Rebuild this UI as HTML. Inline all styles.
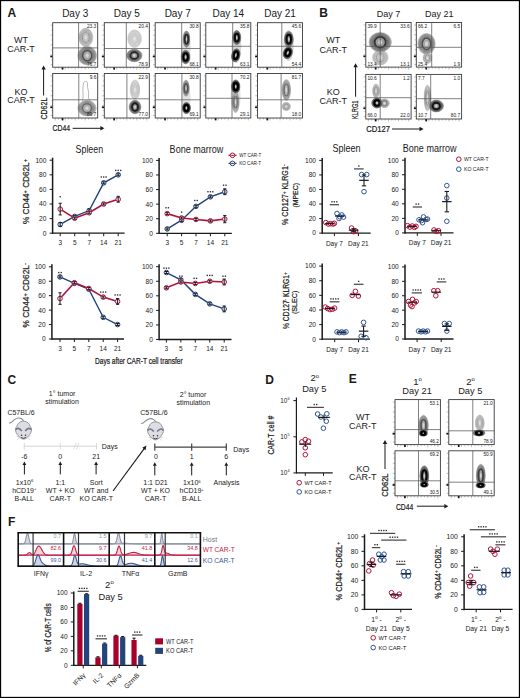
<!DOCTYPE html>
<html><head><meta charset="utf-8"><style>
html,body{margin:0;padding:0;background:#fff;}
svg{display:block;}
text{font-family:"Liberation Sans", sans-serif;}
</style></head><body>
<svg width="520" height="698" viewBox="0 0 520 698" font-family="Liberation Sans, sans-serif" fill="#1a1a1a">
<rect x="0" y="0" width="520" height="698" fill="#fff"/>
<text x="7.4" y="17" font-size="12" font-weight="bold">A</text>
<text x="75.2" y="17" font-size="10" text-anchor="middle">Day 3</text>
<text x="126.8" y="17" font-size="10" text-anchor="middle">Day 5</text>
<text x="177.7" y="17" font-size="10" text-anchor="middle">Day 7</text>
<text x="228.3" y="17" font-size="10" text-anchor="middle">Day 14</text>
<text x="280" y="17" font-size="10" text-anchor="middle">Day 21</text>
<text x="21" y="43" font-size="9" text-anchor="middle">WT</text>
<text x="21" y="52" font-size="9" text-anchor="middle">CAR-T</text>
<text x="21" y="94.6" font-size="9" text-anchor="middle">KO</text>
<text x="21" y="103.4" font-size="9" text-anchor="middle">CAR-T</text>
<line x1="43.6" y1="95.5" x2="43.6" y2="69.1" stroke="#1a1a1a" stroke-width="1"/>
<path d="M41.4 69.6 L43.6 65.6 L45.8 69.6 Z" stroke="none" stroke-width="1" fill="#1a1a1a"/>
<text x="47" y="119.6" font-size="9" textLength="22" lengthAdjust="spacingAndGlyphs" transform="rotate(-90 47 119.6)" stroke="#1a1a1a" stroke-width="0.22">CD62L</text>
<text x="52.5" y="131.2" font-size="9" textLength="17.5" lengthAdjust="spacingAndGlyphs" stroke="#1a1a1a" stroke-width="0.22">CD44</text>
<line x1="72.7" y1="128.3" x2="100.9" y2="128.3" stroke="#1a1a1a" stroke-width="1"/>
<path d="M100.4 126.1 L104.4 128.3 L100.4 130.5 Z" stroke="none" stroke-width="1" fill="#1a1a1a"/>
<line x1="50.5" y1="25.2" x2="52.7" y2="25.2" stroke="#888" stroke-width="0.55"/>
<line x1="51.3" y1="30.14" x2="52.7" y2="30.14" stroke="#888" stroke-width="0.55"/>
<line x1="50.5" y1="35.08" x2="52.7" y2="35.08" stroke="#888" stroke-width="0.55"/>
<line x1="51.3" y1="40.01" x2="52.7" y2="40.01" stroke="#888" stroke-width="0.55"/>
<line x1="50.5" y1="44.95" x2="52.7" y2="44.95" stroke="#888" stroke-width="0.55"/>
<line x1="51.3" y1="49.89" x2="52.7" y2="49.89" stroke="#888" stroke-width="0.55"/>
<line x1="50.5" y1="54.83" x2="52.7" y2="54.83" stroke="#888" stroke-width="0.55"/>
<line x1="51.3" y1="59.76" x2="52.7" y2="59.76" stroke="#888" stroke-width="0.55"/>
<line x1="50.5" y1="64.7" x2="52.7" y2="64.7" stroke="#888" stroke-width="0.55"/>
<line x1="55.2" y1="67.2" x2="55.2" y2="69.6" stroke="#888" stroke-width="0.55"/>
<line x1="58.53" y1="67.2" x2="58.53" y2="68.8" stroke="#888" stroke-width="0.55"/>
<line x1="61.87" y1="67.2" x2="61.87" y2="68.8" stroke="#888" stroke-width="0.55"/>
<line x1="65.2" y1="67.2" x2="65.2" y2="69.6" stroke="#888" stroke-width="0.55"/>
<line x1="68.53" y1="67.2" x2="68.53" y2="68.8" stroke="#888" stroke-width="0.55"/>
<line x1="71.87" y1="67.2" x2="71.87" y2="68.8" stroke="#888" stroke-width="0.55"/>
<line x1="75.2" y1="67.2" x2="75.2" y2="69.6" stroke="#888" stroke-width="0.55"/>
<line x1="78.53" y1="67.2" x2="78.53" y2="68.8" stroke="#888" stroke-width="0.55"/>
<line x1="81.87" y1="67.2" x2="81.87" y2="68.8" stroke="#888" stroke-width="0.55"/>
<line x1="85.2" y1="67.2" x2="85.2" y2="69.6" stroke="#888" stroke-width="0.55"/>
<line x1="88.53" y1="67.2" x2="88.53" y2="68.8" stroke="#888" stroke-width="0.55"/>
<line x1="91.87" y1="67.2" x2="91.87" y2="68.8" stroke="#888" stroke-width="0.55"/>
<line x1="95.2" y1="67.2" x2="95.2" y2="69.6" stroke="#888" stroke-width="0.55"/>
<rect x="50.3" y="55.63" width="2.4" height="1.7" fill="#111"/>
<rect x="61.7" y="67.2" width="1.7" height="2.4" fill="#111"/>
<rect x="52.7" y="22.7" width="45" height="44.5" fill="#fff" stroke="#3a3a3a" stroke-width="0.9"/>
<ellipse cx="85.8" cy="37.4" rx="7.06" ry="9.4" stroke="#b4b4b4" stroke-width="0.5" fill="#d8d8d8"/>
<ellipse cx="85.8" cy="37.4" rx="6.3" ry="8.7" stroke="#a4a4a4" stroke-width="0.62" fill="none"/>
<ellipse cx="85.8" cy="37.4" rx="5.67" ry="7.83" stroke="#9f9f9f" stroke-width="0.62" fill="none"/>
<ellipse cx="85.8" cy="37.4" rx="5.04" ry="6.96" stroke="#9b9b9b" stroke-width="0.62" fill="none"/>
<ellipse cx="85.8" cy="37.4" rx="4.41" ry="6.09" stroke="#979797" stroke-width="0.62" fill="none"/>
<ellipse cx="85.8" cy="37.4" rx="3.47" ry="5.22" stroke="#909090" stroke-width="0.95" fill="#c0c0c0"/>
<ellipse cx="85.8" cy="37.4" rx="1.26" ry="2.17" stroke="none" stroke-width="1" fill="#dfdfdf"/>
<ellipse cx="87.2" cy="55.6" rx="9.41" ry="9.29" stroke="#9e9e9e" stroke-width="0.5" fill="#c7c7c7"/>
<ellipse cx="87.2" cy="55.6" rx="8.4" ry="8.6" stroke="#8c8c8c" stroke-width="0.81" fill="none"/>
<ellipse cx="87.2" cy="55.6" rx="7.73" ry="7.91" stroke="#848484" stroke-width="0.81" fill="none"/>
<ellipse cx="87.2" cy="55.6" rx="7.06" ry="7.22" stroke="#7d7d7d" stroke-width="0.81" fill="none"/>
<ellipse cx="87.2" cy="55.6" rx="6.38" ry="6.54" stroke="#757575" stroke-width="0.81" fill="none"/>
<ellipse cx="87.2" cy="55.6" rx="5.71" ry="5.85" stroke="#6e6e6e" stroke-width="0.81" fill="none"/>
<ellipse cx="87.2" cy="55.6" rx="4.62" ry="5.16" stroke="#505050" stroke-width="1.46" fill="#a7a7a7"/>
<ellipse cx="87.2" cy="55.6" rx="1.68" ry="2.15" stroke="none" stroke-width="1" fill="#d6d6d6"/>
<line x1="78.6" y1="22.7" x2="78.6" y2="67.2" stroke="#555" stroke-width="0.75"/>
<line x1="52.7" y1="47.9" x2="97.7" y2="47.9" stroke="#555" stroke-width="0.75"/>
<text x="96.3" y="28.3" font-size="4.8" text-anchor="end">23.3</text>
<text x="96.3" y="65.6" font-size="4.8" text-anchor="end">76.7</text>
<line x1="102.1" y1="25.2" x2="104.3" y2="25.2" stroke="#888" stroke-width="0.55"/>
<line x1="102.9" y1="30.14" x2="104.3" y2="30.14" stroke="#888" stroke-width="0.55"/>
<line x1="102.1" y1="35.08" x2="104.3" y2="35.08" stroke="#888" stroke-width="0.55"/>
<line x1="102.9" y1="40.01" x2="104.3" y2="40.01" stroke="#888" stroke-width="0.55"/>
<line x1="102.1" y1="44.95" x2="104.3" y2="44.95" stroke="#888" stroke-width="0.55"/>
<line x1="102.9" y1="49.89" x2="104.3" y2="49.89" stroke="#888" stroke-width="0.55"/>
<line x1="102.1" y1="54.83" x2="104.3" y2="54.83" stroke="#888" stroke-width="0.55"/>
<line x1="102.9" y1="59.76" x2="104.3" y2="59.76" stroke="#888" stroke-width="0.55"/>
<line x1="102.1" y1="64.7" x2="104.3" y2="64.7" stroke="#888" stroke-width="0.55"/>
<line x1="106.8" y1="67.2" x2="106.8" y2="69.6" stroke="#888" stroke-width="0.55"/>
<line x1="110.13" y1="67.2" x2="110.13" y2="68.8" stroke="#888" stroke-width="0.55"/>
<line x1="113.47" y1="67.2" x2="113.47" y2="68.8" stroke="#888" stroke-width="0.55"/>
<line x1="116.8" y1="67.2" x2="116.8" y2="69.6" stroke="#888" stroke-width="0.55"/>
<line x1="120.13" y1="67.2" x2="120.13" y2="68.8" stroke="#888" stroke-width="0.55"/>
<line x1="123.47" y1="67.2" x2="123.47" y2="68.8" stroke="#888" stroke-width="0.55"/>
<line x1="126.8" y1="67.2" x2="126.8" y2="69.6" stroke="#888" stroke-width="0.55"/>
<line x1="130.13" y1="67.2" x2="130.13" y2="68.8" stroke="#888" stroke-width="0.55"/>
<line x1="133.47" y1="67.2" x2="133.47" y2="68.8" stroke="#888" stroke-width="0.55"/>
<line x1="136.8" y1="67.2" x2="136.8" y2="69.6" stroke="#888" stroke-width="0.55"/>
<line x1="140.13" y1="67.2" x2="140.13" y2="68.8" stroke="#888" stroke-width="0.55"/>
<line x1="143.47" y1="67.2" x2="143.47" y2="68.8" stroke="#888" stroke-width="0.55"/>
<line x1="146.8" y1="67.2" x2="146.8" y2="69.6" stroke="#888" stroke-width="0.55"/>
<rect x="101.9" y="55.63" width="2.4" height="1.7" fill="#111"/>
<rect x="113.3" y="67.2" width="1.7" height="2.4" fill="#111"/>
<rect x="104.3" y="22.7" width="45" height="44.5" fill="#fff" stroke="#3a3a3a" stroke-width="0.9"/>
<ellipse cx="134.6" cy="38.7" rx="6.94" ry="8.86" stroke="#c2c2c2" stroke-width="0.5" fill="#e3e3e3"/>
<ellipse cx="134.6" cy="38.7" rx="6.2" ry="8.2" stroke="#b3b3b3" stroke-width="0.5" fill="none"/>
<ellipse cx="134.6" cy="38.7" rx="5.37" ry="7.11" stroke="#b1b1b1" stroke-width="0.5" fill="none"/>
<ellipse cx="134.6" cy="38.7" rx="4.55" ry="6.01" stroke="#b0b0b0" stroke-width="0.5" fill="none"/>
<ellipse cx="134.6" cy="38.7" rx="3.41" ry="4.92" stroke="#b8b8b8" stroke-width="0.63" fill="#d0d0d0"/>
<ellipse cx="134.6" cy="38.7" rx="1.24" ry="2.05" stroke="none" stroke-width="1" fill="#e5e5e5"/>
<ellipse cx="134.3" cy="55.5" rx="7.84" ry="6.26" stroke="#909090" stroke-width="0.5" fill="#bcbcbc"/>
<ellipse cx="134.3" cy="55.5" rx="7" ry="5.8" stroke="#7d7d7d" stroke-width="0.93" fill="none"/>
<ellipse cx="134.3" cy="55.5" rx="6.3" ry="5.22" stroke="#717171" stroke-width="0.93" fill="none"/>
<ellipse cx="134.3" cy="55.5" rx="5.6" ry="4.64" stroke="#656565" stroke-width="0.93" fill="none"/>
<ellipse cx="134.3" cy="55.5" rx="4.9" ry="4.06" stroke="#595959" stroke-width="0.93" fill="none"/>
<ellipse cx="134.3" cy="55.5" rx="3.85" ry="3.48" stroke="#282828" stroke-width="1.78" fill="#979797"/>
<ellipse cx="134.3" cy="55.5" rx="1.4" ry="1.45" stroke="none" stroke-width="1" fill="#d0d0d0"/>
<line x1="126.3" y1="22.7" x2="126.3" y2="67.2" stroke="#555" stroke-width="0.75"/>
<line x1="104.3" y1="48.5" x2="149.3" y2="48.5" stroke="#555" stroke-width="0.75"/>
<text x="147.9" y="28.3" font-size="4.8" text-anchor="end">20.4</text>
<text x="147.9" y="65.6" font-size="4.8" text-anchor="end">78.9</text>
<line x1="153" y1="25.2" x2="155.2" y2="25.2" stroke="#888" stroke-width="0.55"/>
<line x1="153.8" y1="30.14" x2="155.2" y2="30.14" stroke="#888" stroke-width="0.55"/>
<line x1="153" y1="35.08" x2="155.2" y2="35.08" stroke="#888" stroke-width="0.55"/>
<line x1="153.8" y1="40.01" x2="155.2" y2="40.01" stroke="#888" stroke-width="0.55"/>
<line x1="153" y1="44.95" x2="155.2" y2="44.95" stroke="#888" stroke-width="0.55"/>
<line x1="153.8" y1="49.89" x2="155.2" y2="49.89" stroke="#888" stroke-width="0.55"/>
<line x1="153" y1="54.83" x2="155.2" y2="54.83" stroke="#888" stroke-width="0.55"/>
<line x1="153.8" y1="59.76" x2="155.2" y2="59.76" stroke="#888" stroke-width="0.55"/>
<line x1="153" y1="64.7" x2="155.2" y2="64.7" stroke="#888" stroke-width="0.55"/>
<line x1="157.7" y1="67.2" x2="157.7" y2="69.6" stroke="#888" stroke-width="0.55"/>
<line x1="161.03" y1="67.2" x2="161.03" y2="68.8" stroke="#888" stroke-width="0.55"/>
<line x1="164.37" y1="67.2" x2="164.37" y2="68.8" stroke="#888" stroke-width="0.55"/>
<line x1="167.7" y1="67.2" x2="167.7" y2="69.6" stroke="#888" stroke-width="0.55"/>
<line x1="171.03" y1="67.2" x2="171.03" y2="68.8" stroke="#888" stroke-width="0.55"/>
<line x1="174.37" y1="67.2" x2="174.37" y2="68.8" stroke="#888" stroke-width="0.55"/>
<line x1="177.7" y1="67.2" x2="177.7" y2="69.6" stroke="#888" stroke-width="0.55"/>
<line x1="181.03" y1="67.2" x2="181.03" y2="68.8" stroke="#888" stroke-width="0.55"/>
<line x1="184.37" y1="67.2" x2="184.37" y2="68.8" stroke="#888" stroke-width="0.55"/>
<line x1="187.7" y1="67.2" x2="187.7" y2="69.6" stroke="#888" stroke-width="0.55"/>
<line x1="191.03" y1="67.2" x2="191.03" y2="68.8" stroke="#888" stroke-width="0.55"/>
<line x1="194.37" y1="67.2" x2="194.37" y2="68.8" stroke="#888" stroke-width="0.55"/>
<line x1="197.7" y1="67.2" x2="197.7" y2="69.6" stroke="#888" stroke-width="0.55"/>
<rect x="152.8" y="55.63" width="2.4" height="1.7" fill="#111"/>
<rect x="164.2" y="67.2" width="1.7" height="2.4" fill="#111"/>
<rect x="155.2" y="22.7" width="45" height="44.5" fill="#fff" stroke="#3a3a3a" stroke-width="0.9"/>
<ellipse cx="186" cy="47.5" rx="4.6" ry="17" stroke="none" stroke-width="1" fill="#dedede"/>
<ellipse cx="186.5" cy="39.2" rx="3.36" ry="8.21" stroke="#909090" stroke-width="0.5" fill="#bcbcbc"/>
<ellipse cx="186.5" cy="39.2" rx="3" ry="7.6" stroke="#7d7d7d" stroke-width="0.93" fill="none"/>
<ellipse cx="186.5" cy="39.2" rx="2.6" ry="6.59" stroke="#6e6e6e" stroke-width="0.93" fill="none"/>
<ellipse cx="186.5" cy="39.2" rx="2.2" ry="5.57" stroke="#5f5f5f" stroke-width="0.93" fill="none"/>
<ellipse cx="186.5" cy="39.2" rx="1.65" ry="4.56" stroke="#282828" stroke-width="1.78" fill="#979797"/>
<ellipse cx="186.5" cy="39.2" rx="0.6" ry="1.9" stroke="none" stroke-width="1" fill="#d0d0d0"/>
<ellipse cx="185.6" cy="57" rx="4.48" ry="6.7" stroke="#828282" stroke-width="0.5" fill="#b1b1b1"/>
<ellipse cx="185.6" cy="57" rx="4" ry="6.2" stroke="#6e6e6e" stroke-width="1.05" fill="none"/>
<ellipse cx="185.6" cy="57" rx="3.6" ry="5.58" stroke="#5f5f5f" stroke-width="1.05" fill="none"/>
<ellipse cx="185.6" cy="57" rx="3.2" ry="4.96" stroke="#505050" stroke-width="1.05" fill="none"/>
<ellipse cx="185.6" cy="57" rx="2.8" ry="4.34" stroke="#414141" stroke-width="1.05" fill="none"/>
<ellipse cx="185.6" cy="57" rx="2.2" ry="3.72" stroke="#000000" stroke-width="2.1" fill="#878787"/>
<ellipse cx="185.6" cy="57" rx="0.8" ry="1.55" stroke="none" stroke-width="1" fill="#cacaca"/>
<line x1="181.7" y1="22.7" x2="181.7" y2="67.2" stroke="#555" stroke-width="0.75"/>
<line x1="155.2" y1="48.5" x2="200.2" y2="48.5" stroke="#555" stroke-width="0.75"/>
<text x="198.8" y="28.3" font-size="4.8" text-anchor="end">30.8</text>
<text x="198.8" y="65.6" font-size="4.8" text-anchor="end">68.1</text>
<line x1="203.6" y1="25.2" x2="205.8" y2="25.2" stroke="#888" stroke-width="0.55"/>
<line x1="204.4" y1="30.14" x2="205.8" y2="30.14" stroke="#888" stroke-width="0.55"/>
<line x1="203.6" y1="35.08" x2="205.8" y2="35.08" stroke="#888" stroke-width="0.55"/>
<line x1="204.4" y1="40.01" x2="205.8" y2="40.01" stroke="#888" stroke-width="0.55"/>
<line x1="203.6" y1="44.95" x2="205.8" y2="44.95" stroke="#888" stroke-width="0.55"/>
<line x1="204.4" y1="49.89" x2="205.8" y2="49.89" stroke="#888" stroke-width="0.55"/>
<line x1="203.6" y1="54.83" x2="205.8" y2="54.83" stroke="#888" stroke-width="0.55"/>
<line x1="204.4" y1="59.76" x2="205.8" y2="59.76" stroke="#888" stroke-width="0.55"/>
<line x1="203.6" y1="64.7" x2="205.8" y2="64.7" stroke="#888" stroke-width="0.55"/>
<line x1="208.3" y1="67.2" x2="208.3" y2="69.6" stroke="#888" stroke-width="0.55"/>
<line x1="211.63" y1="67.2" x2="211.63" y2="68.8" stroke="#888" stroke-width="0.55"/>
<line x1="214.97" y1="67.2" x2="214.97" y2="68.8" stroke="#888" stroke-width="0.55"/>
<line x1="218.3" y1="67.2" x2="218.3" y2="69.6" stroke="#888" stroke-width="0.55"/>
<line x1="221.63" y1="67.2" x2="221.63" y2="68.8" stroke="#888" stroke-width="0.55"/>
<line x1="224.97" y1="67.2" x2="224.97" y2="68.8" stroke="#888" stroke-width="0.55"/>
<line x1="228.3" y1="67.2" x2="228.3" y2="69.6" stroke="#888" stroke-width="0.55"/>
<line x1="231.63" y1="67.2" x2="231.63" y2="68.8" stroke="#888" stroke-width="0.55"/>
<line x1="234.97" y1="67.2" x2="234.97" y2="68.8" stroke="#888" stroke-width="0.55"/>
<line x1="238.3" y1="67.2" x2="238.3" y2="69.6" stroke="#888" stroke-width="0.55"/>
<line x1="241.63" y1="67.2" x2="241.63" y2="68.8" stroke="#888" stroke-width="0.55"/>
<line x1="244.97" y1="67.2" x2="244.97" y2="68.8" stroke="#888" stroke-width="0.55"/>
<line x1="248.3" y1="67.2" x2="248.3" y2="69.6" stroke="#888" stroke-width="0.55"/>
<rect x="203.4" y="55.63" width="2.4" height="1.7" fill="#111"/>
<rect x="214.8" y="67.2" width="1.7" height="2.4" fill="#111"/>
<rect x="205.8" y="22.7" width="45" height="44.5" fill="#fff" stroke="#3a3a3a" stroke-width="0.9"/>
<ellipse cx="236.3" cy="46.5" rx="5" ry="16.5" stroke="none" stroke-width="1" fill="#d8d8d8"/>
<ellipse cx="236.8" cy="37.6" rx="4.03" ry="7.13" stroke="#858585" stroke-width="0.5" fill="#b3b3b3"/>
<ellipse cx="236.8" cy="37.6" rx="3.6" ry="6.6" stroke="#717171" stroke-width="1.02" fill="none"/>
<ellipse cx="236.8" cy="37.6" rx="3.12" ry="5.72" stroke="#5f5f5f" stroke-width="1.02" fill="none"/>
<ellipse cx="236.8" cy="37.6" rx="2.64" ry="4.84" stroke="#4e4e4e" stroke-width="1.02" fill="none"/>
<ellipse cx="236.8" cy="37.6" rx="1.98" ry="3.96" stroke="#0a0a0a" stroke-width="2.02" fill="#8b8b8b"/>
<ellipse cx="236.8" cy="37.6" rx="0.72" ry="1.65" stroke="none" stroke-width="1" fill="#cbcbcb"/>
<ellipse cx="235.8" cy="55.3" rx="4.14" ry="6.59" stroke="#7b7b7b" stroke-width="0.5" fill="#ababab" transform="rotate(12 235.8 55.3)"/>
<ellipse cx="235.8" cy="55.3" rx="3.7" ry="6.1" stroke="#666666" stroke-width="1.11" fill="none" transform="rotate(12 235.8 55.3)"/>
<ellipse cx="235.8" cy="55.3" rx="3.33" ry="5.49" stroke="#565656" stroke-width="1.11" fill="none" transform="rotate(12 235.8 55.3)"/>
<ellipse cx="235.8" cy="55.3" rx="2.96" ry="4.88" stroke="#454545" stroke-width="1.11" fill="none" transform="rotate(12 235.8 55.3)"/>
<ellipse cx="235.8" cy="55.3" rx="2.59" ry="4.27" stroke="#353535" stroke-width="1.11" fill="none" transform="rotate(12 235.8 55.3)"/>
<ellipse cx="235.8" cy="55.3" rx="2.04" ry="3.66" stroke="#000000" stroke-width="2.26" fill="#7f7f7f" transform="rotate(12 235.8 55.3)"/>
<ellipse cx="235.8" cy="55.3" rx="0.74" ry="1.52" stroke="none" stroke-width="1" fill="#c7c7c7" transform="rotate(12 235.8 55.3)"/>
<line x1="232.7" y1="22.7" x2="232.7" y2="67.2" stroke="#555" stroke-width="0.75"/>
<line x1="205.8" y1="46.3" x2="250.8" y2="46.3" stroke="#555" stroke-width="0.75"/>
<text x="249.4" y="28.3" font-size="4.8" text-anchor="end">35.8</text>
<text x="249.4" y="65.6" font-size="4.8" text-anchor="end">63.1</text>
<line x1="255.3" y1="25.2" x2="257.5" y2="25.2" stroke="#888" stroke-width="0.55"/>
<line x1="256.1" y1="30.14" x2="257.5" y2="30.14" stroke="#888" stroke-width="0.55"/>
<line x1="255.3" y1="35.08" x2="257.5" y2="35.08" stroke="#888" stroke-width="0.55"/>
<line x1="256.1" y1="40.01" x2="257.5" y2="40.01" stroke="#888" stroke-width="0.55"/>
<line x1="255.3" y1="44.95" x2="257.5" y2="44.95" stroke="#888" stroke-width="0.55"/>
<line x1="256.1" y1="49.89" x2="257.5" y2="49.89" stroke="#888" stroke-width="0.55"/>
<line x1="255.3" y1="54.83" x2="257.5" y2="54.83" stroke="#888" stroke-width="0.55"/>
<line x1="256.1" y1="59.76" x2="257.5" y2="59.76" stroke="#888" stroke-width="0.55"/>
<line x1="255.3" y1="64.7" x2="257.5" y2="64.7" stroke="#888" stroke-width="0.55"/>
<line x1="260" y1="67.2" x2="260" y2="69.6" stroke="#888" stroke-width="0.55"/>
<line x1="263.33" y1="67.2" x2="263.33" y2="68.8" stroke="#888" stroke-width="0.55"/>
<line x1="266.67" y1="67.2" x2="266.67" y2="68.8" stroke="#888" stroke-width="0.55"/>
<line x1="270" y1="67.2" x2="270" y2="69.6" stroke="#888" stroke-width="0.55"/>
<line x1="273.33" y1="67.2" x2="273.33" y2="68.8" stroke="#888" stroke-width="0.55"/>
<line x1="276.67" y1="67.2" x2="276.67" y2="68.8" stroke="#888" stroke-width="0.55"/>
<line x1="280" y1="67.2" x2="280" y2="69.6" stroke="#888" stroke-width="0.55"/>
<line x1="283.33" y1="67.2" x2="283.33" y2="68.8" stroke="#888" stroke-width="0.55"/>
<line x1="286.67" y1="67.2" x2="286.67" y2="68.8" stroke="#888" stroke-width="0.55"/>
<line x1="290" y1="67.2" x2="290" y2="69.6" stroke="#888" stroke-width="0.55"/>
<line x1="293.33" y1="67.2" x2="293.33" y2="68.8" stroke="#888" stroke-width="0.55"/>
<line x1="296.67" y1="67.2" x2="296.67" y2="68.8" stroke="#888" stroke-width="0.55"/>
<line x1="300" y1="67.2" x2="300" y2="69.6" stroke="#888" stroke-width="0.55"/>
<rect x="255.1" y="55.63" width="2.4" height="1.7" fill="#111"/>
<rect x="266.5" y="67.2" width="1.7" height="2.4" fill="#111"/>
<rect x="257.5" y="22.7" width="45" height="44.5" fill="#fff" stroke="#3a3a3a" stroke-width="0.9"/>
<ellipse cx="288.5" cy="45.5" rx="5.3" ry="15.5" stroke="none" stroke-width="1" fill="#d8d8d8"/>
<ellipse cx="288.8" cy="39.2" rx="4.48" ry="7.78" stroke="#858585" stroke-width="0.5" fill="#b3b3b3"/>
<ellipse cx="288.8" cy="39.2" rx="4" ry="7.2" stroke="#717171" stroke-width="1.02" fill="none"/>
<ellipse cx="288.8" cy="39.2" rx="3.47" ry="6.24" stroke="#5f5f5f" stroke-width="1.02" fill="none"/>
<ellipse cx="288.8" cy="39.2" rx="2.93" ry="5.28" stroke="#4e4e4e" stroke-width="1.02" fill="none"/>
<ellipse cx="288.8" cy="39.2" rx="2.2" ry="4.32" stroke="#0a0a0a" stroke-width="2.02" fill="#8b8b8b"/>
<ellipse cx="288.8" cy="39.2" rx="0.8" ry="1.8" stroke="none" stroke-width="1" fill="#cbcbcb"/>
<ellipse cx="287.8" cy="52.8" rx="4.48" ry="6.05" stroke="#7b7b7b" stroke-width="0.5" fill="#ababab" transform="rotate(20 287.8 52.8)"/>
<ellipse cx="287.8" cy="52.8" rx="4" ry="5.6" stroke="#666666" stroke-width="1.11" fill="none" transform="rotate(20 287.8 52.8)"/>
<ellipse cx="287.8" cy="52.8" rx="3.6" ry="5.04" stroke="#565656" stroke-width="1.11" fill="none" transform="rotate(20 287.8 52.8)"/>
<ellipse cx="287.8" cy="52.8" rx="3.2" ry="4.48" stroke="#454545" stroke-width="1.11" fill="none" transform="rotate(20 287.8 52.8)"/>
<ellipse cx="287.8" cy="52.8" rx="2.8" ry="3.92" stroke="#353535" stroke-width="1.11" fill="none" transform="rotate(20 287.8 52.8)"/>
<ellipse cx="287.8" cy="52.8" rx="2.2" ry="3.36" stroke="#000000" stroke-width="2.26" fill="#7f7f7f" transform="rotate(20 287.8 52.8)"/>
<ellipse cx="287.8" cy="52.8" rx="0.8" ry="1.4" stroke="none" stroke-width="1" fill="#c7c7c7" transform="rotate(20 287.8 52.8)"/>
<line x1="281.8" y1="22.7" x2="281.8" y2="67.2" stroke="#555" stroke-width="0.75"/>
<line x1="257.5" y1="46.3" x2="302.5" y2="46.3" stroke="#555" stroke-width="0.75"/>
<text x="301.1" y="28.3" font-size="4.8" text-anchor="end">45.6</text>
<text x="301.1" y="65.6" font-size="4.8" text-anchor="end">54.4</text>
<line x1="50.5" y1="76" x2="52.7" y2="76" stroke="#888" stroke-width="0.55"/>
<line x1="51.3" y1="80.94" x2="52.7" y2="80.94" stroke="#888" stroke-width="0.55"/>
<line x1="50.5" y1="85.88" x2="52.7" y2="85.88" stroke="#888" stroke-width="0.55"/>
<line x1="51.3" y1="90.81" x2="52.7" y2="90.81" stroke="#888" stroke-width="0.55"/>
<line x1="50.5" y1="95.75" x2="52.7" y2="95.75" stroke="#888" stroke-width="0.55"/>
<line x1="51.3" y1="100.69" x2="52.7" y2="100.69" stroke="#888" stroke-width="0.55"/>
<line x1="50.5" y1="105.62" x2="52.7" y2="105.62" stroke="#888" stroke-width="0.55"/>
<line x1="51.3" y1="110.56" x2="52.7" y2="110.56" stroke="#888" stroke-width="0.55"/>
<line x1="50.5" y1="115.5" x2="52.7" y2="115.5" stroke="#888" stroke-width="0.55"/>
<line x1="55.2" y1="118" x2="55.2" y2="120.4" stroke="#888" stroke-width="0.55"/>
<line x1="58.53" y1="118" x2="58.53" y2="119.6" stroke="#888" stroke-width="0.55"/>
<line x1="61.87" y1="118" x2="61.87" y2="119.6" stroke="#888" stroke-width="0.55"/>
<line x1="65.2" y1="118" x2="65.2" y2="120.4" stroke="#888" stroke-width="0.55"/>
<line x1="68.53" y1="118" x2="68.53" y2="119.6" stroke="#888" stroke-width="0.55"/>
<line x1="71.87" y1="118" x2="71.87" y2="119.6" stroke="#888" stroke-width="0.55"/>
<line x1="75.2" y1="118" x2="75.2" y2="120.4" stroke="#888" stroke-width="0.55"/>
<line x1="78.53" y1="118" x2="78.53" y2="119.6" stroke="#888" stroke-width="0.55"/>
<line x1="81.87" y1="118" x2="81.87" y2="119.6" stroke="#888" stroke-width="0.55"/>
<line x1="85.2" y1="118" x2="85.2" y2="120.4" stroke="#888" stroke-width="0.55"/>
<line x1="88.53" y1="118" x2="88.53" y2="119.6" stroke="#888" stroke-width="0.55"/>
<line x1="91.87" y1="118" x2="91.87" y2="119.6" stroke="#888" stroke-width="0.55"/>
<line x1="95.2" y1="118" x2="95.2" y2="120.4" stroke="#888" stroke-width="0.55"/>
<rect x="50.3" y="106.43" width="2.4" height="1.7" fill="#111"/>
<rect x="61.7" y="118" width="1.7" height="2.4" fill="#111"/>
<rect x="52.7" y="73.5" width="45" height="44.5" fill="#fff" stroke="#3a3a3a" stroke-width="0.9"/>
<path d="M82.5 101 C84 96 82 88 83.5 83 C85 80 88 81 87.5 85 C87 88 89.5 92 88.5 96 C88 99 90 100 91 102" stroke="#888" stroke-width="0.6" fill="none"/>
<ellipse cx="87" cy="108.2" rx="9.18" ry="7.78" stroke="#a5a5a5" stroke-width="0.5" fill="#cccccc"/>
<ellipse cx="87" cy="108.2" rx="8.2" ry="7.2" stroke="#939393" stroke-width="0.75" fill="none"/>
<ellipse cx="87" cy="108.2" rx="7.54" ry="6.62" stroke="#8d8d8d" stroke-width="0.75" fill="none"/>
<ellipse cx="87" cy="108.2" rx="6.89" ry="6.05" stroke="#878787" stroke-width="0.75" fill="none"/>
<ellipse cx="87" cy="108.2" rx="6.23" ry="5.47" stroke="#808080" stroke-width="0.75" fill="none"/>
<ellipse cx="87" cy="108.2" rx="5.58" ry="4.9" stroke="#7a7a7a" stroke-width="0.75" fill="none"/>
<ellipse cx="87" cy="108.2" rx="4.51" ry="4.32" stroke="#646464" stroke-width="1.3" fill="#afafaf"/>
<ellipse cx="87" cy="108.2" rx="1.64" ry="1.8" stroke="none" stroke-width="1" fill="#d9d9d9"/>
<line x1="78.8" y1="73.5" x2="78.8" y2="118" stroke="#555" stroke-width="0.75"/>
<line x1="52.7" y1="99.8" x2="97.7" y2="99.8" stroke="#555" stroke-width="0.75"/>
<text x="96.3" y="79.1" font-size="4.8" text-anchor="end">9.6</text>
<text x="96.3" y="116.4" font-size="4.8" text-anchor="end">89.7</text>
<line x1="102.1" y1="76" x2="104.3" y2="76" stroke="#888" stroke-width="0.55"/>
<line x1="102.9" y1="80.94" x2="104.3" y2="80.94" stroke="#888" stroke-width="0.55"/>
<line x1="102.1" y1="85.88" x2="104.3" y2="85.88" stroke="#888" stroke-width="0.55"/>
<line x1="102.9" y1="90.81" x2="104.3" y2="90.81" stroke="#888" stroke-width="0.55"/>
<line x1="102.1" y1="95.75" x2="104.3" y2="95.75" stroke="#888" stroke-width="0.55"/>
<line x1="102.9" y1="100.69" x2="104.3" y2="100.69" stroke="#888" stroke-width="0.55"/>
<line x1="102.1" y1="105.62" x2="104.3" y2="105.62" stroke="#888" stroke-width="0.55"/>
<line x1="102.9" y1="110.56" x2="104.3" y2="110.56" stroke="#888" stroke-width="0.55"/>
<line x1="102.1" y1="115.5" x2="104.3" y2="115.5" stroke="#888" stroke-width="0.55"/>
<line x1="106.8" y1="118" x2="106.8" y2="120.4" stroke="#888" stroke-width="0.55"/>
<line x1="110.13" y1="118" x2="110.13" y2="119.6" stroke="#888" stroke-width="0.55"/>
<line x1="113.47" y1="118" x2="113.47" y2="119.6" stroke="#888" stroke-width="0.55"/>
<line x1="116.8" y1="118" x2="116.8" y2="120.4" stroke="#888" stroke-width="0.55"/>
<line x1="120.13" y1="118" x2="120.13" y2="119.6" stroke="#888" stroke-width="0.55"/>
<line x1="123.47" y1="118" x2="123.47" y2="119.6" stroke="#888" stroke-width="0.55"/>
<line x1="126.8" y1="118" x2="126.8" y2="120.4" stroke="#888" stroke-width="0.55"/>
<line x1="130.13" y1="118" x2="130.13" y2="119.6" stroke="#888" stroke-width="0.55"/>
<line x1="133.47" y1="118" x2="133.47" y2="119.6" stroke="#888" stroke-width="0.55"/>
<line x1="136.8" y1="118" x2="136.8" y2="120.4" stroke="#888" stroke-width="0.55"/>
<line x1="140.13" y1="118" x2="140.13" y2="119.6" stroke="#888" stroke-width="0.55"/>
<line x1="143.47" y1="118" x2="143.47" y2="119.6" stroke="#888" stroke-width="0.55"/>
<line x1="146.8" y1="118" x2="146.8" y2="120.4" stroke="#888" stroke-width="0.55"/>
<rect x="101.9" y="106.43" width="2.4" height="1.7" fill="#111"/>
<rect x="113.3" y="118" width="1.7" height="2.4" fill="#111"/>
<rect x="104.3" y="73.5" width="45" height="44.5" fill="#fff" stroke="#3a3a3a" stroke-width="0.9"/>
<ellipse cx="135" cy="89.7" rx="4.82" ry="9.72" stroke="#c2c2c2" stroke-width="0.5" fill="#e3e3e3"/>
<ellipse cx="135" cy="89.7" rx="4.3" ry="9" stroke="#b3b3b3" stroke-width="0.5" fill="none"/>
<ellipse cx="135" cy="89.7" rx="3.73" ry="7.8" stroke="#b1b1b1" stroke-width="0.5" fill="none"/>
<ellipse cx="135" cy="89.7" rx="3.15" ry="6.6" stroke="#b0b0b0" stroke-width="0.5" fill="none"/>
<ellipse cx="135" cy="89.7" rx="2.37" ry="5.4" stroke="#b8b8b8" stroke-width="0.63" fill="#d0d0d0"/>
<ellipse cx="135" cy="89.7" rx="0.86" ry="2.25" stroke="none" stroke-width="1" fill="#e5e5e5"/>
<ellipse cx="135" cy="107" rx="5.94" ry="6.8" stroke="#8c8c8c" stroke-width="0.5" fill="#b9b9b9"/>
<ellipse cx="135" cy="107" rx="5.3" ry="6.3" stroke="#797979" stroke-width="0.96" fill="none"/>
<ellipse cx="135" cy="107" rx="4.77" ry="5.67" stroke="#6c6c6c" stroke-width="0.96" fill="none"/>
<ellipse cx="135" cy="107" rx="4.24" ry="5.04" stroke="#5f5f5f" stroke-width="0.96" fill="none"/>
<ellipse cx="135" cy="107" rx="3.71" ry="4.41" stroke="#535353" stroke-width="0.96" fill="none"/>
<ellipse cx="135" cy="107" rx="2.92" ry="3.78" stroke="#1e1e1e" stroke-width="1.86" fill="#939393"/>
<ellipse cx="135" cy="107" rx="1.06" ry="1.57" stroke="none" stroke-width="1" fill="#cecece"/>
<line x1="126.9" y1="73.5" x2="126.9" y2="118" stroke="#555" stroke-width="0.75"/>
<line x1="104.3" y1="98.8" x2="149.3" y2="98.8" stroke="#555" stroke-width="0.75"/>
<text x="147.9" y="79.1" font-size="4.8" text-anchor="end">22.9</text>
<text x="147.9" y="116.4" font-size="4.8" text-anchor="end">77.0</text>
<line x1="153" y1="76" x2="155.2" y2="76" stroke="#888" stroke-width="0.55"/>
<line x1="153.8" y1="80.94" x2="155.2" y2="80.94" stroke="#888" stroke-width="0.55"/>
<line x1="153" y1="85.88" x2="155.2" y2="85.88" stroke="#888" stroke-width="0.55"/>
<line x1="153.8" y1="90.81" x2="155.2" y2="90.81" stroke="#888" stroke-width="0.55"/>
<line x1="153" y1="95.75" x2="155.2" y2="95.75" stroke="#888" stroke-width="0.55"/>
<line x1="153.8" y1="100.69" x2="155.2" y2="100.69" stroke="#888" stroke-width="0.55"/>
<line x1="153" y1="105.62" x2="155.2" y2="105.62" stroke="#888" stroke-width="0.55"/>
<line x1="153.8" y1="110.56" x2="155.2" y2="110.56" stroke="#888" stroke-width="0.55"/>
<line x1="153" y1="115.5" x2="155.2" y2="115.5" stroke="#888" stroke-width="0.55"/>
<line x1="157.7" y1="118" x2="157.7" y2="120.4" stroke="#888" stroke-width="0.55"/>
<line x1="161.03" y1="118" x2="161.03" y2="119.6" stroke="#888" stroke-width="0.55"/>
<line x1="164.37" y1="118" x2="164.37" y2="119.6" stroke="#888" stroke-width="0.55"/>
<line x1="167.7" y1="118" x2="167.7" y2="120.4" stroke="#888" stroke-width="0.55"/>
<line x1="171.03" y1="118" x2="171.03" y2="119.6" stroke="#888" stroke-width="0.55"/>
<line x1="174.37" y1="118" x2="174.37" y2="119.6" stroke="#888" stroke-width="0.55"/>
<line x1="177.7" y1="118" x2="177.7" y2="120.4" stroke="#888" stroke-width="0.55"/>
<line x1="181.03" y1="118" x2="181.03" y2="119.6" stroke="#888" stroke-width="0.55"/>
<line x1="184.37" y1="118" x2="184.37" y2="119.6" stroke="#888" stroke-width="0.55"/>
<line x1="187.7" y1="118" x2="187.7" y2="120.4" stroke="#888" stroke-width="0.55"/>
<line x1="191.03" y1="118" x2="191.03" y2="119.6" stroke="#888" stroke-width="0.55"/>
<line x1="194.37" y1="118" x2="194.37" y2="119.6" stroke="#888" stroke-width="0.55"/>
<line x1="197.7" y1="118" x2="197.7" y2="120.4" stroke="#888" stroke-width="0.55"/>
<rect x="152.8" y="106.43" width="2.4" height="1.7" fill="#111"/>
<rect x="164.2" y="118" width="1.7" height="2.4" fill="#111"/>
<rect x="155.2" y="73.5" width="45" height="44.5" fill="#fff" stroke="#3a3a3a" stroke-width="0.9"/>
<ellipse cx="186.2" cy="97.5" rx="4.4" ry="17" stroke="none" stroke-width="1" fill="#e2e2e2"/>
<ellipse cx="186" cy="88.2" rx="3.14" ry="8.1" stroke="#9e9e9e" stroke-width="0.5" fill="#c7c7c7"/>
<ellipse cx="186" cy="88.2" rx="2.8" ry="7.5" stroke="#8c8c8c" stroke-width="0.81" fill="none"/>
<ellipse cx="186" cy="88.2" rx="2.43" ry="6.5" stroke="#808080" stroke-width="0.81" fill="none"/>
<ellipse cx="186" cy="88.2" rx="2.05" ry="5.5" stroke="#757575" stroke-width="0.81" fill="none"/>
<ellipse cx="186" cy="88.2" rx="1.54" ry="4.5" stroke="#505050" stroke-width="1.46" fill="#a7a7a7"/>
<ellipse cx="186" cy="88.2" rx="0.56" ry="1.88" stroke="none" stroke-width="1" fill="#d6d6d6"/>
<ellipse cx="186.4" cy="108" rx="4.14" ry="5.62" stroke="#7e7e7e" stroke-width="0.5" fill="#aeaeae"/>
<ellipse cx="186.4" cy="108" rx="3.7" ry="5.2" stroke="#6a6a6a" stroke-width="1.08" fill="none"/>
<ellipse cx="186.4" cy="108" rx="3.33" ry="4.68" stroke="#5a5a5a" stroke-width="1.08" fill="none"/>
<ellipse cx="186.4" cy="108" rx="2.96" ry="4.16" stroke="#4a4a4a" stroke-width="1.08" fill="none"/>
<ellipse cx="186.4" cy="108" rx="2.59" ry="3.64" stroke="#3b3b3b" stroke-width="1.08" fill="none"/>
<ellipse cx="186.4" cy="108" rx="2.04" ry="3.12" stroke="#000000" stroke-width="2.18" fill="#838383"/>
<ellipse cx="186.4" cy="108" rx="0.74" ry="1.3" stroke="none" stroke-width="1" fill="#c8c8c8"/>
<line x1="181.9" y1="73.5" x2="181.9" y2="118" stroke="#555" stroke-width="0.75"/>
<line x1="155.2" y1="99.8" x2="200.2" y2="99.8" stroke="#555" stroke-width="0.75"/>
<text x="198.8" y="79.1" font-size="4.8" text-anchor="end">30.8</text>
<text x="198.8" y="116.4" font-size="4.8" text-anchor="end">69.1</text>
<line x1="203.6" y1="76" x2="205.8" y2="76" stroke="#888" stroke-width="0.55"/>
<line x1="204.4" y1="80.94" x2="205.8" y2="80.94" stroke="#888" stroke-width="0.55"/>
<line x1="203.6" y1="85.88" x2="205.8" y2="85.88" stroke="#888" stroke-width="0.55"/>
<line x1="204.4" y1="90.81" x2="205.8" y2="90.81" stroke="#888" stroke-width="0.55"/>
<line x1="203.6" y1="95.75" x2="205.8" y2="95.75" stroke="#888" stroke-width="0.55"/>
<line x1="204.4" y1="100.69" x2="205.8" y2="100.69" stroke="#888" stroke-width="0.55"/>
<line x1="203.6" y1="105.62" x2="205.8" y2="105.62" stroke="#888" stroke-width="0.55"/>
<line x1="204.4" y1="110.56" x2="205.8" y2="110.56" stroke="#888" stroke-width="0.55"/>
<line x1="203.6" y1="115.5" x2="205.8" y2="115.5" stroke="#888" stroke-width="0.55"/>
<line x1="208.3" y1="118" x2="208.3" y2="120.4" stroke="#888" stroke-width="0.55"/>
<line x1="211.63" y1="118" x2="211.63" y2="119.6" stroke="#888" stroke-width="0.55"/>
<line x1="214.97" y1="118" x2="214.97" y2="119.6" stroke="#888" stroke-width="0.55"/>
<line x1="218.3" y1="118" x2="218.3" y2="120.4" stroke="#888" stroke-width="0.55"/>
<line x1="221.63" y1="118" x2="221.63" y2="119.6" stroke="#888" stroke-width="0.55"/>
<line x1="224.97" y1="118" x2="224.97" y2="119.6" stroke="#888" stroke-width="0.55"/>
<line x1="228.3" y1="118" x2="228.3" y2="120.4" stroke="#888" stroke-width="0.55"/>
<line x1="231.63" y1="118" x2="231.63" y2="119.6" stroke="#888" stroke-width="0.55"/>
<line x1="234.97" y1="118" x2="234.97" y2="119.6" stroke="#888" stroke-width="0.55"/>
<line x1="238.3" y1="118" x2="238.3" y2="120.4" stroke="#888" stroke-width="0.55"/>
<line x1="241.63" y1="118" x2="241.63" y2="119.6" stroke="#888" stroke-width="0.55"/>
<line x1="244.97" y1="118" x2="244.97" y2="119.6" stroke="#888" stroke-width="0.55"/>
<line x1="248.3" y1="118" x2="248.3" y2="120.4" stroke="#888" stroke-width="0.55"/>
<rect x="203.4" y="106.43" width="2.4" height="1.7" fill="#111"/>
<rect x="214.8" y="118" width="1.7" height="2.4" fill="#111"/>
<rect x="205.8" y="73.5" width="45" height="44.5" fill="#fff" stroke="#3a3a3a" stroke-width="0.9"/>
<ellipse cx="235.6" cy="96" rx="5" ry="17" stroke="none" stroke-width="1" fill="#e0e0e0"/>
<ellipse cx="235.6" cy="102" rx="3.36" ry="10.37" stroke="#a8a8a8" stroke-width="0.5" fill="#cfcfcf"/>
<ellipse cx="235.6" cy="102" rx="3" ry="9.6" stroke="#979797" stroke-width="0.72" fill="none"/>
<ellipse cx="235.6" cy="102" rx="2.6" ry="8.32" stroke="#8e8e8e" stroke-width="0.72" fill="none"/>
<ellipse cx="235.6" cy="102" rx="2.2" ry="7.04" stroke="#868686" stroke-width="0.72" fill="none"/>
<ellipse cx="235.6" cy="102" rx="1.65" ry="5.76" stroke="#6e6e6e" stroke-width="1.22" fill="#b3b3b3"/>
<ellipse cx="235.6" cy="102" rx="0.6" ry="2.4" stroke="none" stroke-width="1" fill="#dadada"/>
<ellipse cx="235.7" cy="86.6" rx="4.26" ry="6.48" stroke="#777777" stroke-width="0.5" fill="#a8a8a8"/>
<ellipse cx="235.7" cy="86.6" rx="3.8" ry="6" stroke="#626262" stroke-width="1.14" fill="none"/>
<ellipse cx="235.7" cy="86.6" rx="3.42" ry="5.4" stroke="#515151" stroke-width="1.14" fill="none"/>
<ellipse cx="235.7" cy="86.6" rx="3.04" ry="4.8" stroke="#404040" stroke-width="1.14" fill="none"/>
<ellipse cx="235.7" cy="86.6" rx="2.66" ry="4.2" stroke="#2f2f2f" stroke-width="1.14" fill="none"/>
<ellipse cx="235.7" cy="86.6" rx="2.09" ry="3.6" stroke="#000000" stroke-width="2.34" fill="#7b7b7b"/>
<ellipse cx="235.7" cy="86.6" rx="0.76" ry="1.5" stroke="none" stroke-width="1" fill="#c5c5c5"/>
<line x1="232" y1="73.5" x2="232" y2="118" stroke="#555" stroke-width="0.75"/>
<line x1="205.8" y1="98.3" x2="250.8" y2="98.3" stroke="#555" stroke-width="0.75"/>
<text x="249.4" y="79.1" font-size="4.8" text-anchor="end">70.2</text>
<text x="249.4" y="116.4" font-size="4.8" text-anchor="end">29.1</text>
<line x1="255.3" y1="76" x2="257.5" y2="76" stroke="#888" stroke-width="0.55"/>
<line x1="256.1" y1="80.94" x2="257.5" y2="80.94" stroke="#888" stroke-width="0.55"/>
<line x1="255.3" y1="85.88" x2="257.5" y2="85.88" stroke="#888" stroke-width="0.55"/>
<line x1="256.1" y1="90.81" x2="257.5" y2="90.81" stroke="#888" stroke-width="0.55"/>
<line x1="255.3" y1="95.75" x2="257.5" y2="95.75" stroke="#888" stroke-width="0.55"/>
<line x1="256.1" y1="100.69" x2="257.5" y2="100.69" stroke="#888" stroke-width="0.55"/>
<line x1="255.3" y1="105.62" x2="257.5" y2="105.62" stroke="#888" stroke-width="0.55"/>
<line x1="256.1" y1="110.56" x2="257.5" y2="110.56" stroke="#888" stroke-width="0.55"/>
<line x1="255.3" y1="115.5" x2="257.5" y2="115.5" stroke="#888" stroke-width="0.55"/>
<line x1="260" y1="118" x2="260" y2="120.4" stroke="#888" stroke-width="0.55"/>
<line x1="263.33" y1="118" x2="263.33" y2="119.6" stroke="#888" stroke-width="0.55"/>
<line x1="266.67" y1="118" x2="266.67" y2="119.6" stroke="#888" stroke-width="0.55"/>
<line x1="270" y1="118" x2="270" y2="120.4" stroke="#888" stroke-width="0.55"/>
<line x1="273.33" y1="118" x2="273.33" y2="119.6" stroke="#888" stroke-width="0.55"/>
<line x1="276.67" y1="118" x2="276.67" y2="119.6" stroke="#888" stroke-width="0.55"/>
<line x1="280" y1="118" x2="280" y2="120.4" stroke="#888" stroke-width="0.55"/>
<line x1="283.33" y1="118" x2="283.33" y2="119.6" stroke="#888" stroke-width="0.55"/>
<line x1="286.67" y1="118" x2="286.67" y2="119.6" stroke="#888" stroke-width="0.55"/>
<line x1="290" y1="118" x2="290" y2="120.4" stroke="#888" stroke-width="0.55"/>
<line x1="293.33" y1="118" x2="293.33" y2="119.6" stroke="#888" stroke-width="0.55"/>
<line x1="296.67" y1="118" x2="296.67" y2="119.6" stroke="#888" stroke-width="0.55"/>
<line x1="300" y1="118" x2="300" y2="120.4" stroke="#888" stroke-width="0.55"/>
<rect x="255.1" y="106.43" width="2.4" height="1.7" fill="#111"/>
<rect x="266.5" y="118" width="1.7" height="2.4" fill="#111"/>
<rect x="257.5" y="73.5" width="45" height="44.5" fill="#fff" stroke="#3a3a3a" stroke-width="0.9"/>
<ellipse cx="286.3" cy="106.5" rx="4.26" ry="4.1" stroke="#b6b6b6" stroke-width="0.5" fill="#dadada"/>
<ellipse cx="286.3" cy="106.5" rx="3.8" ry="3.8" stroke="#a6a6a6" stroke-width="0.6" fill="none"/>
<ellipse cx="286.3" cy="106.5" rx="3.29" ry="3.29" stroke="#a1a1a1" stroke-width="0.6" fill="none"/>
<ellipse cx="286.3" cy="106.5" rx="2.79" ry="2.79" stroke="#9c9c9c" stroke-width="0.6" fill="none"/>
<ellipse cx="286.3" cy="106.5" rx="2.09" ry="2.28" stroke="#969696" stroke-width="0.9" fill="#c3c3c3"/>
<ellipse cx="286.3" cy="106.5" rx="0.76" ry="0.95" stroke="none" stroke-width="1" fill="#e0e0e0"/>
<ellipse cx="286.3" cy="90" rx="4.26" ry="10.48" stroke="#a8a8a8" stroke-width="0.5" fill="#cfcfcf"/>
<ellipse cx="286.3" cy="90" rx="3.8" ry="9.7" stroke="#979797" stroke-width="0.72" fill="none"/>
<ellipse cx="286.3" cy="90" rx="3.42" ry="8.73" stroke="#909090" stroke-width="0.72" fill="none"/>
<ellipse cx="286.3" cy="90" rx="3.04" ry="7.76" stroke="#898989" stroke-width="0.72" fill="none"/>
<ellipse cx="286.3" cy="90" rx="2.66" ry="6.79" stroke="#838383" stroke-width="0.72" fill="none"/>
<ellipse cx="286.3" cy="90" rx="2.09" ry="5.82" stroke="#6e6e6e" stroke-width="1.22" fill="#b3b3b3"/>
<ellipse cx="286.3" cy="90" rx="0.76" ry="2.42" stroke="none" stroke-width="1" fill="#dadada"/>
<line x1="281.1" y1="73.5" x2="281.1" y2="118" stroke="#555" stroke-width="0.75"/>
<line x1="257.5" y1="99.8" x2="302.5" y2="99.8" stroke="#555" stroke-width="0.75"/>
<text x="301.1" y="79.1" font-size="4.8" text-anchor="end">81.7</text>
<text x="301.1" y="116.4" font-size="4.8" text-anchor="end">18.0</text>
<text x="319.3" y="16.7" font-size="12" font-weight="bold">B</text>
<text x="388.5" y="17.2" font-size="9" text-anchor="middle">Day 7</text>
<text x="439.2" y="17.2" font-size="9" text-anchor="middle">Day 21</text>
<text x="333.2" y="43.2" font-size="9" text-anchor="middle">WT</text>
<text x="333.2" y="52.8" font-size="9" text-anchor="middle">CAR-T</text>
<text x="333.2" y="94.9" font-size="9" text-anchor="middle">KO</text>
<text x="333.2" y="104.2" font-size="9" text-anchor="middle">CAR-T</text>
<line x1="355.6" y1="96.7" x2="355.6" y2="66.8" stroke="#1a1a1a" stroke-width="1"/>
<path d="M353.4 67.3 L355.6 63.3 L357.8 67.3 Z" stroke="none" stroke-width="1" fill="#1a1a1a"/>
<text x="358.1" y="119.1" font-size="9" textLength="18.6" lengthAdjust="spacingAndGlyphs" transform="rotate(-90 358.1 119.1)" stroke="#1a1a1a" stroke-width="0.22">KLRG1</text>
<text x="366.2" y="132" font-size="9" textLength="23.7" lengthAdjust="spacingAndGlyphs" stroke="#1a1a1a" stroke-width="0.22">CD127</text>
<line x1="392" y1="129" x2="420" y2="129" stroke="#1a1a1a" stroke-width="1"/>
<path d="M419.5 126.8 L423.5 129 L419.5 131.2 Z" stroke="none" stroke-width="1" fill="#1a1a1a"/>
<line x1="363.6" y1="25" x2="365.8" y2="25" stroke="#888" stroke-width="0.55"/>
<line x1="364.4" y1="29.95" x2="365.8" y2="29.95" stroke="#888" stroke-width="0.55"/>
<line x1="363.6" y1="34.9" x2="365.8" y2="34.9" stroke="#888" stroke-width="0.55"/>
<line x1="364.4" y1="39.85" x2="365.8" y2="39.85" stroke="#888" stroke-width="0.55"/>
<line x1="363.6" y1="44.8" x2="365.8" y2="44.8" stroke="#888" stroke-width="0.55"/>
<line x1="364.4" y1="49.75" x2="365.8" y2="49.75" stroke="#888" stroke-width="0.55"/>
<line x1="363.6" y1="54.7" x2="365.8" y2="54.7" stroke="#888" stroke-width="0.55"/>
<line x1="364.4" y1="59.65" x2="365.8" y2="59.65" stroke="#888" stroke-width="0.55"/>
<line x1="363.6" y1="64.6" x2="365.8" y2="64.6" stroke="#888" stroke-width="0.55"/>
<line x1="368.3" y1="67.1" x2="368.3" y2="69.5" stroke="#888" stroke-width="0.55"/>
<line x1="371.66" y1="67.1" x2="371.66" y2="68.7" stroke="#888" stroke-width="0.55"/>
<line x1="375.02" y1="67.1" x2="375.02" y2="68.7" stroke="#888" stroke-width="0.55"/>
<line x1="378.38" y1="67.1" x2="378.38" y2="69.5" stroke="#888" stroke-width="0.55"/>
<line x1="381.73" y1="67.1" x2="381.73" y2="68.7" stroke="#888" stroke-width="0.55"/>
<line x1="385.09" y1="67.1" x2="385.09" y2="68.7" stroke="#888" stroke-width="0.55"/>
<line x1="388.45" y1="67.1" x2="388.45" y2="69.5" stroke="#888" stroke-width="0.55"/>
<line x1="391.81" y1="67.1" x2="391.81" y2="68.7" stroke="#888" stroke-width="0.55"/>
<line x1="395.17" y1="67.1" x2="395.17" y2="68.7" stroke="#888" stroke-width="0.55"/>
<line x1="398.53" y1="67.1" x2="398.53" y2="69.5" stroke="#888" stroke-width="0.55"/>
<line x1="401.88" y1="67.1" x2="401.88" y2="68.7" stroke="#888" stroke-width="0.55"/>
<line x1="405.24" y1="67.1" x2="405.24" y2="68.7" stroke="#888" stroke-width="0.55"/>
<line x1="408.6" y1="67.1" x2="408.6" y2="69.5" stroke="#888" stroke-width="0.55"/>
<rect x="363.4" y="55.5" width="2.4" height="1.7" fill="#111"/>
<rect x="374.86" y="67.1" width="1.7" height="2.4" fill="#111"/>
<rect x="365.8" y="22.5" width="45.3" height="44.6" fill="#fff" stroke="#3a3a3a" stroke-width="0.9"/>
<ellipse cx="380.3" cy="57.5" rx="7.84" ry="7.56" stroke="#b6b6b6" stroke-width="0.5" fill="#dadada"/>
<ellipse cx="380.3" cy="57.5" rx="7" ry="7" stroke="#a6a6a6" stroke-width="0.6" fill="none"/>
<ellipse cx="380.3" cy="57.5" rx="6.07" ry="6.07" stroke="#a1a1a1" stroke-width="0.6" fill="none"/>
<ellipse cx="380.3" cy="57.5" rx="5.13" ry="5.13" stroke="#9c9c9c" stroke-width="0.6" fill="none"/>
<ellipse cx="380.3" cy="57.5" rx="3.85" ry="4.2" stroke="#969696" stroke-width="0.9" fill="#c3c3c3"/>
<ellipse cx="380.3" cy="57.5" rx="1.4" ry="1.75" stroke="none" stroke-width="1" fill="#e0e0e0"/>
<ellipse cx="380.2" cy="42.2" rx="11.2" ry="9.72" stroke="#939393" stroke-width="0.5" fill="#bebebe"/>
<ellipse cx="380.2" cy="42.2" rx="10" ry="9" stroke="#808080" stroke-width="0.9" fill="none"/>
<ellipse cx="380.2" cy="42.2" rx="9.2" ry="8.28" stroke="#777777" stroke-width="0.9" fill="none"/>
<ellipse cx="380.2" cy="42.2" rx="8.4" ry="7.56" stroke="#6e6e6e" stroke-width="0.9" fill="none"/>
<ellipse cx="380.2" cy="42.2" rx="7.6" ry="6.84" stroke="#646464" stroke-width="0.9" fill="none"/>
<ellipse cx="380.2" cy="42.2" rx="6.8" ry="6.12" stroke="#5b5b5b" stroke-width="0.9" fill="none"/>
<ellipse cx="380.2" cy="42.2" rx="5.5" ry="5.4" stroke="#323232" stroke-width="1.7" fill="#9b9b9b"/>
<ellipse cx="380.2" cy="42.2" rx="2" ry="2.25" stroke="none" stroke-width="1" fill="#d1d1d1"/>
<line x1="380.2" y1="22.5" x2="380.2" y2="67.1" stroke="#555" stroke-width="0.75"/>
<line x1="365.8" y1="46.3" x2="411.1" y2="46.3" stroke="#555" stroke-width="0.75"/>
<text x="367.4" y="28.1" font-size="4.8">39.9</text>
<text x="409.7" y="28.1" font-size="4.8" text-anchor="end">33.6</text>
<text x="367.4" y="65.5" font-size="4.8">13.4</text>
<text x="409.7" y="65.5" font-size="4.8" text-anchor="end">13.1</text>
<line x1="414.1" y1="25" x2="416.3" y2="25" stroke="#888" stroke-width="0.55"/>
<line x1="414.9" y1="29.95" x2="416.3" y2="29.95" stroke="#888" stroke-width="0.55"/>
<line x1="414.1" y1="34.9" x2="416.3" y2="34.9" stroke="#888" stroke-width="0.55"/>
<line x1="414.9" y1="39.85" x2="416.3" y2="39.85" stroke="#888" stroke-width="0.55"/>
<line x1="414.1" y1="44.8" x2="416.3" y2="44.8" stroke="#888" stroke-width="0.55"/>
<line x1="414.9" y1="49.75" x2="416.3" y2="49.75" stroke="#888" stroke-width="0.55"/>
<line x1="414.1" y1="54.7" x2="416.3" y2="54.7" stroke="#888" stroke-width="0.55"/>
<line x1="414.9" y1="59.65" x2="416.3" y2="59.65" stroke="#888" stroke-width="0.55"/>
<line x1="414.1" y1="64.6" x2="416.3" y2="64.6" stroke="#888" stroke-width="0.55"/>
<line x1="418.8" y1="67.1" x2="418.8" y2="69.5" stroke="#888" stroke-width="0.55"/>
<line x1="422.16" y1="67.1" x2="422.16" y2="68.7" stroke="#888" stroke-width="0.55"/>
<line x1="425.52" y1="67.1" x2="425.52" y2="68.7" stroke="#888" stroke-width="0.55"/>
<line x1="428.88" y1="67.1" x2="428.88" y2="69.5" stroke="#888" stroke-width="0.55"/>
<line x1="432.23" y1="67.1" x2="432.23" y2="68.7" stroke="#888" stroke-width="0.55"/>
<line x1="435.59" y1="67.1" x2="435.59" y2="68.7" stroke="#888" stroke-width="0.55"/>
<line x1="438.95" y1="67.1" x2="438.95" y2="69.5" stroke="#888" stroke-width="0.55"/>
<line x1="442.31" y1="67.1" x2="442.31" y2="68.7" stroke="#888" stroke-width="0.55"/>
<line x1="445.67" y1="67.1" x2="445.67" y2="68.7" stroke="#888" stroke-width="0.55"/>
<line x1="449.03" y1="67.1" x2="449.03" y2="69.5" stroke="#888" stroke-width="0.55"/>
<line x1="452.38" y1="67.1" x2="452.38" y2="68.7" stroke="#888" stroke-width="0.55"/>
<line x1="455.74" y1="67.1" x2="455.74" y2="68.7" stroke="#888" stroke-width="0.55"/>
<line x1="459.1" y1="67.1" x2="459.1" y2="69.5" stroke="#888" stroke-width="0.55"/>
<rect x="413.9" y="55.5" width="2.4" height="1.7" fill="#111"/>
<rect x="425.36" y="67.1" width="1.7" height="2.4" fill="#111"/>
<rect x="416.3" y="22.5" width="45.3" height="44.6" fill="#fff" stroke="#3a3a3a" stroke-width="0.9"/>
<ellipse cx="427.5" cy="58" rx="4.48" ry="5.4" stroke="#b6b6b6" stroke-width="0.5" fill="#dadada"/>
<ellipse cx="427.5" cy="58" rx="4" ry="5" stroke="#a6a6a6" stroke-width="0.6" fill="none"/>
<ellipse cx="427.5" cy="58" rx="3.47" ry="4.33" stroke="#a1a1a1" stroke-width="0.6" fill="none"/>
<ellipse cx="427.5" cy="58" rx="2.93" ry="3.67" stroke="#9c9c9c" stroke-width="0.6" fill="none"/>
<ellipse cx="427.5" cy="58" rx="2.2" ry="3" stroke="#969696" stroke-width="0.9" fill="#c3c3c3"/>
<ellipse cx="427.5" cy="58" rx="0.8" ry="1.25" stroke="none" stroke-width="1" fill="#e0e0e0"/>
<ellipse cx="426.5" cy="43.8" rx="8.74" ry="10.37" stroke="#9e9e9e" stroke-width="0.5" fill="#c7c7c7"/>
<ellipse cx="426.5" cy="43.8" rx="7.8" ry="9.6" stroke="#8c8c8c" stroke-width="0.81" fill="none"/>
<ellipse cx="426.5" cy="43.8" rx="7.18" ry="8.83" stroke="#848484" stroke-width="0.81" fill="none"/>
<ellipse cx="426.5" cy="43.8" rx="6.55" ry="8.06" stroke="#7d7d7d" stroke-width="0.81" fill="none"/>
<ellipse cx="426.5" cy="43.8" rx="5.93" ry="7.3" stroke="#757575" stroke-width="0.81" fill="none"/>
<ellipse cx="426.5" cy="43.8" rx="5.3" ry="6.53" stroke="#6e6e6e" stroke-width="0.81" fill="none"/>
<ellipse cx="426.5" cy="43.8" rx="4.29" ry="5.76" stroke="#505050" stroke-width="1.46" fill="#a7a7a7"/>
<ellipse cx="426.5" cy="43.8" rx="1.56" ry="2.4" stroke="none" stroke-width="1" fill="#d6d6d6"/>
<line x1="431.7" y1="22.5" x2="431.7" y2="67.1" stroke="#555" stroke-width="0.75"/>
<line x1="416.3" y1="47.3" x2="461.6" y2="47.3" stroke="#555" stroke-width="0.75"/>
<text x="417.9" y="28.1" font-size="4.8">66.2</text>
<text x="460.2" y="28.1" font-size="4.8" text-anchor="end">6.5</text>
<text x="417.9" y="65.5" font-size="4.8">25.4</text>
<text x="460.2" y="65.5" font-size="4.8" text-anchor="end">1.9</text>
<line x1="363.6" y1="76.9" x2="365.8" y2="76.9" stroke="#888" stroke-width="0.55"/>
<line x1="364.4" y1="81.85" x2="365.8" y2="81.85" stroke="#888" stroke-width="0.55"/>
<line x1="363.6" y1="86.8" x2="365.8" y2="86.8" stroke="#888" stroke-width="0.55"/>
<line x1="364.4" y1="91.75" x2="365.8" y2="91.75" stroke="#888" stroke-width="0.55"/>
<line x1="363.6" y1="96.7" x2="365.8" y2="96.7" stroke="#888" stroke-width="0.55"/>
<line x1="364.4" y1="101.65" x2="365.8" y2="101.65" stroke="#888" stroke-width="0.55"/>
<line x1="363.6" y1="106.6" x2="365.8" y2="106.6" stroke="#888" stroke-width="0.55"/>
<line x1="364.4" y1="111.55" x2="365.8" y2="111.55" stroke="#888" stroke-width="0.55"/>
<line x1="363.6" y1="116.5" x2="365.8" y2="116.5" stroke="#888" stroke-width="0.55"/>
<line x1="368.3" y1="119" x2="368.3" y2="121.4" stroke="#888" stroke-width="0.55"/>
<line x1="371.66" y1="119" x2="371.66" y2="120.6" stroke="#888" stroke-width="0.55"/>
<line x1="375.02" y1="119" x2="375.02" y2="120.6" stroke="#888" stroke-width="0.55"/>
<line x1="378.38" y1="119" x2="378.38" y2="121.4" stroke="#888" stroke-width="0.55"/>
<line x1="381.73" y1="119" x2="381.73" y2="120.6" stroke="#888" stroke-width="0.55"/>
<line x1="385.09" y1="119" x2="385.09" y2="120.6" stroke="#888" stroke-width="0.55"/>
<line x1="388.45" y1="119" x2="388.45" y2="121.4" stroke="#888" stroke-width="0.55"/>
<line x1="391.81" y1="119" x2="391.81" y2="120.6" stroke="#888" stroke-width="0.55"/>
<line x1="395.17" y1="119" x2="395.17" y2="120.6" stroke="#888" stroke-width="0.55"/>
<line x1="398.53" y1="119" x2="398.53" y2="121.4" stroke="#888" stroke-width="0.55"/>
<line x1="401.88" y1="119" x2="401.88" y2="120.6" stroke="#888" stroke-width="0.55"/>
<line x1="405.24" y1="119" x2="405.24" y2="120.6" stroke="#888" stroke-width="0.55"/>
<line x1="408.6" y1="119" x2="408.6" y2="121.4" stroke="#888" stroke-width="0.55"/>
<rect x="363.4" y="107.4" width="2.4" height="1.7" fill="#111"/>
<rect x="374.86" y="119" width="1.7" height="2.4" fill="#111"/>
<rect x="365.8" y="74.4" width="45.3" height="44.6" fill="#fff" stroke="#3a3a3a" stroke-width="0.9"/>
<ellipse cx="376" cy="91" rx="3.36" ry="7.02" stroke="#b6b6b6" stroke-width="0.5" fill="#dadada"/>
<ellipse cx="376" cy="91" rx="3" ry="6.5" stroke="#a6a6a6" stroke-width="0.6" fill="none"/>
<ellipse cx="376" cy="91" rx="2.6" ry="5.63" stroke="#a1a1a1" stroke-width="0.6" fill="none"/>
<ellipse cx="376" cy="91" rx="2.2" ry="4.77" stroke="#9c9c9c" stroke-width="0.6" fill="none"/>
<ellipse cx="376" cy="91" rx="1.65" ry="3.9" stroke="#969696" stroke-width="0.9" fill="#c3c3c3"/>
<ellipse cx="376" cy="91" rx="0.6" ry="1.62" stroke="none" stroke-width="1" fill="#e0e0e0"/>
<ellipse cx="384.5" cy="103.3" rx="4.82" ry="4.32" stroke="#afafaf" stroke-width="0.5" fill="#d4d4d4"/>
<ellipse cx="384.5" cy="103.3" rx="4.3" ry="4" stroke="#9e9e9e" stroke-width="0.66" fill="none"/>
<ellipse cx="384.5" cy="103.3" rx="3.73" ry="3.47" stroke="#989898" stroke-width="0.66" fill="none"/>
<ellipse cx="384.5" cy="103.3" rx="3.15" ry="2.93" stroke="#919191" stroke-width="0.66" fill="none"/>
<ellipse cx="384.5" cy="103.3" rx="2.37" ry="2.4" stroke="#828282" stroke-width="1.06" fill="#bbbbbb"/>
<ellipse cx="384.5" cy="103.3" rx="0.86" ry="1" stroke="none" stroke-width="1" fill="#dddddd"/>
<ellipse cx="377" cy="103" rx="5.38" ry="4.97" stroke="#828282" stroke-width="0.5" fill="#b1b1b1"/>
<ellipse cx="377" cy="103" rx="4.8" ry="4.6" stroke="#6e6e6e" stroke-width="1.05" fill="none"/>
<ellipse cx="377" cy="103" rx="4.32" ry="4.14" stroke="#5f5f5f" stroke-width="1.05" fill="none"/>
<ellipse cx="377" cy="103" rx="3.84" ry="3.68" stroke="#505050" stroke-width="1.05" fill="none"/>
<ellipse cx="377" cy="103" rx="3.36" ry="3.22" stroke="#414141" stroke-width="1.05" fill="none"/>
<ellipse cx="377" cy="103" rx="2.64" ry="2.76" stroke="#000000" stroke-width="2.1" fill="#878787"/>
<ellipse cx="377" cy="103" rx="0.96" ry="1.15" stroke="none" stroke-width="1" fill="#cacaca"/>
<line x1="380.2" y1="74.4" x2="380.2" y2="119" stroke="#555" stroke-width="0.75"/>
<line x1="365.8" y1="97.7" x2="411.1" y2="97.7" stroke="#555" stroke-width="0.75"/>
<text x="367.4" y="80" font-size="4.8">10.6</text>
<text x="409.7" y="80" font-size="4.8" text-anchor="end">1.2</text>
<text x="367.4" y="117.4" font-size="4.8">66.0</text>
<text x="409.7" y="117.4" font-size="4.8" text-anchor="end">22.0</text>
<line x1="414.1" y1="76.9" x2="416.3" y2="76.9" stroke="#888" stroke-width="0.55"/>
<line x1="414.9" y1="81.85" x2="416.3" y2="81.85" stroke="#888" stroke-width="0.55"/>
<line x1="414.1" y1="86.8" x2="416.3" y2="86.8" stroke="#888" stroke-width="0.55"/>
<line x1="414.9" y1="91.75" x2="416.3" y2="91.75" stroke="#888" stroke-width="0.55"/>
<line x1="414.1" y1="96.7" x2="416.3" y2="96.7" stroke="#888" stroke-width="0.55"/>
<line x1="414.9" y1="101.65" x2="416.3" y2="101.65" stroke="#888" stroke-width="0.55"/>
<line x1="414.1" y1="106.6" x2="416.3" y2="106.6" stroke="#888" stroke-width="0.55"/>
<line x1="414.9" y1="111.55" x2="416.3" y2="111.55" stroke="#888" stroke-width="0.55"/>
<line x1="414.1" y1="116.5" x2="416.3" y2="116.5" stroke="#888" stroke-width="0.55"/>
<line x1="418.8" y1="119" x2="418.8" y2="121.4" stroke="#888" stroke-width="0.55"/>
<line x1="422.16" y1="119" x2="422.16" y2="120.6" stroke="#888" stroke-width="0.55"/>
<line x1="425.52" y1="119" x2="425.52" y2="120.6" stroke="#888" stroke-width="0.55"/>
<line x1="428.88" y1="119" x2="428.88" y2="121.4" stroke="#888" stroke-width="0.55"/>
<line x1="432.23" y1="119" x2="432.23" y2="120.6" stroke="#888" stroke-width="0.55"/>
<line x1="435.59" y1="119" x2="435.59" y2="120.6" stroke="#888" stroke-width="0.55"/>
<line x1="438.95" y1="119" x2="438.95" y2="121.4" stroke="#888" stroke-width="0.55"/>
<line x1="442.31" y1="119" x2="442.31" y2="120.6" stroke="#888" stroke-width="0.55"/>
<line x1="445.67" y1="119" x2="445.67" y2="120.6" stroke="#888" stroke-width="0.55"/>
<line x1="449.03" y1="119" x2="449.03" y2="121.4" stroke="#888" stroke-width="0.55"/>
<line x1="452.38" y1="119" x2="452.38" y2="120.6" stroke="#888" stroke-width="0.55"/>
<line x1="455.74" y1="119" x2="455.74" y2="120.6" stroke="#888" stroke-width="0.55"/>
<line x1="459.1" y1="119" x2="459.1" y2="121.4" stroke="#888" stroke-width="0.55"/>
<rect x="413.9" y="107.4" width="2.4" height="1.7" fill="#111"/>
<rect x="425.36" y="119" width="1.7" height="2.4" fill="#111"/>
<rect x="416.3" y="74.4" width="45.3" height="44.6" fill="#fff" stroke="#3a3a3a" stroke-width="0.9"/>
<ellipse cx="427.5" cy="98" rx="3.36" ry="12.96" stroke="#b3b3b3" stroke-width="0.5" fill="#d7d7d7"/>
<ellipse cx="427.5" cy="98" rx="3" ry="12" stroke="#a2a2a2" stroke-width="0.63" fill="none"/>
<ellipse cx="427.5" cy="98" rx="2.6" ry="10.4" stroke="#9c9c9c" stroke-width="0.63" fill="none"/>
<ellipse cx="427.5" cy="98" rx="2.2" ry="8.8" stroke="#979797" stroke-width="0.63" fill="none"/>
<ellipse cx="427.5" cy="98" rx="1.65" ry="7.2" stroke="#8c8c8c" stroke-width="0.98" fill="#bfbfbf"/>
<ellipse cx="427.5" cy="98" rx="0.6" ry="3" stroke="none" stroke-width="1" fill="#dfdfdf"/>
<ellipse cx="436.3" cy="106" rx="7.28" ry="5.94" stroke="#898989" stroke-width="0.5" fill="#b6b6b6"/>
<ellipse cx="436.3" cy="106" rx="6.5" ry="5.5" stroke="#757575" stroke-width="0.99" fill="none"/>
<ellipse cx="436.3" cy="106" rx="5.98" ry="5.06" stroke="#6a6a6a" stroke-width="0.99" fill="none"/>
<ellipse cx="436.3" cy="106" rx="5.46" ry="4.62" stroke="#5f5f5f" stroke-width="0.99" fill="none"/>
<ellipse cx="436.3" cy="106" rx="4.94" ry="4.18" stroke="#535353" stroke-width="0.99" fill="none"/>
<ellipse cx="436.3" cy="106" rx="4.42" ry="3.74" stroke="#484848" stroke-width="0.99" fill="none"/>
<ellipse cx="436.3" cy="106" rx="3.58" ry="3.3" stroke="#141414" stroke-width="1.94" fill="#8f8f8f"/>
<ellipse cx="436.3" cy="106" rx="1.3" ry="1.38" stroke="none" stroke-width="1" fill="#cdcdcd"/>
<line x1="430.7" y1="74.4" x2="430.7" y2="119" stroke="#555" stroke-width="0.75"/>
<line x1="416.3" y1="98.7" x2="461.6" y2="98.7" stroke="#555" stroke-width="0.75"/>
<text x="417.9" y="80" font-size="4.8">7.7</text>
<text x="460.2" y="80" font-size="4.8" text-anchor="end">1.0</text>
<text x="417.9" y="117.4" font-size="4.8">10.7</text>
<text x="460.2" y="117.4" font-size="4.8" text-anchor="end">80.7</text>
<text x="75.5" y="152.9" font-size="10.2" textLength="27.7" lengthAdjust="spacingAndGlyphs">Spleen</text>
<text x="169.6" y="152.6" font-size="10.2" textLength="53.8" lengthAdjust="spacingAndGlyphs">Bone marrow</text>
<line x1="52.6" y1="157.7" x2="52.6" y2="233.95" stroke="#1a1a1a" stroke-width="1.5"/>
<line x1="49.6" y1="233.2" x2="52.6" y2="233.2" stroke="#1a1a1a" stroke-width="1"/>
<text x="46.4" y="235.58" font-size="6.6" text-anchor="end">0</text>
<line x1="49.6" y1="218.6" x2="52.6" y2="218.6" stroke="#1a1a1a" stroke-width="1"/>
<text x="46.4" y="220.98" font-size="6.6" text-anchor="end">20</text>
<line x1="49.6" y1="204" x2="52.6" y2="204" stroke="#1a1a1a" stroke-width="1"/>
<text x="46.4" y="206.38" font-size="6.6" text-anchor="end">40</text>
<line x1="49.6" y1="189.4" x2="52.6" y2="189.4" stroke="#1a1a1a" stroke-width="1"/>
<text x="46.4" y="191.78" font-size="6.6" text-anchor="end">60</text>
<line x1="49.6" y1="174.8" x2="52.6" y2="174.8" stroke="#1a1a1a" stroke-width="1"/>
<text x="46.4" y="177.18" font-size="6.6" text-anchor="end">80</text>
<line x1="49.6" y1="160.2" x2="52.6" y2="160.2" stroke="#1a1a1a" stroke-width="1"/>
<text x="46.4" y="162.58" font-size="6.6" text-anchor="end">100</text>
<line x1="52.6" y1="233.2" x2="124.6" y2="233.2" stroke="#1a1a1a" stroke-width="1.3"/>
<line x1="60.2" y1="233.2" x2="60.2" y2="236.2" stroke="#1a1a1a" stroke-width="1"/>
<text x="60.2" y="244.7" font-size="6.5" text-anchor="middle">3</text>
<line x1="74.7" y1="233.2" x2="74.7" y2="236.2" stroke="#1a1a1a" stroke-width="1"/>
<text x="74.7" y="244.7" font-size="6.5" text-anchor="middle">5</text>
<line x1="89.2" y1="233.2" x2="89.2" y2="236.2" stroke="#1a1a1a" stroke-width="1"/>
<text x="89.2" y="244.7" font-size="6.5" text-anchor="middle">7</text>
<line x1="103.7" y1="233.2" x2="103.7" y2="236.2" stroke="#1a1a1a" stroke-width="1"/>
<text x="103.7" y="244.7" font-size="6.5" text-anchor="middle">14</text>
<line x1="118.2" y1="233.2" x2="118.2" y2="236.2" stroke="#1a1a1a" stroke-width="1"/>
<text x="118.2" y="244.7" font-size="6.5" text-anchor="middle">21</text>
<polyline points="60.2,224.44 74.7,216.41 89.2,210.57 103.7,182.83 118.2,174.8" fill="none" stroke="#22427f" stroke-width="1.4"/>
<polyline points="60.2,209.11 74.7,218.23 89.2,212.76 103.7,204 118.2,199.25" fill="none" stroke="#b1133b" stroke-width="1.6"/>
<circle cx="60.2" cy="224.44" r="2.3" stroke="#22427f" stroke-width="1" fill="#e8ecef"/>
<line x1="60.2" y1="222.62" x2="60.2" y2="226.26" stroke="#1a1a1a" stroke-width="1"/>
<line x1="58.6" y1="222.62" x2="61.8" y2="222.62" stroke="#1a1a1a" stroke-width="1"/>
<line x1="58.6" y1="226.26" x2="61.8" y2="226.26" stroke="#1a1a1a" stroke-width="1"/>
<circle cx="74.7" cy="216.41" r="2.3" stroke="#22427f" stroke-width="1" fill="#e8ecef"/>
<line x1="74.7" y1="215.41" x2="74.7" y2="217.41" stroke="#1a1a1a" stroke-width="1"/>
<line x1="73.1" y1="215.41" x2="76.3" y2="215.41" stroke="#1a1a1a" stroke-width="1"/>
<line x1="73.1" y1="217.41" x2="76.3" y2="217.41" stroke="#1a1a1a" stroke-width="1"/>
<circle cx="89.2" cy="210.57" r="2.3" stroke="#22427f" stroke-width="1" fill="#e8ecef"/>
<line x1="89.2" y1="209.11" x2="89.2" y2="212.03" stroke="#1a1a1a" stroke-width="1"/>
<line x1="87.6" y1="209.11" x2="90.8" y2="209.11" stroke="#1a1a1a" stroke-width="1"/>
<line x1="87.6" y1="212.03" x2="90.8" y2="212.03" stroke="#1a1a1a" stroke-width="1"/>
<circle cx="103.7" cy="182.83" r="2.3" stroke="#22427f" stroke-width="1" fill="#e8ecef"/>
<line x1="103.7" y1="181.83" x2="103.7" y2="183.83" stroke="#1a1a1a" stroke-width="1"/>
<line x1="102.1" y1="181.83" x2="105.3" y2="181.83" stroke="#1a1a1a" stroke-width="1"/>
<line x1="102.1" y1="183.83" x2="105.3" y2="183.83" stroke="#1a1a1a" stroke-width="1"/>
<circle cx="118.2" cy="174.8" r="2.3" stroke="#22427f" stroke-width="1" fill="#e8ecef"/>
<line x1="118.2" y1="173.8" x2="118.2" y2="175.8" stroke="#1a1a1a" stroke-width="1"/>
<line x1="116.6" y1="173.8" x2="119.8" y2="173.8" stroke="#1a1a1a" stroke-width="1"/>
<line x1="116.6" y1="175.8" x2="119.8" y2="175.8" stroke="#1a1a1a" stroke-width="1"/>
<circle cx="60.2" cy="209.11" r="2.3" stroke="#b1133b" stroke-width="1" fill="#e8ecef"/>
<line x1="60.2" y1="203.27" x2="60.2" y2="214.95" stroke="#1a1a1a" stroke-width="1"/>
<line x1="58.6" y1="203.27" x2="61.8" y2="203.27" stroke="#1a1a1a" stroke-width="1"/>
<line x1="58.6" y1="214.95" x2="61.8" y2="214.95" stroke="#1a1a1a" stroke-width="1"/>
<circle cx="74.7" cy="218.23" r="2.3" stroke="#b1133b" stroke-width="1" fill="#e8ecef"/>
<line x1="74.7" y1="217.23" x2="74.7" y2="219.23" stroke="#1a1a1a" stroke-width="1"/>
<line x1="73.1" y1="217.23" x2="76.3" y2="217.23" stroke="#1a1a1a" stroke-width="1"/>
<line x1="73.1" y1="219.23" x2="76.3" y2="219.23" stroke="#1a1a1a" stroke-width="1"/>
<circle cx="89.2" cy="212.76" r="2.3" stroke="#b1133b" stroke-width="1" fill="#e8ecef"/>
<line x1="89.2" y1="211.76" x2="89.2" y2="213.76" stroke="#1a1a1a" stroke-width="1"/>
<line x1="87.6" y1="211.76" x2="90.8" y2="211.76" stroke="#1a1a1a" stroke-width="1"/>
<line x1="87.6" y1="213.76" x2="90.8" y2="213.76" stroke="#1a1a1a" stroke-width="1"/>
<circle cx="103.7" cy="204" r="2.3" stroke="#b1133b" stroke-width="1" fill="#e8ecef"/>
<line x1="103.7" y1="203" x2="103.7" y2="205" stroke="#1a1a1a" stroke-width="1"/>
<line x1="102.1" y1="203" x2="105.3" y2="203" stroke="#1a1a1a" stroke-width="1"/>
<line x1="102.1" y1="205" x2="105.3" y2="205" stroke="#1a1a1a" stroke-width="1"/>
<circle cx="118.2" cy="199.25" r="2.3" stroke="#b1133b" stroke-width="1" fill="#e8ecef"/>
<line x1="118.2" y1="196.34" x2="118.2" y2="202.17" stroke="#1a1a1a" stroke-width="1"/>
<line x1="116.6" y1="196.34" x2="119.8" y2="196.34" stroke="#1a1a1a" stroke-width="1"/>
<line x1="116.6" y1="202.17" x2="119.8" y2="202.17" stroke="#1a1a1a" stroke-width="1"/>
<rect x="59.53" y="196.02" width="1.35" height="1.35" fill="#2a2a2a"/>
<rect x="100.58" y="176.31" width="1.35" height="1.35" fill="#2a2a2a"/>
<rect x="103.03" y="176.31" width="1.35" height="1.35" fill="#2a2a2a"/>
<rect x="105.48" y="176.31" width="1.35" height="1.35" fill="#2a2a2a"/>
<rect x="115.08" y="169.74" width="1.35" height="1.35" fill="#2a2a2a"/>
<rect x="117.53" y="169.74" width="1.35" height="1.35" fill="#2a2a2a"/>
<rect x="119.98" y="169.74" width="1.35" height="1.35" fill="#2a2a2a"/>
<line x1="159.1" y1="157.9" x2="159.1" y2="234.05" stroke="#1a1a1a" stroke-width="1.5"/>
<line x1="156.1" y1="233.3" x2="159.1" y2="233.3" stroke="#1a1a1a" stroke-width="1"/>
<text x="152.9" y="235.68" font-size="6.6" text-anchor="end">0</text>
<line x1="156.1" y1="218.72" x2="159.1" y2="218.72" stroke="#1a1a1a" stroke-width="1"/>
<text x="152.9" y="221.1" font-size="6.6" text-anchor="end">20</text>
<line x1="156.1" y1="204.14" x2="159.1" y2="204.14" stroke="#1a1a1a" stroke-width="1"/>
<text x="152.9" y="206.52" font-size="6.6" text-anchor="end">40</text>
<line x1="156.1" y1="189.56" x2="159.1" y2="189.56" stroke="#1a1a1a" stroke-width="1"/>
<text x="152.9" y="191.94" font-size="6.6" text-anchor="end">60</text>
<line x1="156.1" y1="174.98" x2="159.1" y2="174.98" stroke="#1a1a1a" stroke-width="1"/>
<text x="152.9" y="177.36" font-size="6.6" text-anchor="end">80</text>
<line x1="156.1" y1="160.4" x2="159.1" y2="160.4" stroke="#1a1a1a" stroke-width="1"/>
<text x="152.9" y="162.78" font-size="6.6" text-anchor="end">100</text>
<line x1="159.1" y1="233.3" x2="231.8" y2="233.3" stroke="#1a1a1a" stroke-width="1.3"/>
<line x1="167.2" y1="233.3" x2="167.2" y2="236.3" stroke="#1a1a1a" stroke-width="1"/>
<text x="167.2" y="244.8" font-size="6.5" text-anchor="middle">3</text>
<line x1="181.6" y1="233.3" x2="181.6" y2="236.3" stroke="#1a1a1a" stroke-width="1"/>
<text x="181.6" y="244.8" font-size="6.5" text-anchor="middle">5</text>
<line x1="196" y1="233.3" x2="196" y2="236.3" stroke="#1a1a1a" stroke-width="1"/>
<text x="196" y="244.8" font-size="6.5" text-anchor="middle">7</text>
<line x1="210.4" y1="233.3" x2="210.4" y2="236.3" stroke="#1a1a1a" stroke-width="1"/>
<text x="210.4" y="244.8" font-size="6.5" text-anchor="middle">14</text>
<line x1="224.8" y1="233.3" x2="224.8" y2="236.3" stroke="#1a1a1a" stroke-width="1"/>
<text x="224.8" y="244.8" font-size="6.5" text-anchor="middle">21</text>
<polyline points="167.2,228.93 181.6,220.18 196,206.33 210.4,196.85 224.8,191.75" fill="none" stroke="#22427f" stroke-width="1.4"/>
<polyline points="167.2,213.62 181.6,217.99 196,219.45 210.4,220.91 224.8,219.08" fill="none" stroke="#b1133b" stroke-width="1.6"/>
<circle cx="167.2" cy="228.93" r="2.3" stroke="#22427f" stroke-width="1" fill="#e8ecef"/>
<line x1="167.2" y1="227.93" x2="167.2" y2="229.93" stroke="#1a1a1a" stroke-width="1"/>
<line x1="165.6" y1="227.93" x2="168.8" y2="227.93" stroke="#1a1a1a" stroke-width="1"/>
<line x1="165.6" y1="229.93" x2="168.8" y2="229.93" stroke="#1a1a1a" stroke-width="1"/>
<circle cx="181.6" cy="220.18" r="2.3" stroke="#22427f" stroke-width="1" fill="#e8ecef"/>
<line x1="181.6" y1="218.72" x2="181.6" y2="221.64" stroke="#1a1a1a" stroke-width="1"/>
<line x1="180" y1="218.72" x2="183.2" y2="218.72" stroke="#1a1a1a" stroke-width="1"/>
<line x1="180" y1="221.64" x2="183.2" y2="221.64" stroke="#1a1a1a" stroke-width="1"/>
<circle cx="196" cy="206.33" r="2.3" stroke="#22427f" stroke-width="1" fill="#e8ecef"/>
<line x1="196" y1="205.33" x2="196" y2="207.33" stroke="#1a1a1a" stroke-width="1"/>
<line x1="194.4" y1="205.33" x2="197.6" y2="205.33" stroke="#1a1a1a" stroke-width="1"/>
<line x1="194.4" y1="207.33" x2="197.6" y2="207.33" stroke="#1a1a1a" stroke-width="1"/>
<circle cx="210.4" cy="196.85" r="2.3" stroke="#22427f" stroke-width="1" fill="#e8ecef"/>
<line x1="210.4" y1="195.85" x2="210.4" y2="197.85" stroke="#1a1a1a" stroke-width="1"/>
<line x1="208.8" y1="195.85" x2="212" y2="195.85" stroke="#1a1a1a" stroke-width="1"/>
<line x1="208.8" y1="197.85" x2="212" y2="197.85" stroke="#1a1a1a" stroke-width="1"/>
<circle cx="224.8" cy="191.75" r="2.3" stroke="#22427f" stroke-width="1" fill="#e8ecef"/>
<line x1="224.8" y1="188.83" x2="224.8" y2="194.66" stroke="#1a1a1a" stroke-width="1"/>
<line x1="223.2" y1="188.83" x2="226.4" y2="188.83" stroke="#1a1a1a" stroke-width="1"/>
<line x1="223.2" y1="194.66" x2="226.4" y2="194.66" stroke="#1a1a1a" stroke-width="1"/>
<circle cx="167.2" cy="213.62" r="2.3" stroke="#b1133b" stroke-width="1" fill="#e8ecef"/>
<line x1="167.2" y1="212.62" x2="167.2" y2="214.62" stroke="#1a1a1a" stroke-width="1"/>
<line x1="165.6" y1="212.62" x2="168.8" y2="212.62" stroke="#1a1a1a" stroke-width="1"/>
<line x1="165.6" y1="214.62" x2="168.8" y2="214.62" stroke="#1a1a1a" stroke-width="1"/>
<circle cx="181.6" cy="217.99" r="2.3" stroke="#b1133b" stroke-width="1" fill="#e8ecef"/>
<line x1="181.6" y1="216.99" x2="181.6" y2="218.99" stroke="#1a1a1a" stroke-width="1"/>
<line x1="180" y1="216.99" x2="183.2" y2="216.99" stroke="#1a1a1a" stroke-width="1"/>
<line x1="180" y1="218.99" x2="183.2" y2="218.99" stroke="#1a1a1a" stroke-width="1"/>
<circle cx="196" cy="219.45" r="2.3" stroke="#b1133b" stroke-width="1" fill="#e8ecef"/>
<line x1="196" y1="218.45" x2="196" y2="220.45" stroke="#1a1a1a" stroke-width="1"/>
<line x1="194.4" y1="218.45" x2="197.6" y2="218.45" stroke="#1a1a1a" stroke-width="1"/>
<line x1="194.4" y1="220.45" x2="197.6" y2="220.45" stroke="#1a1a1a" stroke-width="1"/>
<circle cx="210.4" cy="220.91" r="2.3" stroke="#b1133b" stroke-width="1" fill="#e8ecef"/>
<line x1="210.4" y1="219.91" x2="210.4" y2="221.91" stroke="#1a1a1a" stroke-width="1"/>
<line x1="208.8" y1="219.91" x2="212" y2="219.91" stroke="#1a1a1a" stroke-width="1"/>
<line x1="208.8" y1="221.91" x2="212" y2="221.91" stroke="#1a1a1a" stroke-width="1"/>
<circle cx="224.8" cy="219.08" r="2.3" stroke="#b1133b" stroke-width="1" fill="#e8ecef"/>
<line x1="224.8" y1="215.44" x2="224.8" y2="222.73" stroke="#1a1a1a" stroke-width="1"/>
<line x1="223.2" y1="215.44" x2="226.4" y2="215.44" stroke="#1a1a1a" stroke-width="1"/>
<line x1="223.2" y1="222.73" x2="226.4" y2="222.73" stroke="#1a1a1a" stroke-width="1"/>
<rect x="165.3" y="207.11" width="1.35" height="1.35" fill="#2a2a2a"/>
<rect x="167.75" y="207.11" width="1.35" height="1.35" fill="#2a2a2a"/>
<rect x="180.92" y="211.48" width="1.35" height="1.35" fill="#2a2a2a"/>
<rect x="194.1" y="199.82" width="1.35" height="1.35" fill="#2a2a2a"/>
<rect x="196.55" y="199.82" width="1.35" height="1.35" fill="#2a2a2a"/>
<rect x="207.27" y="191.07" width="1.35" height="1.35" fill="#2a2a2a"/>
<rect x="209.72" y="191.07" width="1.35" height="1.35" fill="#2a2a2a"/>
<rect x="212.17" y="191.07" width="1.35" height="1.35" fill="#2a2a2a"/>
<rect x="222.9" y="184.51" width="1.35" height="1.35" fill="#2a2a2a"/>
<rect x="225.35" y="184.51" width="1.35" height="1.35" fill="#2a2a2a"/>
<line x1="51.9" y1="264.3" x2="51.9" y2="339.75" stroke="#1a1a1a" stroke-width="1.5"/>
<line x1="48.9" y1="339" x2="51.9" y2="339" stroke="#1a1a1a" stroke-width="1"/>
<text x="45.7" y="341.38" font-size="6.6" text-anchor="end">0</text>
<line x1="48.9" y1="324.56" x2="51.9" y2="324.56" stroke="#1a1a1a" stroke-width="1"/>
<text x="45.7" y="326.94" font-size="6.6" text-anchor="end">20</text>
<line x1="48.9" y1="310.12" x2="51.9" y2="310.12" stroke="#1a1a1a" stroke-width="1"/>
<text x="45.7" y="312.5" font-size="6.6" text-anchor="end">40</text>
<line x1="48.9" y1="295.68" x2="51.9" y2="295.68" stroke="#1a1a1a" stroke-width="1"/>
<text x="45.7" y="298.06" font-size="6.6" text-anchor="end">60</text>
<line x1="48.9" y1="281.24" x2="51.9" y2="281.24" stroke="#1a1a1a" stroke-width="1"/>
<text x="45.7" y="283.62" font-size="6.6" text-anchor="end">80</text>
<line x1="48.9" y1="266.8" x2="51.9" y2="266.8" stroke="#1a1a1a" stroke-width="1"/>
<text x="45.7" y="269.18" font-size="6.6" text-anchor="end">100</text>
<line x1="51.9" y1="339" x2="124" y2="339" stroke="#1a1a1a" stroke-width="1.3"/>
<line x1="60" y1="339" x2="60" y2="342" stroke="#1a1a1a" stroke-width="1"/>
<text x="60" y="350.5" font-size="6.5" text-anchor="middle">3</text>
<line x1="74.4" y1="339" x2="74.4" y2="342" stroke="#1a1a1a" stroke-width="1"/>
<text x="74.4" y="350.5" font-size="6.5" text-anchor="middle">5</text>
<line x1="88.8" y1="339" x2="88.8" y2="342" stroke="#1a1a1a" stroke-width="1"/>
<text x="88.8" y="350.5" font-size="6.5" text-anchor="middle">7</text>
<line x1="103.2" y1="339" x2="103.2" y2="342" stroke="#1a1a1a" stroke-width="1"/>
<text x="103.2" y="350.5" font-size="6.5" text-anchor="middle">14</text>
<line x1="117.6" y1="339" x2="117.6" y2="342" stroke="#1a1a1a" stroke-width="1"/>
<text x="117.6" y="350.5" font-size="6.5" text-anchor="middle">21</text>
<polyline points="60,276.91 74.4,283.41 88.8,289.18 103.2,317.34 117.6,324.56" fill="none" stroke="#22427f" stroke-width="1.4"/>
<polyline points="60,298.57 74.4,282.68 88.8,288.46 103.2,297.12 117.6,301.46" fill="none" stroke="#b1133b" stroke-width="1.6"/>
<circle cx="60" cy="276.91" r="2.3" stroke="#22427f" stroke-width="1" fill="#e8ecef"/>
<line x1="60" y1="275.91" x2="60" y2="277.91" stroke="#1a1a1a" stroke-width="1"/>
<line x1="58.4" y1="275.91" x2="61.6" y2="275.91" stroke="#1a1a1a" stroke-width="1"/>
<line x1="58.4" y1="277.91" x2="61.6" y2="277.91" stroke="#1a1a1a" stroke-width="1"/>
<circle cx="74.4" cy="283.41" r="2.3" stroke="#22427f" stroke-width="1" fill="#e8ecef"/>
<line x1="74.4" y1="282.41" x2="74.4" y2="284.41" stroke="#1a1a1a" stroke-width="1"/>
<line x1="72.8" y1="282.41" x2="76" y2="282.41" stroke="#1a1a1a" stroke-width="1"/>
<line x1="72.8" y1="284.41" x2="76" y2="284.41" stroke="#1a1a1a" stroke-width="1"/>
<circle cx="88.8" cy="289.18" r="2.3" stroke="#22427f" stroke-width="1" fill="#e8ecef"/>
<line x1="88.8" y1="288.18" x2="88.8" y2="290.18" stroke="#1a1a1a" stroke-width="1"/>
<line x1="87.2" y1="288.18" x2="90.4" y2="288.18" stroke="#1a1a1a" stroke-width="1"/>
<line x1="87.2" y1="290.18" x2="90.4" y2="290.18" stroke="#1a1a1a" stroke-width="1"/>
<circle cx="103.2" cy="317.34" r="2.3" stroke="#22427f" stroke-width="1" fill="#e8ecef"/>
<line x1="103.2" y1="316.34" x2="103.2" y2="318.34" stroke="#1a1a1a" stroke-width="1"/>
<line x1="101.6" y1="316.34" x2="104.8" y2="316.34" stroke="#1a1a1a" stroke-width="1"/>
<line x1="101.6" y1="318.34" x2="104.8" y2="318.34" stroke="#1a1a1a" stroke-width="1"/>
<circle cx="117.6" cy="324.56" r="2.3" stroke="#22427f" stroke-width="1" fill="#e8ecef"/>
<line x1="117.6" y1="323.56" x2="117.6" y2="325.56" stroke="#1a1a1a" stroke-width="1"/>
<line x1="116" y1="323.56" x2="119.2" y2="323.56" stroke="#1a1a1a" stroke-width="1"/>
<line x1="116" y1="325.56" x2="119.2" y2="325.56" stroke="#1a1a1a" stroke-width="1"/>
<circle cx="60" cy="298.57" r="2.3" stroke="#b1133b" stroke-width="1" fill="#e8ecef"/>
<line x1="60" y1="292.79" x2="60" y2="304.34" stroke="#1a1a1a" stroke-width="1"/>
<line x1="58.4" y1="292.79" x2="61.6" y2="292.79" stroke="#1a1a1a" stroke-width="1"/>
<line x1="58.4" y1="304.34" x2="61.6" y2="304.34" stroke="#1a1a1a" stroke-width="1"/>
<circle cx="74.4" cy="282.68" r="2.3" stroke="#b1133b" stroke-width="1" fill="#e8ecef"/>
<line x1="74.4" y1="281.68" x2="74.4" y2="283.68" stroke="#1a1a1a" stroke-width="1"/>
<line x1="72.8" y1="281.68" x2="76" y2="281.68" stroke="#1a1a1a" stroke-width="1"/>
<line x1="72.8" y1="283.68" x2="76" y2="283.68" stroke="#1a1a1a" stroke-width="1"/>
<circle cx="88.8" cy="288.46" r="2.3" stroke="#b1133b" stroke-width="1" fill="#e8ecef"/>
<line x1="88.8" y1="287.46" x2="88.8" y2="289.46" stroke="#1a1a1a" stroke-width="1"/>
<line x1="87.2" y1="287.46" x2="90.4" y2="287.46" stroke="#1a1a1a" stroke-width="1"/>
<line x1="87.2" y1="289.46" x2="90.4" y2="289.46" stroke="#1a1a1a" stroke-width="1"/>
<circle cx="103.2" cy="297.12" r="2.3" stroke="#b1133b" stroke-width="1" fill="#e8ecef"/>
<line x1="103.2" y1="296.12" x2="103.2" y2="298.12" stroke="#1a1a1a" stroke-width="1"/>
<line x1="101.6" y1="296.12" x2="104.8" y2="296.12" stroke="#1a1a1a" stroke-width="1"/>
<line x1="101.6" y1="298.12" x2="104.8" y2="298.12" stroke="#1a1a1a" stroke-width="1"/>
<circle cx="117.6" cy="301.46" r="2.3" stroke="#b1133b" stroke-width="1" fill="#e8ecef"/>
<line x1="117.6" y1="298.57" x2="117.6" y2="304.34" stroke="#1a1a1a" stroke-width="1"/>
<line x1="116" y1="298.57" x2="119.2" y2="298.57" stroke="#1a1a1a" stroke-width="1"/>
<line x1="116" y1="304.34" x2="119.2" y2="304.34" stroke="#1a1a1a" stroke-width="1"/>
<rect x="58.1" y="271.9" width="1.35" height="1.35" fill="#2a2a2a"/>
<rect x="60.55" y="271.9" width="1.35" height="1.35" fill="#2a2a2a"/>
<rect x="100.08" y="291.39" width="1.35" height="1.35" fill="#2a2a2a"/>
<rect x="102.53" y="291.39" width="1.35" height="1.35" fill="#2a2a2a"/>
<rect x="104.98" y="291.39" width="1.35" height="1.35" fill="#2a2a2a"/>
<rect x="114.47" y="294.28" width="1.35" height="1.35" fill="#2a2a2a"/>
<rect x="116.92" y="294.28" width="1.35" height="1.35" fill="#2a2a2a"/>
<rect x="119.38" y="294.28" width="1.35" height="1.35" fill="#2a2a2a"/>
<line x1="159.1" y1="264.2" x2="159.1" y2="340.25" stroke="#1a1a1a" stroke-width="1.5"/>
<line x1="156.1" y1="339.5" x2="159.1" y2="339.5" stroke="#1a1a1a" stroke-width="1"/>
<text x="152.9" y="341.88" font-size="6.6" text-anchor="end">0</text>
<line x1="156.1" y1="324.94" x2="159.1" y2="324.94" stroke="#1a1a1a" stroke-width="1"/>
<text x="152.9" y="327.32" font-size="6.6" text-anchor="end">20</text>
<line x1="156.1" y1="310.38" x2="159.1" y2="310.38" stroke="#1a1a1a" stroke-width="1"/>
<text x="152.9" y="312.76" font-size="6.6" text-anchor="end">40</text>
<line x1="156.1" y1="295.82" x2="159.1" y2="295.82" stroke="#1a1a1a" stroke-width="1"/>
<text x="152.9" y="298.2" font-size="6.6" text-anchor="end">60</text>
<line x1="156.1" y1="281.26" x2="159.1" y2="281.26" stroke="#1a1a1a" stroke-width="1"/>
<text x="152.9" y="283.64" font-size="6.6" text-anchor="end">80</text>
<line x1="156.1" y1="266.7" x2="159.1" y2="266.7" stroke="#1a1a1a" stroke-width="1"/>
<text x="152.9" y="269.08" font-size="6.6" text-anchor="end">100</text>
<line x1="159.1" y1="339.5" x2="231.5" y2="339.5" stroke="#1a1a1a" stroke-width="1.3"/>
<line x1="166.4" y1="339.5" x2="166.4" y2="342.5" stroke="#1a1a1a" stroke-width="1"/>
<text x="166.4" y="351" font-size="6.5" text-anchor="middle">3</text>
<line x1="180.85" y1="339.5" x2="180.85" y2="342.5" stroke="#1a1a1a" stroke-width="1"/>
<text x="180.85" y="351" font-size="6.5" text-anchor="middle">5</text>
<line x1="195.3" y1="339.5" x2="195.3" y2="342.5" stroke="#1a1a1a" stroke-width="1"/>
<text x="195.3" y="351" font-size="6.5" text-anchor="middle">7</text>
<line x1="209.75" y1="339.5" x2="209.75" y2="342.5" stroke="#1a1a1a" stroke-width="1"/>
<text x="209.75" y="351" font-size="6.5" text-anchor="middle">14</text>
<line x1="224.2" y1="339.5" x2="224.2" y2="342.5" stroke="#1a1a1a" stroke-width="1"/>
<text x="224.2" y="351" font-size="6.5" text-anchor="middle">21</text>
<polyline points="166.4,272.52 180.85,279.8 195.3,294.36 209.75,303.83 224.2,308.92" fill="none" stroke="#22427f" stroke-width="1.4"/>
<polyline points="166.4,287.81 180.85,281.99 195.3,283.44 209.75,281.26 224.2,281.99" fill="none" stroke="#b1133b" stroke-width="1.6"/>
<circle cx="166.4" cy="272.52" r="2.3" stroke="#22427f" stroke-width="1" fill="#e8ecef"/>
<line x1="166.4" y1="271.52" x2="166.4" y2="273.52" stroke="#1a1a1a" stroke-width="1"/>
<line x1="164.8" y1="271.52" x2="168" y2="271.52" stroke="#1a1a1a" stroke-width="1"/>
<line x1="164.8" y1="273.52" x2="168" y2="273.52" stroke="#1a1a1a" stroke-width="1"/>
<circle cx="180.85" cy="279.8" r="2.3" stroke="#22427f" stroke-width="1" fill="#e8ecef"/>
<line x1="180.85" y1="278.8" x2="180.85" y2="280.8" stroke="#1a1a1a" stroke-width="1"/>
<line x1="179.25" y1="278.8" x2="182.45" y2="278.8" stroke="#1a1a1a" stroke-width="1"/>
<line x1="179.25" y1="280.8" x2="182.45" y2="280.8" stroke="#1a1a1a" stroke-width="1"/>
<circle cx="195.3" cy="294.36" r="2.3" stroke="#22427f" stroke-width="1" fill="#e8ecef"/>
<line x1="195.3" y1="293.36" x2="195.3" y2="295.36" stroke="#1a1a1a" stroke-width="1"/>
<line x1="193.7" y1="293.36" x2="196.9" y2="293.36" stroke="#1a1a1a" stroke-width="1"/>
<line x1="193.7" y1="295.36" x2="196.9" y2="295.36" stroke="#1a1a1a" stroke-width="1"/>
<circle cx="209.75" cy="303.83" r="2.3" stroke="#22427f" stroke-width="1" fill="#e8ecef"/>
<line x1="209.75" y1="302.83" x2="209.75" y2="304.83" stroke="#1a1a1a" stroke-width="1"/>
<line x1="208.15" y1="302.83" x2="211.35" y2="302.83" stroke="#1a1a1a" stroke-width="1"/>
<line x1="208.15" y1="304.83" x2="211.35" y2="304.83" stroke="#1a1a1a" stroke-width="1"/>
<circle cx="224.2" cy="308.92" r="2.3" stroke="#22427f" stroke-width="1" fill="#e8ecef"/>
<line x1="224.2" y1="306.01" x2="224.2" y2="311.84" stroke="#1a1a1a" stroke-width="1"/>
<line x1="222.6" y1="306.01" x2="225.8" y2="306.01" stroke="#1a1a1a" stroke-width="1"/>
<line x1="222.6" y1="311.84" x2="225.8" y2="311.84" stroke="#1a1a1a" stroke-width="1"/>
<circle cx="166.4" cy="287.81" r="2.3" stroke="#b1133b" stroke-width="1" fill="#e8ecef"/>
<line x1="166.4" y1="286.81" x2="166.4" y2="288.81" stroke="#1a1a1a" stroke-width="1"/>
<line x1="164.8" y1="286.81" x2="168" y2="286.81" stroke="#1a1a1a" stroke-width="1"/>
<line x1="164.8" y1="288.81" x2="168" y2="288.81" stroke="#1a1a1a" stroke-width="1"/>
<circle cx="180.85" cy="281.99" r="2.3" stroke="#b1133b" stroke-width="1" fill="#e8ecef"/>
<line x1="180.85" y1="280.99" x2="180.85" y2="282.99" stroke="#1a1a1a" stroke-width="1"/>
<line x1="179.25" y1="280.99" x2="182.45" y2="280.99" stroke="#1a1a1a" stroke-width="1"/>
<line x1="179.25" y1="282.99" x2="182.45" y2="282.99" stroke="#1a1a1a" stroke-width="1"/>
<circle cx="195.3" cy="283.44" r="2.3" stroke="#b1133b" stroke-width="1" fill="#e8ecef"/>
<line x1="195.3" y1="282.44" x2="195.3" y2="284.44" stroke="#1a1a1a" stroke-width="1"/>
<line x1="193.7" y1="282.44" x2="196.9" y2="282.44" stroke="#1a1a1a" stroke-width="1"/>
<line x1="193.7" y1="284.44" x2="196.9" y2="284.44" stroke="#1a1a1a" stroke-width="1"/>
<circle cx="209.75" cy="281.26" r="2.3" stroke="#b1133b" stroke-width="1" fill="#e8ecef"/>
<line x1="209.75" y1="280.26" x2="209.75" y2="282.26" stroke="#1a1a1a" stroke-width="1"/>
<line x1="208.15" y1="280.26" x2="211.35" y2="280.26" stroke="#1a1a1a" stroke-width="1"/>
<line x1="208.15" y1="282.26" x2="211.35" y2="282.26" stroke="#1a1a1a" stroke-width="1"/>
<circle cx="224.2" cy="281.99" r="2.3" stroke="#b1133b" stroke-width="1" fill="#e8ecef"/>
<line x1="224.2" y1="279.08" x2="224.2" y2="284.9" stroke="#1a1a1a" stroke-width="1"/>
<line x1="222.6" y1="279.08" x2="225.8" y2="279.08" stroke="#1a1a1a" stroke-width="1"/>
<line x1="222.6" y1="284.9" x2="225.8" y2="284.9" stroke="#1a1a1a" stroke-width="1"/>
<rect x="163.28" y="267.48" width="1.35" height="1.35" fill="#2a2a2a"/>
<rect x="165.72" y="267.48" width="1.35" height="1.35" fill="#2a2a2a"/>
<rect x="168.18" y="267.48" width="1.35" height="1.35" fill="#2a2a2a"/>
<rect x="178.95" y="275.49" width="1.35" height="1.35" fill="#2a2a2a"/>
<rect x="181.4" y="275.49" width="1.35" height="1.35" fill="#2a2a2a"/>
<rect x="193.4" y="277.67" width="1.35" height="1.35" fill="#2a2a2a"/>
<rect x="195.85" y="277.67" width="1.35" height="1.35" fill="#2a2a2a"/>
<rect x="206.62" y="274.76" width="1.35" height="1.35" fill="#2a2a2a"/>
<rect x="209.07" y="274.76" width="1.35" height="1.35" fill="#2a2a2a"/>
<rect x="211.53" y="274.76" width="1.35" height="1.35" fill="#2a2a2a"/>
<rect x="222.3" y="275.49" width="1.35" height="1.35" fill="#2a2a2a"/>
<rect x="224.75" y="275.49" width="1.35" height="1.35" fill="#2a2a2a"/>
<text x="29.3" y="224" font-size="9" textLength="65" lengthAdjust="spacingAndGlyphs" transform="rotate(-90 29.3 224)" stroke="#1a1a1a" stroke-width="0.22">% CD44<tspan font-size="6.2" dy="-2.6">+</tspan><tspan dy="2.6"> CD62L</tspan><tspan font-size="6.2" dy="-2.6">+</tspan></text>
<text x="29.3" y="327.5" font-size="9" textLength="64.3" lengthAdjust="spacingAndGlyphs" transform="rotate(-90 29.3 327.5)" stroke="#1a1a1a" stroke-width="0.22">% CD44<tspan font-size="6.2" dy="-2.6">+</tspan><tspan dy="2.6"> CD62L</tspan><tspan font-size="6.2" dy="-2.6">-</tspan></text>
<text x="95" y="363.6" font-size="8.3" textLength="87.7" lengthAdjust="spacingAndGlyphs" stroke="#1a1a1a" stroke-width="0.22">Days after CAR-T cell transfer</text>
<line x1="228.5" y1="155.3" x2="236.5" y2="155.3" stroke="#b1133b" stroke-width="1.3"/>
<circle cx="232.5" cy="155.3" r="2.3" stroke="#b1133b" stroke-width="1" fill="#fff"/>
<line x1="231.2" y1="155.3" x2="233.8" y2="155.3" stroke="#1a1a1a" stroke-width="0.9"/>
<text x="239.2" y="156.96" font-size="4.6" textLength="22" lengthAdjust="spacingAndGlyphs">WT CAR-T</text>
<line x1="228.5" y1="163.4" x2="236.5" y2="163.4" stroke="#22427f" stroke-width="1.3"/>
<circle cx="232.5" cy="163.4" r="2.3" stroke="#22427f" stroke-width="1" fill="#fff"/>
<line x1="231.2" y1="163.4" x2="233.8" y2="163.4" stroke="#1a1a1a" stroke-width="0.9"/>
<text x="239.2" y="165.06" font-size="4.6" textLength="22" lengthAdjust="spacingAndGlyphs">KO CAR-T</text>
<text x="332.4" y="152.3" font-size="10.2" textLength="28.2" lengthAdjust="spacingAndGlyphs">Spleen</text>
<text x="402.8" y="152.3" font-size="10.2" textLength="53.7" lengthAdjust="spacingAndGlyphs">Bone marrow</text>
<line x1="322.2" y1="157.9" x2="322.2" y2="233.85" stroke="#1a1a1a" stroke-width="1.5"/>
<line x1="319.2" y1="233.1" x2="322.2" y2="233.1" stroke="#1a1a1a" stroke-width="1"/>
<text x="316" y="235.48" font-size="6.6" text-anchor="end">0</text>
<line x1="319.2" y1="218.56" x2="322.2" y2="218.56" stroke="#1a1a1a" stroke-width="1"/>
<text x="316" y="220.94" font-size="6.6" text-anchor="end">20</text>
<line x1="319.2" y1="204.02" x2="322.2" y2="204.02" stroke="#1a1a1a" stroke-width="1"/>
<text x="316" y="206.4" font-size="6.6" text-anchor="end">40</text>
<line x1="319.2" y1="189.48" x2="322.2" y2="189.48" stroke="#1a1a1a" stroke-width="1"/>
<text x="316" y="191.86" font-size="6.6" text-anchor="end">60</text>
<line x1="319.2" y1="174.94" x2="322.2" y2="174.94" stroke="#1a1a1a" stroke-width="1"/>
<text x="316" y="177.32" font-size="6.6" text-anchor="end">80</text>
<line x1="319.2" y1="160.4" x2="322.2" y2="160.4" stroke="#1a1a1a" stroke-width="1"/>
<text x="316" y="162.78" font-size="6.6" text-anchor="end">100</text>
<line x1="322.2" y1="233.1" x2="370.7" y2="233.1" stroke="#1a1a1a" stroke-width="1.3"/>
<line x1="334.4" y1="233.1" x2="334.4" y2="236.1" stroke="#1a1a1a" stroke-width="1"/>
<text x="334.4" y="245.6" font-size="6.5" text-anchor="middle">Day 7</text>
<line x1="358.4" y1="233.1" x2="358.4" y2="236.1" stroke="#1a1a1a" stroke-width="1"/>
<text x="358.4" y="245.6" font-size="6.5" text-anchor="middle">Day 21</text>
<circle cx="325.8" cy="222.56" r="2.3" stroke="#b1133b" stroke-width="1" fill="none"/>
<circle cx="328.4" cy="224.01" r="2.3" stroke="#b1133b" stroke-width="1" fill="none"/>
<circle cx="330.6" cy="223.65" r="2.3" stroke="#b1133b" stroke-width="1" fill="none"/>
<circle cx="333" cy="224.01" r="2.3" stroke="#b1133b" stroke-width="1" fill="none"/>
<circle cx="334.4" cy="223.29" r="2.3" stroke="#b1133b" stroke-width="1" fill="none"/>
<line x1="325.05" y1="223.65" x2="334.55" y2="223.65" stroke="#1a1a1a" stroke-width="1.2"/>
<circle cx="337" cy="213.47" r="2.3" stroke="#2f5596" stroke-width="1" fill="none"/>
<circle cx="339.8" cy="216.74" r="2.3" stroke="#2f5596" stroke-width="1" fill="none"/>
<circle cx="341.8" cy="214.93" r="2.3" stroke="#2f5596" stroke-width="1" fill="none"/>
<circle cx="343.5" cy="217.11" r="2.3" stroke="#2f5596" stroke-width="1" fill="none"/>
<circle cx="339" cy="218.56" r="2.3" stroke="#2f5596" stroke-width="1" fill="none"/>
<line x1="335.05" y1="216.09" x2="344.55" y2="216.09" stroke="#1a1a1a" stroke-width="1.2"/>
<circle cx="351.5" cy="228.01" r="2.3" stroke="#b1133b" stroke-width="1" fill="none"/>
<circle cx="353.6" cy="231.65" r="2.3" stroke="#b1133b" stroke-width="1" fill="none"/>
<circle cx="355.6" cy="230.92" r="2.3" stroke="#b1133b" stroke-width="1" fill="none"/>
<line x1="348.85" y1="230.19" x2="358.35" y2="230.19" stroke="#1a1a1a" stroke-width="1.2"/>
<line x1="353.6" y1="231.65" x2="353.6" y2="228.74" stroke="#1a1a1a" stroke-width="1.1"/>
<line x1="351.4" y1="231.65" x2="355.8" y2="231.65" stroke="#1a1a1a" stroke-width="1.1"/>
<line x1="351.4" y1="228.74" x2="355.8" y2="228.74" stroke="#1a1a1a" stroke-width="1.1"/>
<circle cx="361.6" cy="174.58" r="2.3" stroke="#2f5596" stroke-width="1" fill="none"/>
<circle cx="366.7" cy="174.58" r="2.3" stroke="#2f5596" stroke-width="1" fill="none"/>
<circle cx="364" cy="191.66" r="2.3" stroke="#2f5596" stroke-width="1" fill="none"/>
<line x1="359.25" y1="180.32" x2="368.75" y2="180.32" stroke="#1a1a1a" stroke-width="1.2"/>
<line x1="364" y1="185.84" x2="364" y2="174.94" stroke="#1a1a1a" stroke-width="1.1"/>
<line x1="361.8" y1="185.84" x2="366.2" y2="185.84" stroke="#1a1a1a" stroke-width="1.1"/>
<line x1="361.8" y1="174.94" x2="366.2" y2="174.94" stroke="#1a1a1a" stroke-width="1.1"/>
<line x1="329.7" y1="204.7" x2="339" y2="204.7" stroke="#4a4a4a" stroke-width="1.25"/>
<rect x="331.23" y="201.12" width="1.35" height="1.35" fill="#2a2a2a"/>
<rect x="333.68" y="201.12" width="1.35" height="1.35" fill="#2a2a2a"/>
<rect x="336.12" y="201.12" width="1.35" height="1.35" fill="#2a2a2a"/>
<line x1="354" y1="168.9" x2="363.7" y2="168.9" stroke="#4a4a4a" stroke-width="1.25"/>
<rect x="358.18" y="165.32" width="1.35" height="1.35" fill="#2a2a2a"/>
<line x1="405" y1="157.7" x2="405" y2="233.65" stroke="#1a1a1a" stroke-width="1.5"/>
<line x1="402" y1="232.9" x2="405" y2="232.9" stroke="#1a1a1a" stroke-width="1"/>
<text x="398.8" y="235.28" font-size="6.6" text-anchor="end">0</text>
<line x1="402" y1="218.36" x2="405" y2="218.36" stroke="#1a1a1a" stroke-width="1"/>
<text x="398.8" y="220.74" font-size="6.6" text-anchor="end">20</text>
<line x1="402" y1="203.82" x2="405" y2="203.82" stroke="#1a1a1a" stroke-width="1"/>
<text x="398.8" y="206.2" font-size="6.6" text-anchor="end">40</text>
<line x1="402" y1="189.28" x2="405" y2="189.28" stroke="#1a1a1a" stroke-width="1"/>
<text x="398.8" y="191.66" font-size="6.6" text-anchor="end">60</text>
<line x1="402" y1="174.74" x2="405" y2="174.74" stroke="#1a1a1a" stroke-width="1"/>
<text x="398.8" y="177.12" font-size="6.6" text-anchor="end">80</text>
<line x1="402" y1="160.2" x2="405" y2="160.2" stroke="#1a1a1a" stroke-width="1"/>
<text x="398.8" y="162.58" font-size="6.6" text-anchor="end">100</text>
<line x1="405" y1="232.9" x2="453.5" y2="232.9" stroke="#1a1a1a" stroke-width="1.3"/>
<line x1="417.3" y1="232.9" x2="417.3" y2="235.9" stroke="#1a1a1a" stroke-width="1"/>
<text x="417.3" y="245.4" font-size="6.5" text-anchor="middle">Day 7</text>
<line x1="441" y1="232.9" x2="441" y2="235.9" stroke="#1a1a1a" stroke-width="1"/>
<text x="441" y="245.4" font-size="6.5" text-anchor="middle">Day 21</text>
<circle cx="407.5" cy="225.63" r="2.3" stroke="#b1133b" stroke-width="1" fill="none"/>
<circle cx="410" cy="227.08" r="2.3" stroke="#b1133b" stroke-width="1" fill="none"/>
<circle cx="412.2" cy="225.99" r="2.3" stroke="#b1133b" stroke-width="1" fill="none"/>
<circle cx="414.5" cy="227.45" r="2.3" stroke="#b1133b" stroke-width="1" fill="none"/>
<circle cx="416" cy="226.36" r="2.3" stroke="#b1133b" stroke-width="1" fill="none"/>
<line x1="407.05" y1="226.36" x2="416.55" y2="226.36" stroke="#1a1a1a" stroke-width="1.2"/>
<circle cx="419" cy="219.81" r="2.3" stroke="#2f5596" stroke-width="1" fill="none"/>
<circle cx="421.5" cy="220.54" r="2.3" stroke="#2f5596" stroke-width="1" fill="none"/>
<circle cx="423.5" cy="216.91" r="2.3" stroke="#2f5596" stroke-width="1" fill="none"/>
<circle cx="426" cy="219.45" r="2.3" stroke="#2f5596" stroke-width="1" fill="none"/>
<circle cx="427.5" cy="219.09" r="2.3" stroke="#2f5596" stroke-width="1" fill="none"/>
<circle cx="422.5" cy="222.72" r="2.3" stroke="#2f5596" stroke-width="1" fill="none"/>
<line x1="418.25" y1="219.81" x2="427.75" y2="219.81" stroke="#1a1a1a" stroke-width="1.2"/>
<circle cx="434" cy="229.99" r="2.3" stroke="#b1133b" stroke-width="1" fill="none"/>
<circle cx="436.2" cy="231.45" r="2.3" stroke="#b1133b" stroke-width="1" fill="none"/>
<circle cx="438.5" cy="230.72" r="2.3" stroke="#b1133b" stroke-width="1" fill="none"/>
<line x1="431.45" y1="230.72" x2="440.95" y2="230.72" stroke="#1a1a1a" stroke-width="1.2"/>
<circle cx="446.8" cy="185.64" r="2.3" stroke="#2f5596" stroke-width="1" fill="none"/>
<circle cx="446.8" cy="198" r="2.3" stroke="#2f5596" stroke-width="1" fill="none"/>
<circle cx="446.8" cy="221.27" r="2.3" stroke="#2f5596" stroke-width="1" fill="none"/>
<line x1="442.05" y1="201.64" x2="451.55" y2="201.64" stroke="#1a1a1a" stroke-width="1.2"/>
<line x1="446.8" y1="211.82" x2="446.8" y2="191.46" stroke="#1a1a1a" stroke-width="1.1"/>
<line x1="444.6" y1="211.82" x2="449" y2="211.82" stroke="#1a1a1a" stroke-width="1.1"/>
<line x1="444.6" y1="191.46" x2="449" y2="191.46" stroke="#1a1a1a" stroke-width="1.1"/>
<line x1="412.7" y1="207" x2="422" y2="207" stroke="#4a4a4a" stroke-width="1.25"/>
<rect x="415.45" y="203.42" width="1.35" height="1.35" fill="#2a2a2a"/>
<rect x="417.9" y="203.42" width="1.35" height="1.35" fill="#2a2a2a"/>
<line x1="322.2" y1="263.6" x2="322.2" y2="339.95" stroke="#1a1a1a" stroke-width="1.5"/>
<line x1="319.2" y1="339.2" x2="322.2" y2="339.2" stroke="#1a1a1a" stroke-width="1"/>
<text x="316" y="341.58" font-size="6.6" text-anchor="end">0</text>
<line x1="319.2" y1="324.58" x2="322.2" y2="324.58" stroke="#1a1a1a" stroke-width="1"/>
<text x="316" y="326.96" font-size="6.6" text-anchor="end">20</text>
<line x1="319.2" y1="309.96" x2="322.2" y2="309.96" stroke="#1a1a1a" stroke-width="1"/>
<text x="316" y="312.34" font-size="6.6" text-anchor="end">40</text>
<line x1="319.2" y1="295.34" x2="322.2" y2="295.34" stroke="#1a1a1a" stroke-width="1"/>
<text x="316" y="297.72" font-size="6.6" text-anchor="end">60</text>
<line x1="319.2" y1="280.72" x2="322.2" y2="280.72" stroke="#1a1a1a" stroke-width="1"/>
<text x="316" y="283.1" font-size="6.6" text-anchor="end">80</text>
<line x1="319.2" y1="266.1" x2="322.2" y2="266.1" stroke="#1a1a1a" stroke-width="1"/>
<text x="316" y="268.48" font-size="6.6" text-anchor="end">100</text>
<line x1="322.2" y1="339.2" x2="370" y2="339.2" stroke="#1a1a1a" stroke-width="1.3"/>
<line x1="334.7" y1="339.2" x2="334.7" y2="342.2" stroke="#1a1a1a" stroke-width="1"/>
<text x="334.7" y="351.7" font-size="6.5" text-anchor="middle">Day 7</text>
<line x1="358.5" y1="339.2" x2="358.5" y2="342.2" stroke="#1a1a1a" stroke-width="1"/>
<text x="358.5" y="351.7" font-size="6.5" text-anchor="middle">Day 21</text>
<circle cx="325.2" cy="307.04" r="2.3" stroke="#b1133b" stroke-width="1" fill="none"/>
<circle cx="327.6" cy="308.5" r="2.3" stroke="#b1133b" stroke-width="1" fill="none"/>
<circle cx="330" cy="309.59" r="2.3" stroke="#b1133b" stroke-width="1" fill="none"/>
<circle cx="332.4" cy="309.23" r="2.3" stroke="#b1133b" stroke-width="1" fill="none"/>
<circle cx="334.6" cy="308.13" r="2.3" stroke="#b1133b" stroke-width="1" fill="none"/>
<line x1="325.05" y1="308.5" x2="334.55" y2="308.5" stroke="#1a1a1a" stroke-width="1.2"/>
<circle cx="337" cy="331.89" r="2.3" stroke="#2f5596" stroke-width="1" fill="none"/>
<circle cx="339.5" cy="332.62" r="2.3" stroke="#2f5596" stroke-width="1" fill="none"/>
<circle cx="341.8" cy="331.89" r="2.3" stroke="#2f5596" stroke-width="1" fill="none"/>
<circle cx="344" cy="332.62" r="2.3" stroke="#2f5596" stroke-width="1" fill="none"/>
<circle cx="346" cy="331.89" r="2.3" stroke="#2f5596" stroke-width="1" fill="none"/>
<line x1="336.55" y1="332.26" x2="346.05" y2="332.26" stroke="#1a1a1a" stroke-width="1.2"/>
<circle cx="352.2" cy="295.34" r="2.3" stroke="#b1133b" stroke-width="1" fill="none"/>
<circle cx="355.4" cy="291.32" r="2.3" stroke="#b1133b" stroke-width="1" fill="none"/>
<circle cx="358.4" cy="296.07" r="2.3" stroke="#b1133b" stroke-width="1" fill="none"/>
<line x1="350.55" y1="294.61" x2="360.05" y2="294.61" stroke="#1a1a1a" stroke-width="1.2"/>
<circle cx="361.2" cy="336.28" r="2.3" stroke="#2f5596" stroke-width="1" fill="none"/>
<circle cx="363.6" cy="322.39" r="2.3" stroke="#2f5596" stroke-width="1" fill="none"/>
<circle cx="366" cy="337.74" r="2.3" stroke="#2f5596" stroke-width="1" fill="none"/>
<line x1="358.85" y1="331.16" x2="368.35" y2="331.16" stroke="#1a1a1a" stroke-width="1.2"/>
<line x1="363.6" y1="336.28" x2="363.6" y2="326.04" stroke="#1a1a1a" stroke-width="1.1"/>
<line x1="361.4" y1="336.28" x2="365.8" y2="336.28" stroke="#1a1a1a" stroke-width="1.1"/>
<line x1="361.4" y1="326.04" x2="365.8" y2="326.04" stroke="#1a1a1a" stroke-width="1.1"/>
<line x1="329.6" y1="301.8" x2="339.5" y2="301.8" stroke="#4a4a4a" stroke-width="1.25"/>
<rect x="330.2" y="298.23" width="1.35" height="1.35" fill="#2a2a2a"/>
<rect x="332.65" y="298.23" width="1.35" height="1.35" fill="#2a2a2a"/>
<rect x="335.1" y="298.23" width="1.35" height="1.35" fill="#2a2a2a"/>
<rect x="337.55" y="298.23" width="1.35" height="1.35" fill="#2a2a2a"/>
<line x1="353.8" y1="284.3" x2="363.5" y2="284.3" stroke="#4a4a4a" stroke-width="1.25"/>
<rect x="357.97" y="280.73" width="1.35" height="1.35" fill="#2a2a2a"/>
<line x1="405" y1="264.4" x2="405" y2="339.75" stroke="#1a1a1a" stroke-width="1.5"/>
<line x1="402" y1="339" x2="405" y2="339" stroke="#1a1a1a" stroke-width="1"/>
<text x="398.8" y="341.38" font-size="6.6" text-anchor="end">0</text>
<line x1="402" y1="324.58" x2="405" y2="324.58" stroke="#1a1a1a" stroke-width="1"/>
<text x="398.8" y="326.96" font-size="6.6" text-anchor="end">20</text>
<line x1="402" y1="310.16" x2="405" y2="310.16" stroke="#1a1a1a" stroke-width="1"/>
<text x="398.8" y="312.54" font-size="6.6" text-anchor="end">40</text>
<line x1="402" y1="295.74" x2="405" y2="295.74" stroke="#1a1a1a" stroke-width="1"/>
<text x="398.8" y="298.12" font-size="6.6" text-anchor="end">60</text>
<line x1="402" y1="281.32" x2="405" y2="281.32" stroke="#1a1a1a" stroke-width="1"/>
<text x="398.8" y="283.7" font-size="6.6" text-anchor="end">80</text>
<line x1="402" y1="266.9" x2="405" y2="266.9" stroke="#1a1a1a" stroke-width="1"/>
<text x="398.8" y="269.28" font-size="6.6" text-anchor="end">100</text>
<line x1="405" y1="339" x2="453.5" y2="339" stroke="#1a1a1a" stroke-width="1.3"/>
<line x1="417.1" y1="339" x2="417.1" y2="342" stroke="#1a1a1a" stroke-width="1"/>
<text x="417.1" y="351.5" font-size="6.5" text-anchor="middle">Day 7</text>
<line x1="441.2" y1="339" x2="441.2" y2="342" stroke="#1a1a1a" stroke-width="1"/>
<text x="441.2" y="351.5" font-size="6.5" text-anchor="middle">Day 21</text>
<circle cx="408.5" cy="301.51" r="2.3" stroke="#b1133b" stroke-width="1" fill="none"/>
<circle cx="410.5" cy="305.11" r="2.3" stroke="#b1133b" stroke-width="1" fill="none"/>
<circle cx="412.5" cy="299.34" r="2.3" stroke="#b1133b" stroke-width="1" fill="none"/>
<circle cx="414.5" cy="302.95" r="2.3" stroke="#b1133b" stroke-width="1" fill="none"/>
<circle cx="416.2" cy="301.51" r="2.3" stroke="#b1133b" stroke-width="1" fill="none"/>
<circle cx="412" cy="306.56" r="2.3" stroke="#b1133b" stroke-width="1" fill="none"/>
<line x1="407.55" y1="302.23" x2="417.05" y2="302.23" stroke="#1a1a1a" stroke-width="1.2"/>
<circle cx="418.5" cy="331.07" r="2.3" stroke="#2f5596" stroke-width="1" fill="none"/>
<circle cx="421" cy="331.79" r="2.3" stroke="#2f5596" stroke-width="1" fill="none"/>
<circle cx="423.2" cy="331.07" r="2.3" stroke="#2f5596" stroke-width="1" fill="none"/>
<circle cx="425.5" cy="331.79" r="2.3" stroke="#2f5596" stroke-width="1" fill="none"/>
<circle cx="427.5" cy="331.07" r="2.3" stroke="#2f5596" stroke-width="1" fill="none"/>
<line x1="418.25" y1="331.43" x2="427.75" y2="331.43" stroke="#1a1a1a" stroke-width="1.2"/>
<circle cx="433.8" cy="290.69" r="2.3" stroke="#b1133b" stroke-width="1" fill="none"/>
<circle cx="437.7" cy="290.69" r="2.3" stroke="#b1133b" stroke-width="1" fill="none"/>
<circle cx="435.8" cy="295.74" r="2.3" stroke="#b1133b" stroke-width="1" fill="none"/>
<line x1="431.55" y1="292.13" x2="441.05" y2="292.13" stroke="#1a1a1a" stroke-width="1.2"/>
<circle cx="444.4" cy="323.5" r="2.3" stroke="#2f5596" stroke-width="1" fill="none"/>
<circle cx="449.2" cy="323.5" r="2.3" stroke="#2f5596" stroke-width="1" fill="none"/>
<circle cx="446.9" cy="331.07" r="2.3" stroke="#2f5596" stroke-width="1" fill="none"/>
<line x1="442.05" y1="326.38" x2="451.55" y2="326.38" stroke="#1a1a1a" stroke-width="1.2"/>
<line x1="446.8" y1="330.35" x2="446.8" y2="323.86" stroke="#1a1a1a" stroke-width="1.1"/>
<line x1="444.6" y1="330.35" x2="449" y2="330.35" stroke="#1a1a1a" stroke-width="1.1"/>
<line x1="444.6" y1="323.86" x2="449" y2="323.86" stroke="#1a1a1a" stroke-width="1.1"/>
<line x1="411.7" y1="292.9" x2="422" y2="292.9" stroke="#4a4a4a" stroke-width="1.25"/>
<rect x="412.5" y="289.32" width="1.35" height="1.35" fill="#2a2a2a"/>
<rect x="414.95" y="289.32" width="1.35" height="1.35" fill="#2a2a2a"/>
<rect x="417.4" y="289.32" width="1.35" height="1.35" fill="#2a2a2a"/>
<rect x="419.85" y="289.32" width="1.35" height="1.35" fill="#2a2a2a"/>
<line x1="436.7" y1="281.9" x2="446.3" y2="281.9" stroke="#4a4a4a" stroke-width="1.25"/>
<rect x="438.38" y="278.32" width="1.35" height="1.35" fill="#2a2a2a"/>
<rect x="440.82" y="278.32" width="1.35" height="1.35" fill="#2a2a2a"/>
<rect x="443.27" y="278.32" width="1.35" height="1.35" fill="#2a2a2a"/>
<text x="288.3" y="225" font-size="9" textLength="60.5" lengthAdjust="spacingAndGlyphs" transform="rotate(-90 288.3 225)" stroke="#1a1a1a" stroke-width="0.22">% CD127<tspan font-size="6" dy="-2.5">+</tspan><tspan dy="2.5"> KLRG1</tspan><tspan font-size="6" dy="-2.5">-</tspan></text>
<text x="298.4" y="207.5" font-size="7.6" textLength="24.5" lengthAdjust="spacingAndGlyphs" transform="rotate(-90 298.4 207.5)" stroke="#1a1a1a" stroke-width="0.22">(MPEC)</text>
<text x="289.3" y="329" font-size="9" textLength="56.5" lengthAdjust="spacingAndGlyphs" transform="rotate(-90 289.3 329)" stroke="#1a1a1a" stroke-width="0.22">% CD127<tspan font-size="6" dy="-2.5">-</tspan><tspan dy="2.5"> KLRG1</tspan><tspan font-size="6" dy="-2.5">+</tspan></text>
<text x="297.4" y="314" font-size="7.6" textLength="23.3" lengthAdjust="spacingAndGlyphs" transform="rotate(-90 297.4 314)" stroke="#1a1a1a" stroke-width="0.22">(SLEC)</text>
<circle cx="458.8" cy="159.2" r="2.3" stroke="#b1133b" stroke-width="1" fill="none"/>
<text x="464" y="161.36" font-size="6" textLength="24.6" lengthAdjust="spacingAndGlyphs">WT CAR-T</text>
<circle cx="458.8" cy="169.2" r="2.3" stroke="#2f5596" stroke-width="1" fill="none"/>
<text x="464" y="171.36" font-size="6" textLength="24.6" lengthAdjust="spacingAndGlyphs">KO CAR-T</text>
<text x="7.4" y="383.8" font-size="12" font-weight="bold">C</text>
<text x="62.1" y="395.7" font-size="7" text-anchor="middle">1&#176; tumor</text>
<text x="62.1" y="404.3" font-size="7" text-anchor="middle">stimulation</text>
<text x="7.4" y="415" font-size="7">C57BL/6</text>
<g transform="translate(0 0) scale(1)"><path d="M9.2 422.7 C11 423.6 12.5 421 14.5 419.6 C16.5 418.2 19.5 417.6 21.5 418.8 C22.8 419.6 23.4 420.6 23.8 421.6" stroke="#8a8a96" stroke-width="1.1" fill="none"/><path d="M23.5 421.2 C27 421.2 29.4 423.4 30.2 426.3 C31.5 427.8 31.9 430.4 30.9 432.5 C29.6 435 27.6 437.5 25.6 438.6 C24.3 439.3 22.7 439.3 21.4 438.6 C19.4 437.5 17.4 435 16.1 432.5 C15.1 430.4 15.5 427.8 16.8 426.3 C17.6 423.4 20 421.2 23.5 421.2 Z" fill="#dcdce4" stroke="#8f8f9a" stroke-width="0.9"/><path d="M15.6 429.8 Q18.2 426.4 21.8 431" stroke="#777783" stroke-width="1.6" fill="none"/><path d="M31.4 429.8 Q28.8 426.4 25.2 431" stroke="#777783" stroke-width="1.6" fill="none"/><circle cx="21.5" cy="435.2" r="0.75" fill="#333"/><circle cx="25.5" cy="435.2" r="0.75" fill="#333"/><path d="M21.2 437.5 Q23.5 439.2 25.8 437.5" stroke="#333" stroke-width="0.9" fill="none"/><path d="M19.6 437 L16.6 436.6 M19.8 437.6 L17.2 439.8 M27.4 437 L30.4 436.6 M27.2 437.6 L29.8 439.8" stroke="#aaa" stroke-width="0.5" fill="none"/></g>
<line x1="24.3" y1="446.2" x2="96.5" y2="446.2" stroke="#d4d4d4" stroke-width="1"/>
<line x1="24.3" y1="443" x2="24.3" y2="449.4" stroke="#d0d0d0" stroke-width="0.8"/>
<line x1="60.3" y1="443" x2="60.3" y2="449.4" stroke="#d0d0d0" stroke-width="0.8"/>
<line x1="96.5" y1="443" x2="96.5" y2="449.4" stroke="#d0d0d0" stroke-width="0.8"/>
<path d="M73.5 449.4 L76 443 M76.4 449.4 L78.9 443" stroke="#cfcfcf" stroke-width="0.7" fill="none"/>
<text x="101.7" y="449.4" font-size="7">Days</text>
<text x="24.4" y="458.9" font-size="7" text-anchor="middle">-6</text>
<line x1="24.4" y1="474.4" x2="24.4" y2="464.6" stroke="#1a1a1a" stroke-width="1"/>
<path d="M22.5 465.1 L24.4 461.5 L26.3 465.1 Z" stroke="none" stroke-width="1" fill="#1a1a1a"/>
<text x="60.3" y="458.9" font-size="7" text-anchor="middle">0</text>
<line x1="60.3" y1="474.4" x2="60.3" y2="464.6" stroke="#1a1a1a" stroke-width="1"/>
<path d="M58.4 465.1 L60.3 461.5 L62.2 465.1 Z" stroke="none" stroke-width="1" fill="#1a1a1a"/>
<text x="96.2" y="458.9" font-size="7" text-anchor="middle">21</text>
<line x1="96.1" y1="474.4" x2="96.1" y2="464.6" stroke="#1a1a1a" stroke-width="1"/>
<path d="M94.2 465.1 L96.1 461.5 L98 465.1 Z" stroke="none" stroke-width="1" fill="#1a1a1a"/>
<text x="24.6" y="484.7" font-size="7" text-anchor="middle">1x10<tspan font-size="4.3" dy="-2.6">6</tspan></text>
<text x="24.3" y="492.9" font-size="7" text-anchor="middle">hCD19<tspan font-size="4.3" dy="-2.6">+</tspan></text>
<text x="24.3" y="501.1" font-size="7" text-anchor="middle">B-ALL</text>
<text x="60.3" y="484.7" font-size="7" text-anchor="middle">1:1</text>
<text x="60.3" y="492.9" font-size="7" text-anchor="middle">WT + KO</text>
<text x="60.3" y="501.1" font-size="7" text-anchor="middle">CAR-T</text>
<text x="96.2" y="484.7" font-size="7" text-anchor="middle">Sort</text>
<text x="96.2" y="492.9" font-size="7" text-anchor="middle">WT and</text>
<text x="96.2" y="501.1" font-size="7" text-anchor="middle">KO CAR-T</text>
<line x1="113" y1="491" x2="144.21" y2="448.58" stroke="#1a1a1a" stroke-width="1.1"/>
<path d="M145.52 450.17 L146.4 445.6 L142.3 447.8 Z" stroke="none" stroke-width="1" fill="#1a1a1a"/>
<text x="193" y="396.6" font-size="7" text-anchor="middle">2&#176; tumor</text>
<text x="193.3" y="404.5" font-size="7" text-anchor="middle">stimulation</text>
<text x="140.3" y="414.6" font-size="7">C57BL/6</text>
<g transform="translate(132 0.6) scale(1)"><path d="M9.2 422.7 C11 423.6 12.5 421 14.5 419.6 C16.5 418.2 19.5 417.6 21.5 418.8 C22.8 419.6 23.4 420.6 23.8 421.6" stroke="#8a8a96" stroke-width="1.1" fill="none"/><path d="M23.5 421.2 C27 421.2 29.4 423.4 30.2 426.3 C31.5 427.8 31.9 430.4 30.9 432.5 C29.6 435 27.6 437.5 25.6 438.6 C24.3 439.3 22.7 439.3 21.4 438.6 C19.4 437.5 17.4 435 16.1 432.5 C15.1 430.4 15.5 427.8 16.8 426.3 C17.6 423.4 20 421.2 23.5 421.2 Z" fill="#dcdce4" stroke="#8f8f9a" stroke-width="0.9"/><path d="M15.6 429.8 Q18.2 426.4 21.8 431" stroke="#777783" stroke-width="1.6" fill="none"/><path d="M31.4 429.8 Q28.8 426.4 25.2 431" stroke="#777783" stroke-width="1.6" fill="none"/><circle cx="21.5" cy="435.2" r="0.75" fill="#333"/><circle cx="25.5" cy="435.2" r="0.75" fill="#333"/><path d="M21.2 437.5 Q23.5 439.2 25.8 437.5" stroke="#333" stroke-width="0.9" fill="none"/><path d="M19.6 437 L16.6 436.6 M19.8 437.6 L17.2 439.8 M27.4 437 L30.4 436.6 M27.2 437.6 L29.8 439.8" stroke="#aaa" stroke-width="0.5" fill="none"/></g>
<line x1="154.8" y1="447.2" x2="226.9" y2="447.2" stroke="#444" stroke-width="1.3"/>
<line x1="154.8" y1="443.4" x2="154.8" y2="450.8" stroke="#444" stroke-width="1.2"/>
<line x1="191.7" y1="443.4" x2="191.7" y2="450.8" stroke="#444" stroke-width="1.2"/>
<line x1="226.3" y1="443.4" x2="226.3" y2="450.8" stroke="#444" stroke-width="1.2"/>
<text x="233.2" y="451.5" font-size="7">Days</text>
<text x="155.9" y="459.4" font-size="7" text-anchor="middle">0</text>
<text x="191.7" y="459.4" font-size="7" text-anchor="middle">1</text>
<text x="226.3" y="459.4" font-size="7" text-anchor="middle">6</text>
<line x1="154.8" y1="475.4" x2="154.8" y2="465.3" stroke="#1a1a1a" stroke-width="1"/>
<path d="M152.9 465.8 L154.8 462.2 L156.7 465.8 Z" stroke="none" stroke-width="1" fill="#1a1a1a"/>
<line x1="191.7" y1="475.4" x2="191.7" y2="465.3" stroke="#1a1a1a" stroke-width="1"/>
<path d="M189.8 465.8 L191.7 462.2 L193.6 465.8 Z" stroke="none" stroke-width="1" fill="#1a1a1a"/>
<line x1="226.3" y1="475.4" x2="226.3" y2="465.3" stroke="#1a1a1a" stroke-width="1"/>
<path d="M224.4 465.8 L226.3 462.2 L228.2 465.8 Z" stroke="none" stroke-width="1" fill="#1a1a1a"/>
<text x="155.5" y="485.3" font-size="7" text-anchor="middle">1:1 D21</text>
<text x="155.5" y="493.1" font-size="7" text-anchor="middle">WT + KO</text>
<text x="155.5" y="501.2" font-size="7" text-anchor="middle">CAR-T</text>
<text x="191.9" y="485.3" font-size="7" text-anchor="middle">1x10<tspan font-size="4.3" dy="-2.6">6</tspan></text>
<text x="191.7" y="493.1" font-size="7" text-anchor="middle">hCD19<tspan font-size="4.3" dy="-2.6">+</tspan></text>
<text x="191.7" y="501.2" font-size="7" text-anchor="middle">B-ALL</text>
<text x="226.6" y="485.3" font-size="7" text-anchor="middle">Analysis</text>
<text x="265.3" y="383.8" font-size="12" font-weight="bold">D</text>
<text x="314.8" y="381.2" font-size="9.5" text-anchor="middle">2<tspan font-size="6" dy="-3.5">o</tspan></text>
<text x="314.3" y="392.4" font-size="9.3" text-anchor="middle">Day 5</text>
<line x1="296.4" y1="397.4" x2="296.4" y2="473.5" stroke="#1a1a1a" stroke-width="1.2"/>
<line x1="293.4" y1="400.6" x2="296.4" y2="400.6" stroke="#1a1a1a" stroke-width="1"/>
<text x="289.5" y="402.9" font-size="6.3" text-anchor="end">10<tspan font-size="3.8" dy="-2.8">6</tspan></text>
<line x1="293.4" y1="436.8" x2="296.4" y2="436.8" stroke="#1a1a1a" stroke-width="1"/>
<text x="289.5" y="439.1" font-size="6.3" text-anchor="end">10<tspan font-size="3.8" dy="-2.8">5</tspan></text>
<line x1="293.4" y1="472.9" x2="296.4" y2="472.9" stroke="#1a1a1a" stroke-width="1"/>
<text x="289.5" y="475.2" font-size="6.3" text-anchor="end">10<tspan font-size="3.8" dy="-2.8">4</tspan></text>
<line x1="296.4" y1="472.9" x2="332.7" y2="472.9" stroke="#1a1a1a" stroke-width="1.2"/>
<line x1="305.3" y1="472.9" x2="305.3" y2="475.9" stroke="#1a1a1a" stroke-width="1"/>
<line x1="323.5" y1="472.9" x2="323.5" y2="475.9" stroke="#1a1a1a" stroke-width="1"/>
<circle cx="301.9" cy="441.9" r="2.3" stroke="#b1133b" stroke-width="1" fill="none"/>
<circle cx="305.3" cy="439.6" r="2.3" stroke="#b1133b" stroke-width="1" fill="none"/>
<circle cx="308.5" cy="441.2" r="2.3" stroke="#b1133b" stroke-width="1" fill="none"/>
<circle cx="305.3" cy="447.8" r="2.3" stroke="#b1133b" stroke-width="1" fill="none"/>
<circle cx="305.3" cy="454.7" r="2.3" stroke="#b1133b" stroke-width="1" fill="none"/>
<line x1="299.2" y1="444.2" x2="311.2" y2="444.2" stroke="#1a1a1a" stroke-width="1.2"/>
<line x1="305.3" y1="441.5" x2="305.3" y2="447" stroke="#1a1a1a" stroke-width="1.1"/>
<circle cx="317.6" cy="414" r="2.3" stroke="#2f5596" stroke-width="1" fill="none"/>
<circle cx="326.8" cy="413.8" r="2.3" stroke="#2f5596" stroke-width="1" fill="none"/>
<circle cx="320.8" cy="417" r="2.3" stroke="#2f5596" stroke-width="1" fill="none"/>
<circle cx="326.3" cy="421.2" r="2.3" stroke="#2f5596" stroke-width="1" fill="none"/>
<circle cx="323.4" cy="428.2" r="2.3" stroke="#2f5596" stroke-width="1" fill="none"/>
<line x1="318.2" y1="417.4" x2="329.8" y2="417.4" stroke="#1a1a1a" stroke-width="1.2"/>
<line x1="324" y1="414.5" x2="324" y2="420.5" stroke="#1a1a1a" stroke-width="1.1"/>
<line x1="307" y1="407.4" x2="323.9" y2="407.4" stroke="#4a4a4a" stroke-width="1.25"/>
<rect x="313.55" y="403.82" width="1.35" height="1.35" fill="#2a2a2a"/>
<rect x="316" y="403.82" width="1.35" height="1.35" fill="#2a2a2a"/>
<text x="273.9" y="454.6" font-size="9.3" textLength="38.9" lengthAdjust="spacingAndGlyphs" transform="rotate(-90 273.9 454.6)" stroke="#1a1a1a" stroke-width="0.22">CAR-T cell #</text>
<circle cx="299.2" cy="482.7" r="2.3" stroke="#b1133b" stroke-width="1" fill="none"/>
<text x="304.4" y="484.93" font-size="6.2" textLength="27.2" lengthAdjust="spacingAndGlyphs">WT CAR-T</text>
<circle cx="299.2" cy="491.9" r="2.3" stroke="#2f5596" stroke-width="1" fill="none"/>
<text x="304.4" y="494.13" font-size="6.2" textLength="27.2" lengthAdjust="spacingAndGlyphs">KO CAR-T</text>
<text x="348.8" y="383.1" font-size="12" font-weight="bold">E</text>
<text x="417.5" y="384.8" font-size="9.5" text-anchor="middle">1<tspan font-size="6" dy="-3.5">o</tspan></text>
<text x="417.1" y="393.8" font-size="9.3" text-anchor="middle">Day 21</text>
<text x="470.5" y="384.8" font-size="9.5" text-anchor="middle">2<tspan font-size="6" dy="-3.5">o</tspan></text>
<text x="470.3" y="393.8" font-size="9.3" text-anchor="middle">Day 5</text>
<text x="363" y="420.2" font-size="9" text-anchor="middle">WT</text>
<text x="362.7" y="428.7" font-size="9" text-anchor="middle">CAR-T</text>
<text x="363" y="472.4" font-size="9" text-anchor="middle">KO</text>
<text x="362.7" y="480.3" font-size="9" text-anchor="middle">CAR-T</text>
<line x1="385" y1="469" x2="385" y2="443.5" stroke="#1a1a1a" stroke-width="1"/>
<path d="M382.8 444 L385 440 L387.2 444 Z" stroke="none" stroke-width="1" fill="#1a1a1a"/>
<text x="388.2" y="496.7" font-size="9" textLength="23.2" lengthAdjust="spacingAndGlyphs" transform="rotate(-90 388.2 496.7)" stroke="#1a1a1a" stroke-width="0.22">CD62L</text>
<text x="396" y="510.3" font-size="9" textLength="17.2" lengthAdjust="spacingAndGlyphs" stroke="#1a1a1a" stroke-width="0.22">CD44</text>
<line x1="416.9" y1="506.2" x2="444.8" y2="506.2" stroke="#1a1a1a" stroke-width="1"/>
<path d="M444.3 504 L448.3 506.2 L444.3 508.4 Z" stroke="none" stroke-width="1" fill="#1a1a1a"/>
<line x1="392.8" y1="402.1" x2="395" y2="402.1" stroke="#888" stroke-width="0.55"/>
<line x1="393.6" y1="407.1" x2="395" y2="407.1" stroke="#888" stroke-width="0.55"/>
<line x1="392.8" y1="412.1" x2="395" y2="412.1" stroke="#888" stroke-width="0.55"/>
<line x1="393.6" y1="417.1" x2="395" y2="417.1" stroke="#888" stroke-width="0.55"/>
<line x1="392.8" y1="422.1" x2="395" y2="422.1" stroke="#888" stroke-width="0.55"/>
<line x1="393.6" y1="427.1" x2="395" y2="427.1" stroke="#888" stroke-width="0.55"/>
<line x1="392.8" y1="432.1" x2="395" y2="432.1" stroke="#888" stroke-width="0.55"/>
<line x1="393.6" y1="437.1" x2="395" y2="437.1" stroke="#888" stroke-width="0.55"/>
<line x1="392.8" y1="442.1" x2="395" y2="442.1" stroke="#888" stroke-width="0.55"/>
<line x1="397.5" y1="444.6" x2="397.5" y2="447" stroke="#888" stroke-width="0.55"/>
<line x1="400.87" y1="444.6" x2="400.87" y2="446.2" stroke="#888" stroke-width="0.55"/>
<line x1="404.23" y1="444.6" x2="404.23" y2="446.2" stroke="#888" stroke-width="0.55"/>
<line x1="407.6" y1="444.6" x2="407.6" y2="447" stroke="#888" stroke-width="0.55"/>
<line x1="410.97" y1="444.6" x2="410.97" y2="446.2" stroke="#888" stroke-width="0.55"/>
<line x1="414.33" y1="444.6" x2="414.33" y2="446.2" stroke="#888" stroke-width="0.55"/>
<line x1="417.7" y1="444.6" x2="417.7" y2="447" stroke="#888" stroke-width="0.55"/>
<line x1="421.07" y1="444.6" x2="421.07" y2="446.2" stroke="#888" stroke-width="0.55"/>
<line x1="424.43" y1="444.6" x2="424.43" y2="446.2" stroke="#888" stroke-width="0.55"/>
<line x1="427.8" y1="444.6" x2="427.8" y2="447" stroke="#888" stroke-width="0.55"/>
<line x1="431.17" y1="444.6" x2="431.17" y2="446.2" stroke="#888" stroke-width="0.55"/>
<line x1="434.53" y1="444.6" x2="434.53" y2="446.2" stroke="#888" stroke-width="0.55"/>
<line x1="437.9" y1="444.6" x2="437.9" y2="447" stroke="#888" stroke-width="0.55"/>
<rect x="392.6" y="432.9" width="2.4" height="1.7" fill="#111"/>
<rect x="404.08" y="444.6" width="1.7" height="2.4" fill="#111"/>
<rect x="395" y="399.6" width="45.4" height="45" fill="#fff" stroke="#3a3a3a" stroke-width="0.9"/>
<ellipse cx="423.5" cy="425.5" rx="4.82" ry="10.26" stroke="#9e9e9e" stroke-width="0.5" fill="#c7c7c7"/>
<ellipse cx="423.5" cy="425.5" rx="4.3" ry="9.5" stroke="#8c8c8c" stroke-width="0.81" fill="none"/>
<ellipse cx="423.5" cy="425.5" rx="3.87" ry="8.55" stroke="#838383" stroke-width="0.81" fill="none"/>
<ellipse cx="423.5" cy="425.5" rx="3.44" ry="7.6" stroke="#7a7a7a" stroke-width="0.81" fill="none"/>
<ellipse cx="423.5" cy="425.5" rx="3.01" ry="6.65" stroke="#717171" stroke-width="0.81" fill="none"/>
<ellipse cx="423.5" cy="425.5" rx="2.37" ry="5.7" stroke="#505050" stroke-width="1.46" fill="#a7a7a7"/>
<ellipse cx="423.5" cy="425.5" rx="0.86" ry="2.38" stroke="none" stroke-width="1" fill="#d6d6d6"/>
<ellipse cx="423.3" cy="433.2" rx="4.03" ry="2.81" stroke="#777777" stroke-width="0.5" fill="#a8a8a8"/>
<ellipse cx="423.3" cy="433.2" rx="3.6" ry="2.6" stroke="#626262" stroke-width="1.14" fill="none"/>
<ellipse cx="423.3" cy="433.2" rx="2.88" ry="2.08" stroke="#464646" stroke-width="1.14" fill="none"/>
<ellipse cx="423.3" cy="433.2" rx="1.98" ry="1.56" stroke="#000000" stroke-width="2.34" fill="#7b7b7b"/>
<ellipse cx="423.3" cy="433.2" rx="0.72" ry="0.65" stroke="none" stroke-width="1" fill="#c5c5c5"/>
<line x1="418.5" y1="399.6" x2="418.5" y2="444.6" stroke="#555" stroke-width="0.75"/>
<line x1="395" y1="429.6" x2="440.4" y2="429.6" stroke="#555" stroke-width="0.75"/>
<text x="439" y="405.2" font-size="4.8" text-anchor="end">53.1</text>
<text x="439" y="443" font-size="4.8" text-anchor="end">46.2</text>
<line x1="446.6" y1="402.1" x2="448.8" y2="402.1" stroke="#888" stroke-width="0.55"/>
<line x1="447.4" y1="407.1" x2="448.8" y2="407.1" stroke="#888" stroke-width="0.55"/>
<line x1="446.6" y1="412.1" x2="448.8" y2="412.1" stroke="#888" stroke-width="0.55"/>
<line x1="447.4" y1="417.1" x2="448.8" y2="417.1" stroke="#888" stroke-width="0.55"/>
<line x1="446.6" y1="422.1" x2="448.8" y2="422.1" stroke="#888" stroke-width="0.55"/>
<line x1="447.4" y1="427.1" x2="448.8" y2="427.1" stroke="#888" stroke-width="0.55"/>
<line x1="446.6" y1="432.1" x2="448.8" y2="432.1" stroke="#888" stroke-width="0.55"/>
<line x1="447.4" y1="437.1" x2="448.8" y2="437.1" stroke="#888" stroke-width="0.55"/>
<line x1="446.6" y1="442.1" x2="448.8" y2="442.1" stroke="#888" stroke-width="0.55"/>
<line x1="451.3" y1="444.6" x2="451.3" y2="447" stroke="#888" stroke-width="0.55"/>
<line x1="454.67" y1="444.6" x2="454.67" y2="446.2" stroke="#888" stroke-width="0.55"/>
<line x1="458.03" y1="444.6" x2="458.03" y2="446.2" stroke="#888" stroke-width="0.55"/>
<line x1="461.4" y1="444.6" x2="461.4" y2="447" stroke="#888" stroke-width="0.55"/>
<line x1="464.77" y1="444.6" x2="464.77" y2="446.2" stroke="#888" stroke-width="0.55"/>
<line x1="468.13" y1="444.6" x2="468.13" y2="446.2" stroke="#888" stroke-width="0.55"/>
<line x1="471.5" y1="444.6" x2="471.5" y2="447" stroke="#888" stroke-width="0.55"/>
<line x1="474.87" y1="444.6" x2="474.87" y2="446.2" stroke="#888" stroke-width="0.55"/>
<line x1="478.23" y1="444.6" x2="478.23" y2="446.2" stroke="#888" stroke-width="0.55"/>
<line x1="481.6" y1="444.6" x2="481.6" y2="447" stroke="#888" stroke-width="0.55"/>
<line x1="484.97" y1="444.6" x2="484.97" y2="446.2" stroke="#888" stroke-width="0.55"/>
<line x1="488.33" y1="444.6" x2="488.33" y2="446.2" stroke="#888" stroke-width="0.55"/>
<line x1="491.7" y1="444.6" x2="491.7" y2="447" stroke="#888" stroke-width="0.55"/>
<rect x="446.4" y="432.9" width="2.4" height="1.7" fill="#111"/>
<rect x="457.88" y="444.6" width="1.7" height="2.4" fill="#111"/>
<rect x="448.8" y="399.6" width="45.4" height="45" fill="#fff" stroke="#3a3a3a" stroke-width="0.9"/>
<ellipse cx="479.8" cy="423" rx="4.48" ry="8.1" stroke="#bababa" stroke-width="0.5" fill="#dddddd"/>
<ellipse cx="479.8" cy="423" rx="4" ry="7.5" stroke="#aaaaaa" stroke-width="0.57" fill="none"/>
<ellipse cx="479.8" cy="423" rx="3.6" ry="6.75" stroke="#a7a7a7" stroke-width="0.57" fill="none"/>
<ellipse cx="479.8" cy="423" rx="3.2" ry="6" stroke="#a4a4a4" stroke-width="0.57" fill="none"/>
<ellipse cx="479.8" cy="423" rx="2.8" ry="5.25" stroke="#a1a1a1" stroke-width="0.57" fill="none"/>
<ellipse cx="479.8" cy="423" rx="2.2" ry="4.5" stroke="#a0a0a0" stroke-width="0.82" fill="#c7c7c7"/>
<ellipse cx="479.8" cy="423" rx="0.8" ry="1.88" stroke="none" stroke-width="1" fill="#e2e2e2"/>
<ellipse cx="479" cy="433" rx="5.94" ry="2.81" stroke="#7e7e7e" stroke-width="0.5" fill="#aeaeae"/>
<ellipse cx="479" cy="433" rx="5.3" ry="2.6" stroke="#6a6a6a" stroke-width="1.08" fill="none"/>
<ellipse cx="479" cy="433" rx="4.24" ry="2.08" stroke="#505050" stroke-width="1.08" fill="none"/>
<ellipse cx="479" cy="433" rx="2.92" ry="1.56" stroke="#000000" stroke-width="2.18" fill="#838383"/>
<ellipse cx="479" cy="433" rx="1.06" ry="0.65" stroke="none" stroke-width="1" fill="#c8c8c8"/>
<line x1="472.8" y1="399.6" x2="472.8" y2="444.6" stroke="#555" stroke-width="0.75"/>
<line x1="448.8" y1="430.8" x2="494.2" y2="430.8" stroke="#555" stroke-width="0.75"/>
<text x="492.8" y="405.2" font-size="4.8" text-anchor="end">21.0</text>
<text x="492.8" y="443" font-size="4.8" text-anchor="end">78.9</text>
<line x1="392.8" y1="453.3" x2="395" y2="453.3" stroke="#888" stroke-width="0.55"/>
<line x1="393.6" y1="458.3" x2="395" y2="458.3" stroke="#888" stroke-width="0.55"/>
<line x1="392.8" y1="463.3" x2="395" y2="463.3" stroke="#888" stroke-width="0.55"/>
<line x1="393.6" y1="468.3" x2="395" y2="468.3" stroke="#888" stroke-width="0.55"/>
<line x1="392.8" y1="473.3" x2="395" y2="473.3" stroke="#888" stroke-width="0.55"/>
<line x1="393.6" y1="478.3" x2="395" y2="478.3" stroke="#888" stroke-width="0.55"/>
<line x1="392.8" y1="483.3" x2="395" y2="483.3" stroke="#888" stroke-width="0.55"/>
<line x1="393.6" y1="488.3" x2="395" y2="488.3" stroke="#888" stroke-width="0.55"/>
<line x1="392.8" y1="493.3" x2="395" y2="493.3" stroke="#888" stroke-width="0.55"/>
<line x1="397.5" y1="495.8" x2="397.5" y2="498.2" stroke="#888" stroke-width="0.55"/>
<line x1="400.87" y1="495.8" x2="400.87" y2="497.4" stroke="#888" stroke-width="0.55"/>
<line x1="404.23" y1="495.8" x2="404.23" y2="497.4" stroke="#888" stroke-width="0.55"/>
<line x1="407.6" y1="495.8" x2="407.6" y2="498.2" stroke="#888" stroke-width="0.55"/>
<line x1="410.97" y1="495.8" x2="410.97" y2="497.4" stroke="#888" stroke-width="0.55"/>
<line x1="414.33" y1="495.8" x2="414.33" y2="497.4" stroke="#888" stroke-width="0.55"/>
<line x1="417.7" y1="495.8" x2="417.7" y2="498.2" stroke="#888" stroke-width="0.55"/>
<line x1="421.07" y1="495.8" x2="421.07" y2="497.4" stroke="#888" stroke-width="0.55"/>
<line x1="424.43" y1="495.8" x2="424.43" y2="497.4" stroke="#888" stroke-width="0.55"/>
<line x1="427.8" y1="495.8" x2="427.8" y2="498.2" stroke="#888" stroke-width="0.55"/>
<line x1="431.17" y1="495.8" x2="431.17" y2="497.4" stroke="#888" stroke-width="0.55"/>
<line x1="434.53" y1="495.8" x2="434.53" y2="497.4" stroke="#888" stroke-width="0.55"/>
<line x1="437.9" y1="495.8" x2="437.9" y2="498.2" stroke="#888" stroke-width="0.55"/>
<rect x="392.6" y="484.1" width="2.4" height="1.7" fill="#111"/>
<rect x="404.08" y="495.8" width="1.7" height="2.4" fill="#111"/>
<rect x="395" y="450.8" width="45.4" height="45" fill="#fff" stroke="#3a3a3a" stroke-width="0.9"/>
<ellipse cx="424.3" cy="476" rx="4.48" ry="10.26" stroke="#858585" stroke-width="0.5" fill="#b3b3b3"/>
<ellipse cx="424.3" cy="476" rx="4" ry="9.5" stroke="#717171" stroke-width="1.02" fill="none"/>
<ellipse cx="424.3" cy="476" rx="3.6" ry="8.55" stroke="#636363" stroke-width="1.02" fill="none"/>
<ellipse cx="424.3" cy="476" rx="3.2" ry="7.6" stroke="#555555" stroke-width="1.02" fill="none"/>
<ellipse cx="424.3" cy="476" rx="2.8" ry="6.65" stroke="#474747" stroke-width="1.02" fill="none"/>
<ellipse cx="424.3" cy="476" rx="2.2" ry="5.7" stroke="#0a0a0a" stroke-width="2.02" fill="#8b8b8b"/>
<ellipse cx="424.3" cy="476" rx="0.8" ry="2.38" stroke="none" stroke-width="1" fill="#cbcbcb"/>
<ellipse cx="424.2" cy="484.6" rx="4.03" ry="2.48" stroke="#7b7b7b" stroke-width="0.5" fill="#ababab"/>
<ellipse cx="424.2" cy="484.6" rx="3.6" ry="2.3" stroke="#666666" stroke-width="1.11" fill="none"/>
<ellipse cx="424.2" cy="484.6" rx="2.88" ry="1.84" stroke="#4b4b4b" stroke-width="1.11" fill="none"/>
<ellipse cx="424.2" cy="484.6" rx="1.98" ry="1.38" stroke="#000000" stroke-width="2.26" fill="#7f7f7f"/>
<ellipse cx="424.2" cy="484.6" rx="0.72" ry="0.57" stroke="none" stroke-width="1" fill="#c7c7c7"/>
<line x1="418.5" y1="450.8" x2="418.5" y2="495.8" stroke="#555" stroke-width="0.75"/>
<line x1="395" y1="480.8" x2="440.4" y2="480.8" stroke="#555" stroke-width="0.75"/>
<text x="439" y="456.4" font-size="4.8" text-anchor="end">69.2</text>
<text x="439" y="494.2" font-size="4.8" text-anchor="end">30.5</text>
<line x1="446.6" y1="453.3" x2="448.8" y2="453.3" stroke="#888" stroke-width="0.55"/>
<line x1="447.4" y1="458.3" x2="448.8" y2="458.3" stroke="#888" stroke-width="0.55"/>
<line x1="446.6" y1="463.3" x2="448.8" y2="463.3" stroke="#888" stroke-width="0.55"/>
<line x1="447.4" y1="468.3" x2="448.8" y2="468.3" stroke="#888" stroke-width="0.55"/>
<line x1="446.6" y1="473.3" x2="448.8" y2="473.3" stroke="#888" stroke-width="0.55"/>
<line x1="447.4" y1="478.3" x2="448.8" y2="478.3" stroke="#888" stroke-width="0.55"/>
<line x1="446.6" y1="483.3" x2="448.8" y2="483.3" stroke="#888" stroke-width="0.55"/>
<line x1="447.4" y1="488.3" x2="448.8" y2="488.3" stroke="#888" stroke-width="0.55"/>
<line x1="446.6" y1="493.3" x2="448.8" y2="493.3" stroke="#888" stroke-width="0.55"/>
<line x1="451.3" y1="495.8" x2="451.3" y2="498.2" stroke="#888" stroke-width="0.55"/>
<line x1="454.67" y1="495.8" x2="454.67" y2="497.4" stroke="#888" stroke-width="0.55"/>
<line x1="458.03" y1="495.8" x2="458.03" y2="497.4" stroke="#888" stroke-width="0.55"/>
<line x1="461.4" y1="495.8" x2="461.4" y2="498.2" stroke="#888" stroke-width="0.55"/>
<line x1="464.77" y1="495.8" x2="464.77" y2="497.4" stroke="#888" stroke-width="0.55"/>
<line x1="468.13" y1="495.8" x2="468.13" y2="497.4" stroke="#888" stroke-width="0.55"/>
<line x1="471.5" y1="495.8" x2="471.5" y2="498.2" stroke="#888" stroke-width="0.55"/>
<line x1="474.87" y1="495.8" x2="474.87" y2="497.4" stroke="#888" stroke-width="0.55"/>
<line x1="478.23" y1="495.8" x2="478.23" y2="497.4" stroke="#888" stroke-width="0.55"/>
<line x1="481.6" y1="495.8" x2="481.6" y2="498.2" stroke="#888" stroke-width="0.55"/>
<line x1="484.97" y1="495.8" x2="484.97" y2="497.4" stroke="#888" stroke-width="0.55"/>
<line x1="488.33" y1="495.8" x2="488.33" y2="497.4" stroke="#888" stroke-width="0.55"/>
<line x1="491.7" y1="495.8" x2="491.7" y2="498.2" stroke="#888" stroke-width="0.55"/>
<rect x="446.4" y="484.1" width="2.4" height="1.7" fill="#111"/>
<rect x="457.88" y="495.8" width="1.7" height="2.4" fill="#111"/>
<rect x="448.8" y="450.8" width="45.4" height="45" fill="#fff" stroke="#3a3a3a" stroke-width="0.9"/>
<ellipse cx="480.8" cy="475.5" rx="4.48" ry="11.34" stroke="#979797" stroke-width="0.5" fill="#c1c1c1"/>
<ellipse cx="480.8" cy="475.5" rx="4" ry="10.5" stroke="#848484" stroke-width="0.87" fill="none"/>
<ellipse cx="480.8" cy="475.5" rx="3.6" ry="9.45" stroke="#7a7a7a" stroke-width="0.87" fill="none"/>
<ellipse cx="480.8" cy="475.5" rx="3.2" ry="8.4" stroke="#6f6f6f" stroke-width="0.87" fill="none"/>
<ellipse cx="480.8" cy="475.5" rx="2.8" ry="7.35" stroke="#656565" stroke-width="0.87" fill="none"/>
<ellipse cx="480.8" cy="475.5" rx="2.2" ry="6.3" stroke="#3c3c3c" stroke-width="1.62" fill="#9f9f9f"/>
<ellipse cx="480.8" cy="475.5" rx="0.8" ry="2.62" stroke="none" stroke-width="1" fill="#d3d3d3"/>
<ellipse cx="480.6" cy="485.3" rx="4.7" ry="2.48" stroke="#7b7b7b" stroke-width="0.5" fill="#ababab"/>
<ellipse cx="480.6" cy="485.3" rx="4.2" ry="2.3" stroke="#666666" stroke-width="1.11" fill="none"/>
<ellipse cx="480.6" cy="485.3" rx="3.36" ry="1.84" stroke="#4b4b4b" stroke-width="1.11" fill="none"/>
<ellipse cx="480.6" cy="485.3" rx="2.31" ry="1.38" stroke="#000000" stroke-width="2.26" fill="#7f7f7f"/>
<ellipse cx="480.6" cy="485.3" rx="0.84" ry="0.57" stroke="none" stroke-width="1" fill="#c7c7c7"/>
<line x1="472.8" y1="450.8" x2="472.8" y2="495.8" stroke="#555" stroke-width="0.75"/>
<line x1="448.8" y1="482.2" x2="494.2" y2="482.2" stroke="#555" stroke-width="0.75"/>
<text x="492.8" y="456.4" font-size="4.8" text-anchor="end">50.9</text>
<text x="492.8" y="494.2" font-size="4.8" text-anchor="end">49.1</text>
<line x1="364.5" y1="534.3" x2="364.5" y2="610.15" stroke="#1a1a1a" stroke-width="1.5"/>
<line x1="361.5" y1="609.4" x2="364.5" y2="609.4" stroke="#1a1a1a" stroke-width="1"/>
<text x="358.3" y="611.85" font-size="6.8" text-anchor="end">0</text>
<line x1="361.5" y1="594.88" x2="364.5" y2="594.88" stroke="#1a1a1a" stroke-width="1"/>
<text x="358.3" y="597.33" font-size="6.8" text-anchor="end">20</text>
<line x1="361.5" y1="580.36" x2="364.5" y2="580.36" stroke="#1a1a1a" stroke-width="1"/>
<text x="358.3" y="582.81" font-size="6.8" text-anchor="end">40</text>
<line x1="361.5" y1="565.84" x2="364.5" y2="565.84" stroke="#1a1a1a" stroke-width="1"/>
<text x="358.3" y="568.29" font-size="6.8" text-anchor="end">60</text>
<line x1="361.5" y1="551.32" x2="364.5" y2="551.32" stroke="#1a1a1a" stroke-width="1"/>
<text x="358.3" y="553.77" font-size="6.8" text-anchor="end">80</text>
<line x1="361.5" y1="536.8" x2="364.5" y2="536.8" stroke="#1a1a1a" stroke-width="1"/>
<text x="358.3" y="539.25" font-size="6.8" text-anchor="end">100</text>
<line x1="364.5" y1="609.4" x2="412" y2="609.4" stroke="#1a1a1a" stroke-width="1.3"/>
<line x1="376.6" y1="609.4" x2="376.6" y2="612.4" stroke="#1a1a1a" stroke-width="1"/>
<line x1="400.8" y1="609.4" x2="400.8" y2="612.4" stroke="#1a1a1a" stroke-width="1"/>
<text x="376.6" y="621.6" font-size="6.8" text-anchor="middle">1<tspan font-size="4.5" dy="-2.6">o</tspan><tspan dy="2.6"> -</tspan></text>
<text x="376.6" y="630.9" font-size="6.8" text-anchor="middle">Day 21</text>
<text x="400.8" y="621.6" font-size="6.8" text-anchor="middle">2<tspan font-size="4.5" dy="-2.6">o</tspan><tspan dy="2.6"> -</tspan></text>
<text x="400.8" y="630.9" font-size="6.8" text-anchor="middle">Day 5</text>
<circle cx="368.8" cy="570.92" r="2.3" stroke="#b1133b" stroke-width="1" fill="none"/>
<circle cx="369.5" cy="563.66" r="2.3" stroke="#b1133b" stroke-width="1" fill="none"/>
<circle cx="372.5" cy="560.03" r="2.3" stroke="#b1133b" stroke-width="1" fill="none"/>
<circle cx="373.2" cy="565.11" r="2.3" stroke="#b1133b" stroke-width="1" fill="none"/>
<line x1="366.75" y1="564.39" x2="376.25" y2="564.39" stroke="#1a1a1a" stroke-width="1.2"/>
<line x1="371.5" y1="566.57" x2="371.5" y2="562.21" stroke="#1a1a1a" stroke-width="1.1"/>
<line x1="369.3" y1="566.57" x2="373.7" y2="566.57" stroke="#1a1a1a" stroke-width="1.1"/>
<line x1="369.3" y1="562.21" x2="373.7" y2="562.21" stroke="#1a1a1a" stroke-width="1.1"/>
<circle cx="378.8" cy="554.22" r="2.3" stroke="#2f5596" stroke-width="1" fill="none"/>
<circle cx="384" cy="554.22" r="2.3" stroke="#2f5596" stroke-width="1" fill="none"/>
<circle cx="380.3" cy="560.03" r="2.3" stroke="#2f5596" stroke-width="1" fill="none"/>
<circle cx="384" cy="560.03" r="2.3" stroke="#2f5596" stroke-width="1" fill="none"/>
<circle cx="381.8" cy="556.76" r="2.3" stroke="#2f5596" stroke-width="1" fill="none"/>
<line x1="376.75" y1="556.4" x2="386.25" y2="556.4" stroke="#1a1a1a" stroke-width="1.2"/>
<circle cx="391.5" cy="592.7" r="2.3" stroke="#b1133b" stroke-width="1" fill="none"/>
<circle cx="393.4" cy="595.61" r="2.3" stroke="#b1133b" stroke-width="1" fill="none"/>
<circle cx="396.1" cy="596.33" r="2.3" stroke="#b1133b" stroke-width="1" fill="none"/>
<circle cx="399.3" cy="594.15" r="2.3" stroke="#b1133b" stroke-width="1" fill="none"/>
<line x1="390" y1="594.88" x2="401" y2="594.88" stroke="#1a1a1a" stroke-width="1.2"/>
<circle cx="403.6" cy="571.65" r="2.3" stroke="#2f5596" stroke-width="1" fill="none"/>
<circle cx="408.3" cy="571.65" r="2.3" stroke="#2f5596" stroke-width="1" fill="none"/>
<circle cx="404.2" cy="576" r="2.3" stroke="#2f5596" stroke-width="1" fill="none"/>
<circle cx="408.3" cy="576" r="2.3" stroke="#2f5596" stroke-width="1" fill="none"/>
<line x1="400.5" y1="573.83" x2="411.5" y2="573.83" stroke="#1a1a1a" stroke-width="1.2"/>
<line x1="370" y1="533.4" x2="395.2" y2="533.4" stroke="#4a4a4a" stroke-width="1.25"/>
<rect x="378.25" y="529.83" width="1.35" height="1.35" fill="#2a2a2a"/>
<rect x="380.7" y="529.83" width="1.35" height="1.35" fill="#2a2a2a"/>
<rect x="383.15" y="529.83" width="1.35" height="1.35" fill="#2a2a2a"/>
<rect x="385.6" y="529.83" width="1.35" height="1.35" fill="#2a2a2a"/>
<line x1="381.2" y1="540.1" x2="406.4" y2="540.1" stroke="#4a4a4a" stroke-width="1.25"/>
<rect x="389.45" y="536.53" width="1.35" height="1.35" fill="#2a2a2a"/>
<rect x="391.9" y="536.53" width="1.35" height="1.35" fill="#2a2a2a"/>
<rect x="394.35" y="536.53" width="1.35" height="1.35" fill="#2a2a2a"/>
<rect x="396.8" y="536.53" width="1.35" height="1.35" fill="#2a2a2a"/>
<line x1="371.9" y1="547.6" x2="380.3" y2="547.6" stroke="#4a4a4a" stroke-width="1.25"/>
<rect x="374.2" y="544.03" width="1.35" height="1.35" fill="#2a2a2a"/>
<rect x="376.65" y="544.03" width="1.35" height="1.35" fill="#2a2a2a"/>
<line x1="396.1" y1="564.3" x2="405.5" y2="564.3" stroke="#4a4a4a" stroke-width="1.25"/>
<rect x="396.45" y="560.73" width="1.35" height="1.35" fill="#2a2a2a"/>
<rect x="398.9" y="560.73" width="1.35" height="1.35" fill="#2a2a2a"/>
<rect x="401.35" y="560.73" width="1.35" height="1.35" fill="#2a2a2a"/>
<rect x="403.8" y="560.73" width="1.35" height="1.35" fill="#2a2a2a"/>
<line x1="464.1" y1="534.3" x2="464.1" y2="610.15" stroke="#1a1a1a" stroke-width="1.5"/>
<line x1="461.1" y1="609.4" x2="464.1" y2="609.4" stroke="#1a1a1a" stroke-width="1"/>
<text x="457.9" y="611.85" font-size="6.8" text-anchor="end">0</text>
<line x1="461.1" y1="594.88" x2="464.1" y2="594.88" stroke="#1a1a1a" stroke-width="1"/>
<text x="457.9" y="597.33" font-size="6.8" text-anchor="end">20</text>
<line x1="461.1" y1="580.36" x2="464.1" y2="580.36" stroke="#1a1a1a" stroke-width="1"/>
<text x="457.9" y="582.81" font-size="6.8" text-anchor="end">40</text>
<line x1="461.1" y1="565.84" x2="464.1" y2="565.84" stroke="#1a1a1a" stroke-width="1"/>
<text x="457.9" y="568.29" font-size="6.8" text-anchor="end">60</text>
<line x1="461.1" y1="551.32" x2="464.1" y2="551.32" stroke="#1a1a1a" stroke-width="1"/>
<text x="457.9" y="553.77" font-size="6.8" text-anchor="end">80</text>
<line x1="461.1" y1="536.8" x2="464.1" y2="536.8" stroke="#1a1a1a" stroke-width="1"/>
<text x="457.9" y="539.25" font-size="6.8" text-anchor="end">100</text>
<line x1="464.1" y1="609.4" x2="512.6" y2="609.4" stroke="#1a1a1a" stroke-width="1.3"/>
<line x1="476.2" y1="609.4" x2="476.2" y2="612.4" stroke="#1a1a1a" stroke-width="1"/>
<line x1="500.5" y1="609.4" x2="500.5" y2="612.4" stroke="#1a1a1a" stroke-width="1"/>
<text x="476.2" y="621.6" font-size="6.8" text-anchor="middle">1<tspan font-size="4.5" dy="-2.6">o</tspan><tspan dy="2.6"> -</tspan></text>
<text x="476.2" y="630.9" font-size="6.8" text-anchor="middle">Day 21</text>
<text x="500.5" y="621.6" font-size="6.8" text-anchor="middle">2<tspan font-size="4.5" dy="-2.6">o</tspan><tspan dy="2.6"> -</tspan></text>
<text x="500.5" y="630.9" font-size="6.8" text-anchor="middle">Day 5</text>
<circle cx="470.6" cy="576" r="2.3" stroke="#b1133b" stroke-width="1" fill="none"/>
<circle cx="468.2" cy="582.54" r="2.3" stroke="#b1133b" stroke-width="1" fill="none"/>
<circle cx="473.8" cy="582.54" r="2.3" stroke="#b1133b" stroke-width="1" fill="none"/>
<circle cx="469.7" cy="586.17" r="2.3" stroke="#b1133b" stroke-width="1" fill="none"/>
<line x1="466.45" y1="582.54" x2="475.95" y2="582.54" stroke="#1a1a1a" stroke-width="1.2"/>
<line x1="471.2" y1="584.72" x2="471.2" y2="580.36" stroke="#1a1a1a" stroke-width="1.1"/>
<line x1="469" y1="584.72" x2="473.4" y2="584.72" stroke="#1a1a1a" stroke-width="1.1"/>
<line x1="469" y1="580.36" x2="473.4" y2="580.36" stroke="#1a1a1a" stroke-width="1.1"/>
<circle cx="479.4" cy="586.89" r="2.3" stroke="#2f5596" stroke-width="1" fill="none"/>
<circle cx="483.7" cy="586.89" r="2.3" stroke="#2f5596" stroke-width="1" fill="none"/>
<circle cx="480" cy="592.7" r="2.3" stroke="#2f5596" stroke-width="1" fill="none"/>
<circle cx="483.7" cy="592.34" r="2.3" stroke="#2f5596" stroke-width="1" fill="none"/>
<line x1="476.6" y1="589.8" x2="486.6" y2="589.8" stroke="#1a1a1a" stroke-width="1.2"/>
<circle cx="490.6" cy="549.14" r="2.3" stroke="#b1133b" stroke-width="1" fill="none"/>
<circle cx="497.3" cy="549.14" r="2.3" stroke="#b1133b" stroke-width="1" fill="none"/>
<circle cx="494.9" cy="554.22" r="2.3" stroke="#b1133b" stroke-width="1" fill="none"/>
<circle cx="493" cy="551.32" r="2.3" stroke="#b1133b" stroke-width="1" fill="none"/>
<line x1="488.8" y1="551.32" x2="499.8" y2="551.32" stroke="#1a1a1a" stroke-width="1.2"/>
<circle cx="504.2" cy="570.2" r="2.3" stroke="#2f5596" stroke-width="1" fill="none"/>
<circle cx="507.9" cy="570.2" r="2.3" stroke="#2f5596" stroke-width="1" fill="none"/>
<circle cx="504.2" cy="574.91" r="2.3" stroke="#2f5596" stroke-width="1" fill="none"/>
<circle cx="507.9" cy="574.91" r="2.3" stroke="#2f5596" stroke-width="1" fill="none"/>
<line x1="501" y1="572.66" x2="511" y2="572.66" stroke="#1a1a1a" stroke-width="1.2"/>
<line x1="469.7" y1="529.7" x2="494.9" y2="529.7" stroke="#4a4a4a" stroke-width="1.25"/>
<rect x="477.95" y="526.13" width="1.35" height="1.35" fill="#2a2a2a"/>
<rect x="480.4" y="526.13" width="1.35" height="1.35" fill="#2a2a2a"/>
<rect x="482.85" y="526.13" width="1.35" height="1.35" fill="#2a2a2a"/>
<rect x="485.3" y="526.13" width="1.35" height="1.35" fill="#2a2a2a"/>
<line x1="480.9" y1="536.8" x2="506.1" y2="536.8" stroke="#4a4a4a" stroke-width="1.25"/>
<rect x="489.15" y="533.23" width="1.35" height="1.35" fill="#2a2a2a"/>
<rect x="491.6" y="533.23" width="1.35" height="1.35" fill="#2a2a2a"/>
<rect x="494.05" y="533.23" width="1.35" height="1.35" fill="#2a2a2a"/>
<rect x="496.5" y="533.23" width="1.35" height="1.35" fill="#2a2a2a"/>
<line x1="495.4" y1="544.8" x2="505.5" y2="544.8" stroke="#4a4a4a" stroke-width="1.25"/>
<rect x="496.1" y="541.23" width="1.35" height="1.35" fill="#2a2a2a"/>
<rect x="498.55" y="541.23" width="1.35" height="1.35" fill="#2a2a2a"/>
<rect x="501" y="541.23" width="1.35" height="1.35" fill="#2a2a2a"/>
<rect x="503.45" y="541.23" width="1.35" height="1.35" fill="#2a2a2a"/>
<line x1="471.2" y1="570.3" x2="480.5" y2="570.3" stroke="#4a4a4a" stroke-width="1.25"/>
<rect x="473.95" y="566.73" width="1.35" height="1.35" fill="#2a2a2a"/>
<rect x="476.4" y="566.73" width="1.35" height="1.35" fill="#2a2a2a"/>
<text x="342.2" y="600.4" font-size="9" textLength="58.5" lengthAdjust="spacingAndGlyphs" transform="rotate(-90 342.2 600.4)" stroke="#1a1a1a" stroke-width="0.22">% CD44<tspan font-size="6" dy="-2.6">+</tspan><tspan dy="2.6"> CD62L</tspan><tspan font-size="6" dy="-2.6">+</tspan></text>
<text x="440.9" y="598.8" font-size="9" textLength="53.5" lengthAdjust="spacingAndGlyphs" transform="rotate(-90 440.9 598.8)" stroke="#1a1a1a" stroke-width="0.22">% CD44<tspan font-size="6" dy="-2.6">+</tspan><tspan dy="2.6"> CD62L</tspan><tspan font-size="6" dy="-2.6">-</tspan></text>
<circle cx="373.2" cy="637.8" r="2.3" stroke="#b1133b" stroke-width="1" fill="none"/>
<text x="378.4" y="640.03" font-size="6.2" textLength="28" lengthAdjust="spacingAndGlyphs">WT CAR-T</text>
<circle cx="373.2" cy="647.6" r="2.3" stroke="#2f5596" stroke-width="1" fill="none"/>
<text x="378.4" y="649.83" font-size="6.2" textLength="28" lengthAdjust="spacingAndGlyphs">KO CAR-T</text>
<text x="7.9" y="526.3" font-size="12" font-weight="bold">F</text>
<rect x="18.2" y="532.7" width="45.4" height="33.6" fill="#fff"/>
<path d="M18.2 543.9 L18.6 543.9 L19 543.9 L19.4 543.9 L19.8 543.9 L20.2 543.9 L20.6 543.9 L21 543.9 L21.4 543.9 L21.8 543.9 L22.2 543.9 L22.6 543.89 L23 543.86 L23.4 543.79 L23.8 543.65 L24.2 543.37 L24.6 542.84 L25 541.99 L25.4 540.74 L25.8 539.1 L26.2 537.23 L26.6 535.41 L27 534 L27.4 533.33 L27.8 533.56 L28.2 534.63 L28.6 536.29 L29 538.18 L29.4 539.96 L29.8 541.42 L30.2 542.47 L30.6 543.14 L31 543.53 L31.4 543.74 L31.8 543.83 L32.2 543.88 L32.6 543.89 L33 543.9 L33.4 543.9 L33.8 543.9 L34.2 543.9 L34.6 543.9 L35 543.9 L35.4 543.9 L35.8 543.9 L36.2 543.9 L36.6 543.9 L37 543.9 L37.4 543.9 L37.8 543.9 L38.2 543.9 L38.6 543.9 L39 543.9 L39.4 543.9 L39.8 543.9 L40.2 543.9 L40.6 543.9 L41 543.9 L41.4 543.9 L41.8 543.9 L42.2 543.9 L42.6 543.9 L43 543.9 L43.4 543.9 L43.8 543.9 L44.2 543.9 L44.6 543.9 L45 543.9 L45.4 543.9 L45.8 543.9 L46.2 543.9 L46.6 543.9 L47 543.9 L47.4 543.9 L47.8 543.9 L48.2 543.9 L48.6 543.9 L49 543.9 L49.4 543.9 L49.8 543.9 L50.2 543.9 L50.6 543.9 L51 543.9 L51.4 543.9 L51.8 543.9 L52.2 543.9 L52.6 543.9 L53 543.9 L53.4 543.9 L53.8 543.9 L54.2 543.9 L54.6 543.9 L55 543.9 L55.4 543.9 L55.8 543.9 L56.2 543.9 L56.6 543.9 L57 543.9 L57.4 543.9 L57.8 543.9 L58.2 543.9 L58.6 543.9 L59 543.9 L59.4 543.9 L59.8 543.9 L60.2 543.9 L60.6 543.9 L61 543.9 L61.4 543.9 L61.8 543.9 L62.2 543.9 L62.6 543.9 L63 543.9 L63.4 543.9 L63.6 543.9 L18.2 543.9 Z" stroke="none" stroke-width="1" fill="#d6d9e2"/>
<path d="M18.2 543.9 L18.6 543.9 L19 543.9 L19.4 543.9 L19.8 543.9 L20.2 543.9 L20.6 543.9 L21 543.9 L21.4 543.9 L21.8 543.9 L22.2 543.9 L22.6 543.89 L23 543.86 L23.4 543.79 L23.8 543.65 L24.2 543.37 L24.6 542.84 L25 541.99 L25.4 540.74 L25.8 539.1 L26.2 537.23 L26.6 535.41 L27 534 L27.4 533.33 L27.8 533.56 L28.2 534.63 L28.6 536.29 L29 538.18 L29.4 539.96 L29.8 541.42 L30.2 542.47 L30.6 543.14 L31 543.53 L31.4 543.74 L31.8 543.83 L32.2 543.88 L32.6 543.89 L33 543.9 L33.4 543.9 L33.8 543.9 L34.2 543.9 L34.6 543.9 L35 543.9 L35.4 543.9 L35.8 543.9 L36.2 543.9 L36.6 543.9 L37 543.9 L37.4 543.9 L37.8 543.9 L38.2 543.9 L38.6 543.9 L39 543.9 L39.4 543.9 L39.8 543.9 L40.2 543.9 L40.6 543.9 L41 543.9 L41.4 543.9 L41.8 543.9 L42.2 543.9 L42.6 543.9 L43 543.9 L43.4 543.9 L43.8 543.9 L44.2 543.9 L44.6 543.9 L45 543.9 L45.4 543.9 L45.8 543.9 L46.2 543.9 L46.6 543.9 L47 543.9 L47.4 543.9 L47.8 543.9 L48.2 543.9 L48.6 543.9 L49 543.9 L49.4 543.9 L49.8 543.9 L50.2 543.9 L50.6 543.9 L51 543.9 L51.4 543.9 L51.8 543.9 L52.2 543.9 L52.6 543.9 L53 543.9 L53.4 543.9 L53.8 543.9 L54.2 543.9 L54.6 543.9 L55 543.9 L55.4 543.9 L55.8 543.9 L56.2 543.9 L56.6 543.9 L57 543.9 L57.4 543.9 L57.8 543.9 L58.2 543.9 L58.6 543.9 L59 543.9 L59.4 543.9 L59.8 543.9 L60.2 543.9 L60.6 543.9 L61 543.9 L61.4 543.9 L61.8 543.9 L62.2 543.9 L62.6 543.9 L63 543.9 L63.4 543.9" stroke="#8d94a6" stroke-width="1.1" fill="none"/>
<path d="M18.2 555.2 L18.6 555.2 L19 555.2 L19.4 555.2 L19.8 555.2 L20.2 555.2 L20.6 555.2 L21 555.2 L21.4 555.2 L21.8 555.2 L22.2 555.2 L22.6 555.2 L23 555.2 L23.4 555.2 L23.8 555.19 L24.2 555.19 L24.6 555.17 L25 555.14 L25.4 555.09 L25.8 554.99 L26.2 554.85 L26.6 554.64 L27 554.36 L27.4 554.01 L27.8 553.62 L28.2 553.24 L28.6 552.91 L29 552.68 L29.4 552.6 L29.8 552.68 L30.2 552.9 L30.6 553.22 L31 553.6 L31.4 553.96 L31.8 554.26 L32.2 554.47 L32.6 554.57 L33 554.55 L33.4 554.39 L33.8 554.09 L34.2 553.65 L34.6 553.06 L35 552.33 L35.4 551.49 L35.8 550.56 L36.2 549.59 L36.6 548.65 L37 547.78 L37.4 547.05 L37.8 546.5 L38.2 546.15 L38.6 546 L39 546.05 L39.4 546.27 L39.8 546.62 L40.2 547.1 L40.6 547.65 L41 548.28 L41.4 548.95 L41.8 549.65 L42.2 550.36 L42.6 551.06 L43 551.74 L43.4 552.37 L43.8 552.94 L44.2 553.44 L44.6 553.86 L45 554.21 L45.4 554.49 L45.8 554.7 L46.2 554.86 L46.6 554.97 L47 555.05 L47.4 555.11 L47.8 555.14 L48.2 555.17 L48.6 555.18 L49 555.19 L49.4 555.19 L49.8 555.2 L50.2 555.2 L50.6 555.2 L51 555.2 L51.4 555.2 L51.8 555.2 L52.2 555.2 L52.6 555.2 L53 555.2 L53.4 555.2 L53.8 555.2 L54.2 555.2 L54.6 555.2 L55 555.2 L55.4 555.2 L55.8 555.2 L56.2 555.2 L56.6 555.2 L57 555.2 L57.4 555.2 L57.8 555.2 L58.2 555.2 L58.6 555.2 L59 555.2 L59.4 555.2 L59.8 555.2 L60.2 555.2 L60.6 555.2 L61 555.2 L61.4 555.2 L61.8 555.2 L62.2 555.2 L62.6 555.2 L63 555.2 L63.4 555.2 L63.6 555.2 L18.2 555.2 Z" stroke="none" stroke-width="1" fill="#f2d3d7"/>
<path d="M18.2 555.2 L18.6 555.2 L19 555.2 L19.4 555.2 L19.8 555.2 L20.2 555.2 L20.6 555.2 L21 555.2 L21.4 555.2 L21.8 555.2 L22.2 555.2 L22.6 555.2 L23 555.2 L23.4 555.2 L23.8 555.19 L24.2 555.19 L24.6 555.17 L25 555.14 L25.4 555.09 L25.8 554.99 L26.2 554.85 L26.6 554.64 L27 554.36 L27.4 554.01 L27.8 553.62 L28.2 553.24 L28.6 552.91 L29 552.68 L29.4 552.6 L29.8 552.68 L30.2 552.9 L30.6 553.22 L31 553.6 L31.4 553.96 L31.8 554.26 L32.2 554.47 L32.6 554.57 L33 554.55 L33.4 554.39 L33.8 554.09 L34.2 553.65 L34.6 553.06 L35 552.33 L35.4 551.49 L35.8 550.56 L36.2 549.59 L36.6 548.65 L37 547.78 L37.4 547.05 L37.8 546.5 L38.2 546.15 L38.6 546 L39 546.05 L39.4 546.27 L39.8 546.62 L40.2 547.1 L40.6 547.65 L41 548.28 L41.4 548.95 L41.8 549.65 L42.2 550.36 L42.6 551.06 L43 551.74 L43.4 552.37 L43.8 552.94 L44.2 553.44 L44.6 553.86 L45 554.21 L45.4 554.49 L45.8 554.7 L46.2 554.86 L46.6 554.97 L47 555.05 L47.4 555.11 L47.8 555.14 L48.2 555.17 L48.6 555.18 L49 555.19 L49.4 555.19 L49.8 555.2 L50.2 555.2 L50.6 555.2 L51 555.2 L51.4 555.2 L51.8 555.2 L52.2 555.2 L52.6 555.2 L53 555.2 L53.4 555.2 L53.8 555.2 L54.2 555.2 L54.6 555.2 L55 555.2 L55.4 555.2 L55.8 555.2 L56.2 555.2 L56.6 555.2 L57 555.2 L57.4 555.2 L57.8 555.2 L58.2 555.2 L58.6 555.2 L59 555.2 L59.4 555.2 L59.8 555.2 L60.2 555.2 L60.6 555.2 L61 555.2 L61.4 555.2 L61.8 555.2 L62.2 555.2 L62.6 555.2 L63 555.2 L63.4 555.2" stroke="#c3234b" stroke-width="1.1" fill="none"/>
<path d="M18.2 566 L18.6 566 L19 566 L19.4 566 L19.8 566 L20.2 566 L20.6 566 L21 566 L21.4 566 L21.8 566 L22.2 566 L22.6 566 L23 566 L23.4 566 L23.8 566 L24.2 566 L24.6 566 L25 566 L25.4 566 L25.8 566 L26.2 566 L26.6 566 L27 566 L27.4 566 L27.8 566 L28.2 566 L28.6 566 L29 566 L29.4 566 L29.8 566 L30.2 565.99 L30.6 565.99 L31 565.97 L31.4 565.95 L31.8 565.91 L32.2 565.83 L32.6 565.71 L33 565.52 L33.4 565.22 L33.8 564.78 L34.2 564.18 L34.6 563.37 L35 562.35 L35.4 561.15 L35.8 559.82 L36.2 558.43 L36.6 557.11 L37 555.98 L37.4 555.15 L37.8 554.7 L38.2 554.67 L38.6 555.04 L39 555.73 L39.4 556.66 L39.8 557.71 L40.2 558.78 L40.6 559.79 L41 560.68 L41.4 561.43 L41.8 562.06 L42.2 562.57 L42.6 563 L43 563.37 L43.4 563.7 L43.8 563.99 L44.2 564.27 L44.6 564.52 L45 564.76 L45.4 564.97 L45.8 565.16 L46.2 565.33 L46.6 565.47 L47 565.59 L47.4 565.69 L47.8 565.77 L48.2 565.83 L48.6 565.88 L49 565.91 L49.4 565.94 L49.8 565.96 L50.2 565.97 L50.6 565.98 L51 565.99 L51.4 565.99 L51.8 566 L52.2 566 L52.6 566 L53 566 L53.4 566 L53.8 566 L54.2 566 L54.6 566 L55 566 L55.4 566 L55.8 566 L56.2 566 L56.6 566 L57 566 L57.4 566 L57.8 566 L58.2 566 L58.6 566 L59 566 L59.4 566 L59.8 566 L60.2 566 L60.6 566 L61 566 L61.4 566 L61.8 566 L62.2 566 L62.6 566 L63 566 L63.4 566 L63.6 566 L18.2 566 Z" stroke="none" stroke-width="1" fill="#d0d6e7"/>
<path d="M18.2 566 L18.6 566 L19 566 L19.4 566 L19.8 566 L20.2 566 L20.6 566 L21 566 L21.4 566 L21.8 566 L22.2 566 L22.6 566 L23 566 L23.4 566 L23.8 566 L24.2 566 L24.6 566 L25 566 L25.4 566 L25.8 566 L26.2 566 L26.6 566 L27 566 L27.4 566 L27.8 566 L28.2 566 L28.6 566 L29 566 L29.4 566 L29.8 566 L30.2 565.99 L30.6 565.99 L31 565.97 L31.4 565.95 L31.8 565.91 L32.2 565.83 L32.6 565.71 L33 565.52 L33.4 565.22 L33.8 564.78 L34.2 564.18 L34.6 563.37 L35 562.35 L35.4 561.15 L35.8 559.82 L36.2 558.43 L36.6 557.11 L37 555.98 L37.4 555.15 L37.8 554.7 L38.2 554.67 L38.6 555.04 L39 555.73 L39.4 556.66 L39.8 557.71 L40.2 558.78 L40.6 559.79 L41 560.68 L41.4 561.43 L41.8 562.06 L42.2 562.57 L42.6 563 L43 563.37 L43.4 563.7 L43.8 563.99 L44.2 564.27 L44.6 564.52 L45 564.76 L45.4 564.97 L45.8 565.16 L46.2 565.33 L46.6 565.47 L47 565.59 L47.4 565.69 L47.8 565.77 L48.2 565.83 L48.6 565.88 L49 565.91 L49.4 565.94 L49.8 565.96 L50.2 565.97 L50.6 565.98 L51 565.99 L51.4 565.99 L51.8 566 L52.2 566 L52.6 566 L53 566 L53.4 566 L53.8 566 L54.2 566 L54.6 566 L55 566 L55.4 566 L55.8 566 L56.2 566 L56.6 566 L57 566 L57.4 566 L57.8 566 L58.2 566 L58.6 566 L59 566 L59.4 566 L59.8 566 L60.2 566 L60.6 566 L61 566 L61.4 566 L61.8 566 L62.2 566 L62.6 566 L63 566 L63.4 566" stroke="#3c5b9a" stroke-width="1.1" fill="none"/>
<line x1="18.2" y1="543.9" x2="63.6" y2="543.9" stroke="#8d94a6" stroke-width="1.4"/>
<line x1="18.2" y1="555.2" x2="63.6" y2="555.2" stroke="#c3234b" stroke-width="1.2"/>
<line x1="33.1" y1="532.7" x2="33.1" y2="566.3" stroke="#333" stroke-width="1.2"/>
<text x="61" y="538.4" font-size="5.4" text-anchor="end" fill="#8d94a6">0.7</text>
<text x="61" y="550" font-size="5.4" text-anchor="end" fill="#c3234b">82.6</text>
<text x="61" y="561.5" font-size="5.4" text-anchor="end" fill="#3c5b9a">99.0</text>
<rect x="63.6" y="532.7" width="45.6" height="33.6" fill="#fff"/>
<path d="M63.6 543.9 L64 543.9 L64.4 543.9 L64.8 543.9 L65.2 543.9 L65.6 543.9 L66 543.9 L66.4 543.9 L66.8 543.9 L67.2 543.9 L67.6 543.9 L68 543.9 L68.4 543.9 L68.8 543.9 L69.2 543.9 L69.6 543.9 L70 543.9 L70.4 543.9 L70.8 543.89 L71.2 543.86 L71.6 543.74 L72 543.44 L72.4 542.75 L72.8 541.45 L73.2 539.43 L73.6 536.96 L74 534.72 L74.4 533.55 L74.8 533.96 L75.2 535.76 L75.6 538.22 L76 540.52 L76.4 542.19 L76.8 543.16 L77.2 543.63 L77.6 543.81 L78 543.88 L78.4 543.89 L78.8 543.9 L79.2 543.9 L79.6 543.9 L80 543.9 L80.4 543.9 L80.8 543.9 L81.2 543.9 L81.6 543.9 L82 543.9 L82.4 543.9 L82.8 543.9 L83.2 543.9 L83.6 543.9 L84 543.9 L84.4 543.9 L84.8 543.9 L85.2 543.9 L85.6 543.9 L86 543.9 L86.4 543.9 L86.8 543.9 L87.2 543.9 L87.6 543.9 L88 543.9 L88.4 543.9 L88.8 543.9 L89.2 543.9 L89.6 543.9 L90 543.9 L90.4 543.9 L90.8 543.9 L91.2 543.9 L91.6 543.9 L92 543.9 L92.4 543.9 L92.8 543.9 L93.2 543.9 L93.6 543.9 L94 543.9 L94.4 543.9 L94.8 543.9 L95.2 543.9 L95.6 543.9 L96 543.9 L96.4 543.9 L96.8 543.9 L97.2 543.9 L97.6 543.9 L98 543.9 L98.4 543.9 L98.8 543.9 L99.2 543.9 L99.6 543.9 L100 543.9 L100.4 543.9 L100.8 543.9 L101.2 543.9 L101.6 543.9 L102 543.9 L102.4 543.9 L102.8 543.9 L103.2 543.9 L103.6 543.9 L104 543.9 L104.4 543.9 L104.8 543.9 L105.2 543.9 L105.6 543.9 L106 543.9 L106.4 543.9 L106.8 543.9 L107.2 543.9 L107.6 543.9 L108 543.9 L108.4 543.9 L108.8 543.9 L109.2 543.9 L109.2 543.9 L63.6 543.9 Z" stroke="none" stroke-width="1" fill="#d6d9e2"/>
<path d="M63.6 543.9 L64 543.9 L64.4 543.9 L64.8 543.9 L65.2 543.9 L65.6 543.9 L66 543.9 L66.4 543.9 L66.8 543.9 L67.2 543.9 L67.6 543.9 L68 543.9 L68.4 543.9 L68.8 543.9 L69.2 543.9 L69.6 543.9 L70 543.9 L70.4 543.9 L70.8 543.89 L71.2 543.86 L71.6 543.74 L72 543.44 L72.4 542.75 L72.8 541.45 L73.2 539.43 L73.6 536.96 L74 534.72 L74.4 533.55 L74.8 533.96 L75.2 535.76 L75.6 538.22 L76 540.52 L76.4 542.19 L76.8 543.16 L77.2 543.63 L77.6 543.81 L78 543.88 L78.4 543.89 L78.8 543.9 L79.2 543.9 L79.6 543.9 L80 543.9 L80.4 543.9 L80.8 543.9 L81.2 543.9 L81.6 543.9 L82 543.9 L82.4 543.9 L82.8 543.9 L83.2 543.9 L83.6 543.9 L84 543.9 L84.4 543.9 L84.8 543.9 L85.2 543.9 L85.6 543.9 L86 543.9 L86.4 543.9 L86.8 543.9 L87.2 543.9 L87.6 543.9 L88 543.9 L88.4 543.9 L88.8 543.9 L89.2 543.9 L89.6 543.9 L90 543.9 L90.4 543.9 L90.8 543.9 L91.2 543.9 L91.6 543.9 L92 543.9 L92.4 543.9 L92.8 543.9 L93.2 543.9 L93.6 543.9 L94 543.9 L94.4 543.9 L94.8 543.9 L95.2 543.9 L95.6 543.9 L96 543.9 L96.4 543.9 L96.8 543.9 L97.2 543.9 L97.6 543.9 L98 543.9 L98.4 543.9 L98.8 543.9 L99.2 543.9 L99.6 543.9 L100 543.9 L100.4 543.9 L100.8 543.9 L101.2 543.9 L101.6 543.9 L102 543.9 L102.4 543.9 L102.8 543.9 L103.2 543.9 L103.6 543.9 L104 543.9 L104.4 543.9 L104.8 543.9 L105.2 543.9 L105.6 543.9 L106 543.9 L106.4 543.9 L106.8 543.9 L107.2 543.9 L107.6 543.9 L108 543.9 L108.4 543.9 L108.8 543.9 L109.2 543.9" stroke="#8d94a6" stroke-width="1.1" fill="none"/>
<path d="M63.6 555.2 L64 555.2 L64.4 555.2 L64.8 555.2 L65.2 555.2 L65.6 555.2 L66 555.2 L66.4 555.2 L66.8 555.2 L67.2 555.2 L67.6 555.2 L68 555.19 L68.4 555.18 L68.8 555.15 L69.2 555.09 L69.6 554.98 L70 554.78 L70.4 554.44 L70.8 553.91 L71.2 553.15 L71.6 552.12 L72 550.85 L72.4 549.44 L72.8 548.03 L73.2 546.82 L73.6 545.99 L74 545.7 L74.4 545.99 L74.8 546.82 L75.2 548.03 L75.6 549.44 L76 550.85 L76.4 552.12 L76.8 553.15 L77.2 553.91 L77.6 554.44 L78 554.78 L78.4 554.98 L78.8 555.09 L79.2 555.15 L79.6 555.18 L80 555.19 L80.4 555.2 L80.8 555.2 L81.2 555.2 L81.6 555.2 L82 555.2 L82.4 555.2 L82.8 555.2 L83.2 555.2 L83.6 555.2 L84 555.2 L84.4 555.2 L84.8 555.2 L85.2 555.2 L85.6 555.2 L86 555.2 L86.4 555.2 L86.8 555.2 L87.2 555.2 L87.6 555.2 L88 555.2 L88.4 555.2 L88.8 555.2 L89.2 555.2 L89.6 555.2 L90 555.2 L90.4 555.2 L90.8 555.2 L91.2 555.2 L91.6 555.2 L92 555.2 L92.4 555.2 L92.8 555.2 L93.2 555.2 L93.6 555.2 L94 555.2 L94.4 555.2 L94.8 555.2 L95.2 555.2 L95.6 555.2 L96 555.2 L96.4 555.2 L96.8 555.2 L97.2 555.2 L97.6 555.2 L98 555.2 L98.4 555.2 L98.8 555.2 L99.2 555.2 L99.6 555.2 L100 555.2 L100.4 555.2 L100.8 555.2 L101.2 555.2 L101.6 555.2 L102 555.2 L102.4 555.2 L102.8 555.2 L103.2 555.2 L103.6 555.2 L104 555.2 L104.4 555.2 L104.8 555.2 L105.2 555.2 L105.6 555.2 L106 555.2 L106.4 555.2 L106.8 555.2 L107.2 555.2 L107.6 555.2 L108 555.2 L108.4 555.2 L108.8 555.2 L109.2 555.2 L109.2 555.2 L63.6 555.2 Z" stroke="none" stroke-width="1" fill="#f2d3d7"/>
<path d="M63.6 555.2 L64 555.2 L64.4 555.2 L64.8 555.2 L65.2 555.2 L65.6 555.2 L66 555.2 L66.4 555.2 L66.8 555.2 L67.2 555.2 L67.6 555.2 L68 555.19 L68.4 555.18 L68.8 555.15 L69.2 555.09 L69.6 554.98 L70 554.78 L70.4 554.44 L70.8 553.91 L71.2 553.15 L71.6 552.12 L72 550.85 L72.4 549.44 L72.8 548.03 L73.2 546.82 L73.6 545.99 L74 545.7 L74.4 545.99 L74.8 546.82 L75.2 548.03 L75.6 549.44 L76 550.85 L76.4 552.12 L76.8 553.15 L77.2 553.91 L77.6 554.44 L78 554.78 L78.4 554.98 L78.8 555.09 L79.2 555.15 L79.6 555.18 L80 555.19 L80.4 555.2 L80.8 555.2 L81.2 555.2 L81.6 555.2 L82 555.2 L82.4 555.2 L82.8 555.2 L83.2 555.2 L83.6 555.2 L84 555.2 L84.4 555.2 L84.8 555.2 L85.2 555.2 L85.6 555.2 L86 555.2 L86.4 555.2 L86.8 555.2 L87.2 555.2 L87.6 555.2 L88 555.2 L88.4 555.2 L88.8 555.2 L89.2 555.2 L89.6 555.2 L90 555.2 L90.4 555.2 L90.8 555.2 L91.2 555.2 L91.6 555.2 L92 555.2 L92.4 555.2 L92.8 555.2 L93.2 555.2 L93.6 555.2 L94 555.2 L94.4 555.2 L94.8 555.2 L95.2 555.2 L95.6 555.2 L96 555.2 L96.4 555.2 L96.8 555.2 L97.2 555.2 L97.6 555.2 L98 555.2 L98.4 555.2 L98.8 555.2 L99.2 555.2 L99.6 555.2 L100 555.2 L100.4 555.2 L100.8 555.2 L101.2 555.2 L101.6 555.2 L102 555.2 L102.4 555.2 L102.8 555.2 L103.2 555.2 L103.6 555.2 L104 555.2 L104.4 555.2 L104.8 555.2 L105.2 555.2 L105.6 555.2 L106 555.2 L106.4 555.2 L106.8 555.2 L107.2 555.2 L107.6 555.2 L108 555.2 L108.4 555.2 L108.8 555.2 L109.2 555.2" stroke="#c3234b" stroke-width="1.1" fill="none"/>
<path d="M63.6 566 L64 566 L64.4 566 L64.8 565.99 L65.2 565.99 L65.6 565.99 L66 565.99 L66.4 565.98 L66.8 565.98 L67.2 565.97 L67.6 565.97 L68 565.96 L68.4 565.95 L68.8 565.93 L69.2 565.91 L69.6 565.89 L70 565.85 L70.4 565.78 L70.8 565.65 L71.2 565.42 L71.6 565.01 L72 564.35 L72.4 563.35 L72.8 561.99 L73.2 560.33 L73.6 558.54 L74 556.89 L74.4 555.71 L74.8 555.22 L75.2 555.53 L75.6 556.54 L76 558 L76.4 559.62 L76.8 561.11 L77.2 562.31 L77.6 563.15 L78 563.67 L78.4 563.94 L78.8 564.04 L79.2 564.05 L79.6 564.01 L80 563.96 L80.4 563.91 L80.8 563.86 L81.2 563.83 L81.6 563.81 L82 563.8 L82.4 563.81 L82.8 563.83 L83.2 563.86 L83.6 563.91 L84 563.97 L84.4 564.04 L84.8 564.12 L85.2 564.21 L85.6 564.3 L86 564.4 L86.4 564.51 L86.8 564.61 L87.2 564.72 L87.6 564.83 L88 564.93 L88.4 565.03 L88.8 565.13 L89.2 565.22 L89.6 565.31 L90 565.39 L90.4 565.46 L90.8 565.53 L91.2 565.6 L91.6 565.65 L92 565.7 L92.4 565.75 L92.8 565.79 L93.2 565.82 L93.6 565.85 L94 565.88 L94.4 565.9 L94.8 565.92 L95.2 565.93 L95.6 565.95 L96 565.96 L96.4 565.97 L96.8 565.97 L97.2 565.98 L97.6 565.98 L98 565.99 L98.4 565.99 L98.8 565.99 L99.2 565.99 L99.6 566 L100 566 L100.4 566 L100.8 566 L101.2 566 L101.6 566 L102 566 L102.4 566 L102.8 566 L103.2 566 L103.6 566 L104 566 L104.4 566 L104.8 566 L105.2 566 L105.6 566 L106 566 L106.4 566 L106.8 566 L107.2 566 L107.6 566 L108 566 L108.4 566 L108.8 566 L109.2 566 L109.2 566 L63.6 566 Z" stroke="none" stroke-width="1" fill="#d0d6e7"/>
<path d="M63.6 566 L64 566 L64.4 566 L64.8 565.99 L65.2 565.99 L65.6 565.99 L66 565.99 L66.4 565.98 L66.8 565.98 L67.2 565.97 L67.6 565.97 L68 565.96 L68.4 565.95 L68.8 565.93 L69.2 565.91 L69.6 565.89 L70 565.85 L70.4 565.78 L70.8 565.65 L71.2 565.42 L71.6 565.01 L72 564.35 L72.4 563.35 L72.8 561.99 L73.2 560.33 L73.6 558.54 L74 556.89 L74.4 555.71 L74.8 555.22 L75.2 555.53 L75.6 556.54 L76 558 L76.4 559.62 L76.8 561.11 L77.2 562.31 L77.6 563.15 L78 563.67 L78.4 563.94 L78.8 564.04 L79.2 564.05 L79.6 564.01 L80 563.96 L80.4 563.91 L80.8 563.86 L81.2 563.83 L81.6 563.81 L82 563.8 L82.4 563.81 L82.8 563.83 L83.2 563.86 L83.6 563.91 L84 563.97 L84.4 564.04 L84.8 564.12 L85.2 564.21 L85.6 564.3 L86 564.4 L86.4 564.51 L86.8 564.61 L87.2 564.72 L87.6 564.83 L88 564.93 L88.4 565.03 L88.8 565.13 L89.2 565.22 L89.6 565.31 L90 565.39 L90.4 565.46 L90.8 565.53 L91.2 565.6 L91.6 565.65 L92 565.7 L92.4 565.75 L92.8 565.79 L93.2 565.82 L93.6 565.85 L94 565.88 L94.4 565.9 L94.8 565.92 L95.2 565.93 L95.6 565.95 L96 565.96 L96.4 565.97 L96.8 565.97 L97.2 565.98 L97.6 565.98 L98 565.99 L98.4 565.99 L98.8 565.99 L99.2 565.99 L99.6 566 L100 566 L100.4 566 L100.8 566 L101.2 566 L101.6 566 L102 566 L102.4 566 L102.8 566 L103.2 566 L103.6 566 L104 566 L104.4 566 L104.8 566 L105.2 566 L105.6 566 L106 566 L106.4 566 L106.8 566 L107.2 566 L107.6 566 L108 566 L108.4 566 L108.8 566 L109.2 566" stroke="#3c5b9a" stroke-width="1.1" fill="none"/>
<line x1="63.6" y1="543.9" x2="109.2" y2="543.9" stroke="#8d94a6" stroke-width="1.4"/>
<line x1="63.6" y1="555.2" x2="109.2" y2="555.2" stroke="#c3234b" stroke-width="1.2"/>
<line x1="78.5" y1="532.7" x2="78.5" y2="566.3" stroke="#333" stroke-width="1.2"/>
<text x="106.6" y="538.4" font-size="5.4" text-anchor="end" fill="#8d94a6">1.5</text>
<text x="106.6" y="550" font-size="5.4" text-anchor="end" fill="#c3234b">9.7</text>
<text x="106.6" y="561.5" font-size="5.4" text-anchor="end" fill="#3c5b9a">30.6</text>
<rect x="109.2" y="532.7" width="45.6" height="33.6" fill="#fff"/>
<path d="M109.2 543.89 L109.6 543.89 L110 543.89 L110.4 543.89 L110.8 543.88 L111.2 543.88 L111.6 543.87 L112 543.87 L112.4 543.86 L112.8 543.85 L113.2 543.84 L113.6 543.82 L114 543.79 L114.4 543.73 L114.8 543.61 L115.2 543.36 L115.6 542.89 L116 542.1 L116.4 540.89 L116.8 539.26 L117.2 537.35 L117.6 535.45 L118 533.95 L118.4 533.21 L118.8 533.42 L119.2 534.53 L119.6 536.22 L120 538.12 L120.4 539.86 L120.8 541.24 L121.2 542.18 L121.6 542.76 L122 543.07 L122.4 543.21 L122.8 543.27 L123.2 543.29 L123.6 543.3 L124 543.3 L124.4 543.3 L124.8 543.31 L125.2 543.32 L125.6 543.33 L126 543.35 L126.4 543.37 L126.8 543.39 L127.2 543.41 L127.6 543.44 L128 543.46 L128.4 543.49 L128.8 543.52 L129.2 543.55 L129.6 543.58 L130 543.61 L130.4 543.64 L130.8 543.66 L131.2 543.69 L131.6 543.71 L132 543.73 L132.4 543.75 L132.8 543.77 L133.2 543.79 L133.6 543.81 L134 543.82 L134.4 543.83 L134.8 543.84 L135.2 543.85 L135.6 543.86 L136 543.87 L136.4 543.87 L136.8 543.88 L137.2 543.88 L137.6 543.89 L138 543.89 L138.4 543.89 L138.8 543.89 L139.2 543.89 L139.6 543.9 L140 543.9 L140.4 543.9 L140.8 543.9 L141.2 543.9 L141.6 543.9 L142 543.9 L142.4 543.9 L142.8 543.9 L143.2 543.9 L143.6 543.9 L144 543.9 L144.4 543.9 L144.8 543.9 L145.2 543.9 L145.6 543.9 L146 543.9 L146.4 543.9 L146.8 543.9 L147.2 543.9 L147.6 543.9 L148 543.9 L148.4 543.9 L148.8 543.9 L149.2 543.9 L149.6 543.9 L150 543.9 L150.4 543.9 L150.8 543.9 L151.2 543.9 L151.6 543.9 L152 543.9 L152.4 543.9 L152.8 543.9 L153.2 543.9 L153.6 543.9 L154 543.9 L154.4 543.9 L154.8 543.9 L154.8 543.9 L109.2 543.9 Z" stroke="none" stroke-width="1" fill="#d6d9e2"/>
<path d="M109.2 543.89 L109.6 543.89 L110 543.89 L110.4 543.89 L110.8 543.88 L111.2 543.88 L111.6 543.87 L112 543.87 L112.4 543.86 L112.8 543.85 L113.2 543.84 L113.6 543.82 L114 543.79 L114.4 543.73 L114.8 543.61 L115.2 543.36 L115.6 542.89 L116 542.1 L116.4 540.89 L116.8 539.26 L117.2 537.35 L117.6 535.45 L118 533.95 L118.4 533.21 L118.8 533.42 L119.2 534.53 L119.6 536.22 L120 538.12 L120.4 539.86 L120.8 541.24 L121.2 542.18 L121.6 542.76 L122 543.07 L122.4 543.21 L122.8 543.27 L123.2 543.29 L123.6 543.3 L124 543.3 L124.4 543.3 L124.8 543.31 L125.2 543.32 L125.6 543.33 L126 543.35 L126.4 543.37 L126.8 543.39 L127.2 543.41 L127.6 543.44 L128 543.46 L128.4 543.49 L128.8 543.52 L129.2 543.55 L129.6 543.58 L130 543.61 L130.4 543.64 L130.8 543.66 L131.2 543.69 L131.6 543.71 L132 543.73 L132.4 543.75 L132.8 543.77 L133.2 543.79 L133.6 543.81 L134 543.82 L134.4 543.83 L134.8 543.84 L135.2 543.85 L135.6 543.86 L136 543.87 L136.4 543.87 L136.8 543.88 L137.2 543.88 L137.6 543.89 L138 543.89 L138.4 543.89 L138.8 543.89 L139.2 543.89 L139.6 543.9 L140 543.9 L140.4 543.9 L140.8 543.9 L141.2 543.9 L141.6 543.9 L142 543.9 L142.4 543.9 L142.8 543.9 L143.2 543.9 L143.6 543.9 L144 543.9 L144.4 543.9 L144.8 543.9 L145.2 543.9 L145.6 543.9 L146 543.9 L146.4 543.9 L146.8 543.9 L147.2 543.9 L147.6 543.9 L148 543.9 L148.4 543.9 L148.8 543.9 L149.2 543.9 L149.6 543.9 L150 543.9 L150.4 543.9 L150.8 543.9 L151.2 543.9 L151.6 543.9 L152 543.9 L152.4 543.9 L152.8 543.9 L153.2 543.9 L153.6 543.9 L154 543.9 L154.4 543.9 L154.8 543.9" stroke="#8d94a6" stroke-width="1.1" fill="none"/>
<path d="M109.2 555.2 L109.6 555.2 L110 555.2 L110.4 555.2 L110.8 555.2 L111.2 555.2 L111.6 555.2 L112 555.2 L112.4 555.2 L112.8 555.2 L113.2 555.19 L113.6 555.19 L114 555.16 L114.4 555.12 L114.8 555.02 L115.2 554.83 L115.6 554.49 L116 553.95 L116.4 553.15 L116.8 552.06 L117.2 550.71 L117.6 549.24 L118 547.82 L118.4 546.69 L118.8 546.06 L119.2 546.05 L119.6 546.67 L120 547.78 L120.4 549.18 L120.8 550.64 L121.2 551.96 L121.6 553.02 L122 553.8 L122.4 554.3 L122.8 554.59 L123.2 554.74 L123.6 554.78 L124 554.77 L124.4 554.72 L124.8 554.65 L125.2 554.57 L125.6 554.48 L126 554.37 L126.4 554.26 L126.8 554.14 L127.2 554.02 L127.6 553.88 L128 553.75 L128.4 553.61 L128.8 553.47 L129.2 553.33 L129.6 553.19 L130 553.05 L130.4 552.93 L130.8 552.81 L131.2 552.7 L131.6 552.61 L132 552.53 L132.4 552.47 L132.8 552.43 L133.2 552.41 L133.6 552.4 L134 552.42 L134.4 552.45 L134.8 552.5 L135.2 552.57 L135.6 552.66 L136 552.76 L136.4 552.87 L136.8 552.99 L137.2 553.12 L137.6 553.26 L138 553.4 L138.4 553.54 L138.8 553.68 L139.2 553.82 L139.6 553.95 L140 554.08 L140.4 554.2 L140.8 554.32 L141.2 554.43 L141.6 554.53 L142 554.62 L142.4 554.7 L142.8 554.77 L143.2 554.84 L143.6 554.89 L144 554.94 L144.4 554.99 L144.8 555.02 L145.2 555.06 L145.6 555.08 L146 555.11 L146.4 555.12 L146.8 555.14 L147.2 555.15 L147.6 555.16 L148 555.17 L148.4 555.18 L148.8 555.18 L149.2 555.19 L149.6 555.19 L150 555.19 L150.4 555.19 L150.8 555.2 L151.2 555.2 L151.6 555.2 L152 555.2 L152.4 555.2 L152.8 555.2 L153.2 555.2 L153.6 555.2 L154 555.2 L154.4 555.2 L154.8 555.2 L154.8 555.2 L109.2 555.2 Z" stroke="none" stroke-width="1" fill="#f2d3d7"/>
<path d="M109.2 555.2 L109.6 555.2 L110 555.2 L110.4 555.2 L110.8 555.2 L111.2 555.2 L111.6 555.2 L112 555.2 L112.4 555.2 L112.8 555.2 L113.2 555.19 L113.6 555.19 L114 555.16 L114.4 555.12 L114.8 555.02 L115.2 554.83 L115.6 554.49 L116 553.95 L116.4 553.15 L116.8 552.06 L117.2 550.71 L117.6 549.24 L118 547.82 L118.4 546.69 L118.8 546.06 L119.2 546.05 L119.6 546.67 L120 547.78 L120.4 549.18 L120.8 550.64 L121.2 551.96 L121.6 553.02 L122 553.8 L122.4 554.3 L122.8 554.59 L123.2 554.74 L123.6 554.78 L124 554.77 L124.4 554.72 L124.8 554.65 L125.2 554.57 L125.6 554.48 L126 554.37 L126.4 554.26 L126.8 554.14 L127.2 554.02 L127.6 553.88 L128 553.75 L128.4 553.61 L128.8 553.47 L129.2 553.33 L129.6 553.19 L130 553.05 L130.4 552.93 L130.8 552.81 L131.2 552.7 L131.6 552.61 L132 552.53 L132.4 552.47 L132.8 552.43 L133.2 552.41 L133.6 552.4 L134 552.42 L134.4 552.45 L134.8 552.5 L135.2 552.57 L135.6 552.66 L136 552.76 L136.4 552.87 L136.8 552.99 L137.2 553.12 L137.6 553.26 L138 553.4 L138.4 553.54 L138.8 553.68 L139.2 553.82 L139.6 553.95 L140 554.08 L140.4 554.2 L140.8 554.32 L141.2 554.43 L141.6 554.53 L142 554.62 L142.4 554.7 L142.8 554.77 L143.2 554.84 L143.6 554.89 L144 554.94 L144.4 554.99 L144.8 555.02 L145.2 555.06 L145.6 555.08 L146 555.11 L146.4 555.12 L146.8 555.14 L147.2 555.15 L147.6 555.16 L148 555.17 L148.4 555.18 L148.8 555.18 L149.2 555.19 L149.6 555.19 L150 555.19 L150.4 555.19 L150.8 555.2 L151.2 555.2 L151.6 555.2 L152 555.2 L152.4 555.2 L152.8 555.2 L153.2 555.2 L153.6 555.2 L154 555.2 L154.4 555.2 L154.8 555.2" stroke="#c3234b" stroke-width="1.1" fill="none"/>
<path d="M109.2 566 L109.6 566 L110 566 L110.4 566 L110.8 566 L111.2 566 L111.6 566 L112 566 L112.4 566 L112.8 566 L113.2 566 L113.6 565.99 L114 565.99 L114.4 565.99 L114.8 565.98 L115.2 565.96 L115.6 565.93 L116 565.86 L116.4 565.73 L116.8 565.48 L117.2 565.07 L117.6 564.41 L118 563.46 L118.4 562.21 L118.8 560.71 L119.2 559.1 L119.6 557.61 L120 556.49 L120.4 555.94 L120.8 556.06 L121.2 556.82 L121.6 558.05 L122 559.52 L122.4 560.99 L122.8 562.27 L123.2 563.26 L123.6 563.94 L124 564.34 L124.4 564.54 L124.8 564.59 L125.2 564.55 L125.6 564.46 L126 564.35 L126.4 564.23 L126.8 564.1 L127.2 563.98 L127.6 563.86 L128 563.74 L128.4 563.64 L128.8 563.55 L129.2 563.47 L129.6 563.4 L130 563.35 L130.4 563.32 L130.8 563.3 L131.2 563.3 L131.6 563.32 L132 563.35 L132.4 563.4 L132.8 563.47 L133.2 563.55 L133.6 563.64 L134 563.74 L134.4 563.86 L134.8 563.98 L135.2 564.1 L135.6 564.23 L136 564.36 L136.4 564.49 L136.8 564.62 L137.2 564.75 L137.6 564.87 L138 564.99 L138.4 565.1 L138.8 565.2 L139.2 565.3 L139.6 565.38 L140 565.47 L140.4 565.54 L140.8 565.6 L141.2 565.66 L141.6 565.71 L142 565.76 L142.4 565.8 L142.8 565.83 L143.2 565.86 L143.6 565.89 L144 565.91 L144.4 565.93 L144.8 565.94 L145.2 565.95 L145.6 565.96 L146 565.97 L146.4 565.98 L146.8 565.98 L147.2 565.99 L147.6 565.99 L148 565.99 L148.4 565.99 L148.8 566 L149.2 566 L149.6 566 L150 566 L150.4 566 L150.8 566 L151.2 566 L151.6 566 L152 566 L152.4 566 L152.8 566 L153.2 566 L153.6 566 L154 566 L154.4 566 L154.8 566 L154.8 566 L109.2 566 Z" stroke="none" stroke-width="1" fill="#d0d6e7"/>
<path d="M109.2 566 L109.6 566 L110 566 L110.4 566 L110.8 566 L111.2 566 L111.6 566 L112 566 L112.4 566 L112.8 566 L113.2 566 L113.6 565.99 L114 565.99 L114.4 565.99 L114.8 565.98 L115.2 565.96 L115.6 565.93 L116 565.86 L116.4 565.73 L116.8 565.48 L117.2 565.07 L117.6 564.41 L118 563.46 L118.4 562.21 L118.8 560.71 L119.2 559.1 L119.6 557.61 L120 556.49 L120.4 555.94 L120.8 556.06 L121.2 556.82 L121.6 558.05 L122 559.52 L122.4 560.99 L122.8 562.27 L123.2 563.26 L123.6 563.94 L124 564.34 L124.4 564.54 L124.8 564.59 L125.2 564.55 L125.6 564.46 L126 564.35 L126.4 564.23 L126.8 564.1 L127.2 563.98 L127.6 563.86 L128 563.74 L128.4 563.64 L128.8 563.55 L129.2 563.47 L129.6 563.4 L130 563.35 L130.4 563.32 L130.8 563.3 L131.2 563.3 L131.6 563.32 L132 563.35 L132.4 563.4 L132.8 563.47 L133.2 563.55 L133.6 563.64 L134 563.74 L134.4 563.86 L134.8 563.98 L135.2 564.1 L135.6 564.23 L136 564.36 L136.4 564.49 L136.8 564.62 L137.2 564.75 L137.6 564.87 L138 564.99 L138.4 565.1 L138.8 565.2 L139.2 565.3 L139.6 565.38 L140 565.47 L140.4 565.54 L140.8 565.6 L141.2 565.66 L141.6 565.71 L142 565.76 L142.4 565.8 L142.8 565.83 L143.2 565.86 L143.6 565.89 L144 565.91 L144.4 565.93 L144.8 565.94 L145.2 565.95 L145.6 565.96 L146 565.97 L146.4 565.98 L146.8 565.98 L147.2 565.99 L147.6 565.99 L148 565.99 L148.4 565.99 L148.8 566 L149.2 566 L149.6 566 L150 566 L150.4 566 L150.8 566 L151.2 566 L151.6 566 L152 566 L152.4 566 L152.8 566 L153.2 566 L153.6 566 L154 566 L154.4 566 L154.8 566" stroke="#3c5b9a" stroke-width="1.1" fill="none"/>
<line x1="109.2" y1="543.9" x2="154.8" y2="543.9" stroke="#8d94a6" stroke-width="1.4"/>
<line x1="109.2" y1="555.2" x2="154.8" y2="555.2" stroke="#c3234b" stroke-width="1.2"/>
<line x1="124.5" y1="532.7" x2="124.5" y2="566.3" stroke="#333" stroke-width="1.2"/>
<text x="152.2" y="538.4" font-size="5.4" text-anchor="end" fill="#8d94a6">9.7</text>
<text x="152.2" y="550" font-size="5.4" text-anchor="end" fill="#c3234b">41.8</text>
<text x="152.2" y="561.5" font-size="5.4" text-anchor="end" fill="#3c5b9a">41.4</text>
<rect x="154.8" y="532.7" width="45.6" height="33.6" fill="#fff"/>
<path d="M154.8 543.9 L155.2 543.9 L155.6 543.9 L156 543.9 L156.4 543.9 L156.8 543.9 L157.2 543.9 L157.6 543.9 L158 543.9 L158.4 543.9 L158.8 543.9 L159.2 543.87 L159.6 543.76 L160 543.3 L160.4 542.03 L160.8 539.5 L161.2 536.13 L161.6 533.57 L162 533.57 L162.4 536.13 L162.8 539.5 L163.2 542.03 L163.6 543.3 L164 543.76 L164.4 543.87 L164.8 543.9 L165.2 543.9 L165.6 543.9 L166 543.9 L166.4 543.9 L166.8 543.9 L167.2 543.9 L167.6 543.9 L168 543.9 L168.4 543.9 L168.8 543.9 L169.2 543.9 L169.6 543.9 L170 543.9 L170.4 543.9 L170.8 543.9 L171.2 543.9 L171.6 543.9 L172 543.9 L172.4 543.9 L172.8 543.9 L173.2 543.9 L173.6 543.9 L174 543.9 L174.4 543.9 L174.8 543.9 L175.2 543.9 L175.6 543.9 L176 543.9 L176.4 543.9 L176.8 543.9 L177.2 543.9 L177.6 543.9 L178 543.9 L178.4 543.9 L178.8 543.9 L179.2 543.9 L179.6 543.9 L180 543.9 L180.4 543.9 L180.8 543.9 L181.2 543.9 L181.6 543.9 L182 543.9 L182.4 543.9 L182.8 543.9 L183.2 543.9 L183.6 543.9 L184 543.9 L184.4 543.9 L184.8 543.9 L185.2 543.9 L185.6 543.9 L186 543.9 L186.4 543.9 L186.8 543.9 L187.2 543.9 L187.6 543.9 L188 543.9 L188.4 543.9 L188.8 543.9 L189.2 543.9 L189.6 543.9 L190 543.9 L190.4 543.9 L190.8 543.9 L191.2 543.9 L191.6 543.9 L192 543.9 L192.4 543.9 L192.8 543.9 L193.2 543.9 L193.6 543.9 L194 543.9 L194.4 543.9 L194.8 543.9 L195.2 543.9 L195.6 543.9 L196 543.9 L196.4 543.9 L196.8 543.9 L197.2 543.9 L197.6 543.9 L198 543.9 L198.4 543.9 L198.8 543.9 L199.2 543.9 L199.6 543.9 L200 543.9 L200.4 543.9 L200.4 543.9 L154.8 543.9 Z" stroke="none" stroke-width="1" fill="#d6d9e2"/>
<path d="M154.8 543.9 L155.2 543.9 L155.6 543.9 L156 543.9 L156.4 543.9 L156.8 543.9 L157.2 543.9 L157.6 543.9 L158 543.9 L158.4 543.9 L158.8 543.9 L159.2 543.87 L159.6 543.76 L160 543.3 L160.4 542.03 L160.8 539.5 L161.2 536.13 L161.6 533.57 L162 533.57 L162.4 536.13 L162.8 539.5 L163.2 542.03 L163.6 543.3 L164 543.76 L164.4 543.87 L164.8 543.9 L165.2 543.9 L165.6 543.9 L166 543.9 L166.4 543.9 L166.8 543.9 L167.2 543.9 L167.6 543.9 L168 543.9 L168.4 543.9 L168.8 543.9 L169.2 543.9 L169.6 543.9 L170 543.9 L170.4 543.9 L170.8 543.9 L171.2 543.9 L171.6 543.9 L172 543.9 L172.4 543.9 L172.8 543.9 L173.2 543.9 L173.6 543.9 L174 543.9 L174.4 543.9 L174.8 543.9 L175.2 543.9 L175.6 543.9 L176 543.9 L176.4 543.9 L176.8 543.9 L177.2 543.9 L177.6 543.9 L178 543.9 L178.4 543.9 L178.8 543.9 L179.2 543.9 L179.6 543.9 L180 543.9 L180.4 543.9 L180.8 543.9 L181.2 543.9 L181.6 543.9 L182 543.9 L182.4 543.9 L182.8 543.9 L183.2 543.9 L183.6 543.9 L184 543.9 L184.4 543.9 L184.8 543.9 L185.2 543.9 L185.6 543.9 L186 543.9 L186.4 543.9 L186.8 543.9 L187.2 543.9 L187.6 543.9 L188 543.9 L188.4 543.9 L188.8 543.9 L189.2 543.9 L189.6 543.9 L190 543.9 L190.4 543.9 L190.8 543.9 L191.2 543.9 L191.6 543.9 L192 543.9 L192.4 543.9 L192.8 543.9 L193.2 543.9 L193.6 543.9 L194 543.9 L194.4 543.9 L194.8 543.9 L195.2 543.9 L195.6 543.9 L196 543.9 L196.4 543.9 L196.8 543.9 L197.2 543.9 L197.6 543.9 L198 543.9 L198.4 543.9 L198.8 543.9 L199.2 543.9 L199.6 543.9 L200 543.9 L200.4 543.9" stroke="#8d94a6" stroke-width="1.1" fill="none"/>
<path d="M154.8 555.2 L155.2 555.2 L155.6 555.19 L156 555.19 L156.4 555.19 L156.8 555.18 L157.2 555.17 L157.6 555.16 L158 555.14 L158.4 555.11 L158.8 555.08 L159.2 555.03 L159.6 554.95 L160 554.81 L160.4 554.53 L160.8 553.95 L161.2 552.91 L161.6 551.26 L162 549.14 L162.4 547.03 L162.8 545.62 L163.2 545.45 L163.6 546.5 L164 548.28 L164.4 550.1 L164.8 551.49 L165.2 552.32 L165.6 552.73 L166 552.91 L166.4 552.99 L166.8 553.07 L167.2 553.17 L167.6 553.29 L168 553.44 L168.4 553.6 L168.8 553.78 L169.2 553.95 L169.6 554.13 L170 554.3 L170.4 554.45 L170.8 554.59 L171.2 554.71 L171.6 554.81 L172 554.9 L172.4 554.97 L172.8 555.03 L173.2 555.08 L173.6 555.11 L174 555.14 L174.4 555.16 L174.8 555.17 L175.2 555.18 L175.6 555.19 L176 555.19 L176.4 555.19 L176.8 555.2 L177.2 555.2 L177.6 555.2 L178 555.2 L178.4 555.2 L178.8 555.2 L179.2 555.2 L179.6 555.2 L180 555.2 L180.4 555.2 L180.8 555.2 L181.2 555.2 L181.6 555.2 L182 555.2 L182.4 555.2 L182.8 555.2 L183.2 555.2 L183.6 555.2 L184 555.2 L184.4 555.2 L184.8 555.2 L185.2 555.2 L185.6 555.2 L186 555.2 L186.4 555.2 L186.8 555.2 L187.2 555.2 L187.6 555.2 L188 555.2 L188.4 555.2 L188.8 555.2 L189.2 555.2 L189.6 555.2 L190 555.2 L190.4 555.2 L190.8 555.2 L191.2 555.2 L191.6 555.2 L192 555.2 L192.4 555.2 L192.8 555.2 L193.2 555.2 L193.6 555.2 L194 555.2 L194.4 555.2 L194.8 555.2 L195.2 555.2 L195.6 555.2 L196 555.2 L196.4 555.2 L196.8 555.2 L197.2 555.2 L197.6 555.2 L198 555.2 L198.4 555.2 L198.8 555.2 L199.2 555.2 L199.6 555.2 L200 555.2 L200.4 555.2 L200.4 555.2 L154.8 555.2 Z" stroke="none" stroke-width="1" fill="#f2d3d7"/>
<path d="M154.8 555.2 L155.2 555.2 L155.6 555.19 L156 555.19 L156.4 555.19 L156.8 555.18 L157.2 555.17 L157.6 555.16 L158 555.14 L158.4 555.11 L158.8 555.08 L159.2 555.03 L159.6 554.95 L160 554.81 L160.4 554.53 L160.8 553.95 L161.2 552.91 L161.6 551.26 L162 549.14 L162.4 547.03 L162.8 545.62 L163.2 545.45 L163.6 546.5 L164 548.28 L164.4 550.1 L164.8 551.49 L165.2 552.32 L165.6 552.73 L166 552.91 L166.4 552.99 L166.8 553.07 L167.2 553.17 L167.6 553.29 L168 553.44 L168.4 553.6 L168.8 553.78 L169.2 553.95 L169.6 554.13 L170 554.3 L170.4 554.45 L170.8 554.59 L171.2 554.71 L171.6 554.81 L172 554.9 L172.4 554.97 L172.8 555.03 L173.2 555.08 L173.6 555.11 L174 555.14 L174.4 555.16 L174.8 555.17 L175.2 555.18 L175.6 555.19 L176 555.19 L176.4 555.19 L176.8 555.2 L177.2 555.2 L177.6 555.2 L178 555.2 L178.4 555.2 L178.8 555.2 L179.2 555.2 L179.6 555.2 L180 555.2 L180.4 555.2 L180.8 555.2 L181.2 555.2 L181.6 555.2 L182 555.2 L182.4 555.2 L182.8 555.2 L183.2 555.2 L183.6 555.2 L184 555.2 L184.4 555.2 L184.8 555.2 L185.2 555.2 L185.6 555.2 L186 555.2 L186.4 555.2 L186.8 555.2 L187.2 555.2 L187.6 555.2 L188 555.2 L188.4 555.2 L188.8 555.2 L189.2 555.2 L189.6 555.2 L190 555.2 L190.4 555.2 L190.8 555.2 L191.2 555.2 L191.6 555.2 L192 555.2 L192.4 555.2 L192.8 555.2 L193.2 555.2 L193.6 555.2 L194 555.2 L194.4 555.2 L194.8 555.2 L195.2 555.2 L195.6 555.2 L196 555.2 L196.4 555.2 L196.8 555.2 L197.2 555.2 L197.6 555.2 L198 555.2 L198.4 555.2 L198.8 555.2 L199.2 555.2 L199.6 555.2 L200 555.2 L200.4 555.2" stroke="#c3234b" stroke-width="1.1" fill="none"/>
<path d="M154.8 566 L155.2 566 L155.6 566 L156 566 L156.4 566 L156.8 566 L157.2 566 L157.6 566 L158 566 L158.4 566 L158.8 566 L159.2 565.99 L159.6 565.94 L160 565.78 L160.4 565.32 L160.8 564.27 L161.2 562.37 L161.6 559.75 L162 557.17 L162.4 555.76 L162.8 556.26 L163.2 558.39 L163.6 561.12 L164 563.43 L164.4 564.89 L164.8 565.61 L165.2 565.89 L165.6 565.97 L166 565.99 L166.4 566 L166.8 566 L167.2 566 L167.6 566 L168 566 L168.4 566 L168.8 566 L169.2 566 L169.6 566 L170 566 L170.4 566 L170.8 566 L171.2 566 L171.6 566 L172 566 L172.4 566 L172.8 566 L173.2 566 L173.6 566 L174 566 L174.4 566 L174.8 566 L175.2 566 L175.6 566 L176 566 L176.4 566 L176.8 566 L177.2 566 L177.6 566 L178 566 L178.4 566 L178.8 566 L179.2 566 L179.6 566 L180 566 L180.4 566 L180.8 566 L181.2 566 L181.6 566 L182 566 L182.4 566 L182.8 566 L183.2 566 L183.6 566 L184 566 L184.4 566 L184.8 566 L185.2 566 L185.6 566 L186 566 L186.4 566 L186.8 566 L187.2 566 L187.6 566 L188 566 L188.4 566 L188.8 566 L189.2 566 L189.6 566 L190 566 L190.4 566 L190.8 566 L191.2 566 L191.6 566 L192 566 L192.4 566 L192.8 566 L193.2 566 L193.6 566 L194 566 L194.4 566 L194.8 566 L195.2 566 L195.6 566 L196 566 L196.4 566 L196.8 566 L197.2 566 L197.6 566 L198 566 L198.4 566 L198.8 566 L199.2 566 L199.6 566 L200 566 L200.4 566 L200.4 566 L154.8 566 Z" stroke="none" stroke-width="1" fill="#d0d6e7"/>
<path d="M154.8 566 L155.2 566 L155.6 566 L156 566 L156.4 566 L156.8 566 L157.2 566 L157.6 566 L158 566 L158.4 566 L158.8 566 L159.2 565.99 L159.6 565.94 L160 565.78 L160.4 565.32 L160.8 564.27 L161.2 562.37 L161.6 559.75 L162 557.17 L162.4 555.76 L162.8 556.26 L163.2 558.39 L163.6 561.12 L164 563.43 L164.4 564.89 L164.8 565.61 L165.2 565.89 L165.6 565.97 L166 565.99 L166.4 566 L166.8 566 L167.2 566 L167.6 566 L168 566 L168.4 566 L168.8 566 L169.2 566 L169.6 566 L170 566 L170.4 566 L170.8 566 L171.2 566 L171.6 566 L172 566 L172.4 566 L172.8 566 L173.2 566 L173.6 566 L174 566 L174.4 566 L174.8 566 L175.2 566 L175.6 566 L176 566 L176.4 566 L176.8 566 L177.2 566 L177.6 566 L178 566 L178.4 566 L178.8 566 L179.2 566 L179.6 566 L180 566 L180.4 566 L180.8 566 L181.2 566 L181.6 566 L182 566 L182.4 566 L182.8 566 L183.2 566 L183.6 566 L184 566 L184.4 566 L184.8 566 L185.2 566 L185.6 566 L186 566 L186.4 566 L186.8 566 L187.2 566 L187.6 566 L188 566 L188.4 566 L188.8 566 L189.2 566 L189.6 566 L190 566 L190.4 566 L190.8 566 L191.2 566 L191.6 566 L192 566 L192.4 566 L192.8 566 L193.2 566 L193.6 566 L194 566 L194.4 566 L194.8 566 L195.2 566 L195.6 566 L196 566 L196.4 566 L196.8 566 L197.2 566 L197.6 566 L198 566 L198.4 566 L198.8 566 L199.2 566 L199.6 566 L200 566 L200.4 566" stroke="#3c5b9a" stroke-width="1.1" fill="none"/>
<line x1="154.8" y1="543.9" x2="200.4" y2="543.9" stroke="#8d94a6" stroke-width="1.4"/>
<line x1="154.8" y1="555.2" x2="200.4" y2="555.2" stroke="#c3234b" stroke-width="1.2"/>
<line x1="165.2" y1="532.7" x2="165.2" y2="566.3" stroke="#333" stroke-width="1.2"/>
<text x="197.8" y="538.4" font-size="5.4" text-anchor="end" fill="#8d94a6">0.1</text>
<text x="197.8" y="550" font-size="5.4" text-anchor="end" fill="#c3234b">34.8</text>
<text x="197.8" y="561.5" font-size="5.4" text-anchor="end" fill="#3c5b9a">12.6</text>
<line x1="18.2" y1="532.7" x2="18.2" y2="566.3" stroke="#111" stroke-width="1.6"/>
<line x1="63.6" y1="532.7" x2="63.6" y2="566.3" stroke="#111" stroke-width="1.6"/>
<line x1="109.2" y1="532.7" x2="109.2" y2="566.3" stroke="#111" stroke-width="1.6"/>
<line x1="154.8" y1="532.7" x2="154.8" y2="566.3" stroke="#111" stroke-width="1.6"/>
<line x1="200.4" y1="532.7" x2="200.4" y2="566.3" stroke="#111" stroke-width="1.6"/>
<line x1="17.4" y1="532.7" x2="201.2" y2="532.7" stroke="#111" stroke-width="1.6"/>
<line x1="17.4" y1="566.3" x2="201.2" y2="566.3" stroke="#111" stroke-width="1.6"/>
<text x="202.7" y="541.6" font-size="7" fill="#70788a">Host</text>
<text x="202.7" y="552.3" font-size="7" fill="#c3234b" textLength="32" lengthAdjust="spacingAndGlyphs">WT CAR-T</text>
<text x="202.7" y="562.7" font-size="7" fill="#3c5b9a" textLength="32" lengthAdjust="spacingAndGlyphs">KO CAR-T</text>
<text x="41.2" y="575.6" font-size="7" text-anchor="middle">IFN&#947;</text>
<text x="86" y="575.6" font-size="7" text-anchor="middle">IL-2</text>
<text x="130.6" y="575.6" font-size="7" text-anchor="middle">TNF&#945;</text>
<text x="177.8" y="575.6" font-size="7" text-anchor="middle">GzmB</text>
<text x="109.4" y="587.6" font-size="9.5" text-anchor="middle">2<tspan font-size="6" dy="-3.5">o</tspan></text>
<text x="110.6" y="599.9" font-size="9.3" text-anchor="middle">Day 5</text>
<line x1="73.8" y1="591.5" x2="73.8" y2="666.05" stroke="#1a1a1a" stroke-width="1.5"/>
<line x1="70.8" y1="665.3" x2="73.8" y2="665.3" stroke="#1a1a1a" stroke-width="1"/>
<text x="67.6" y="667.64" font-size="6.5" text-anchor="end">0</text>
<line x1="70.8" y1="650.84" x2="73.8" y2="650.84" stroke="#1a1a1a" stroke-width="1"/>
<text x="67.6" y="653.18" font-size="6.5" text-anchor="end">20</text>
<line x1="70.8" y1="636.38" x2="73.8" y2="636.38" stroke="#1a1a1a" stroke-width="1"/>
<text x="67.6" y="638.72" font-size="6.5" text-anchor="end">40</text>
<line x1="70.8" y1="621.92" x2="73.8" y2="621.92" stroke="#1a1a1a" stroke-width="1"/>
<text x="67.6" y="624.26" font-size="6.5" text-anchor="end">60</text>
<line x1="70.8" y1="607.46" x2="73.8" y2="607.46" stroke="#1a1a1a" stroke-width="1"/>
<text x="67.6" y="609.8" font-size="6.5" text-anchor="end">80</text>
<line x1="70.8" y1="593" x2="73.8" y2="593" stroke="#1a1a1a" stroke-width="1"/>
<text x="67.6" y="595.34" font-size="6.5" text-anchor="end">100</text>
<line x1="73.8" y1="665.3" x2="146.3" y2="665.3" stroke="#1a1a1a" stroke-width="1.3"/>
<rect x="77.3" y="603.85" width="5.2" height="61.45" fill="#a8002d"/>
<rect x="84" y="594.08" width="5.2" height="71.22" fill="#23457b"/>
<line x1="78.4" y1="603.27" x2="81.4" y2="603.27" stroke="#1a1a1a" stroke-width="1.1"/>
<line x1="79.9" y1="603.27" x2="79.9" y2="603.85" stroke="#1a1a1a" stroke-width="1"/>
<line x1="85.1" y1="593.8" x2="88.1" y2="593.8" stroke="#1a1a1a" stroke-width="1.1"/>
<line x1="86.6" y1="593.8" x2="86.6" y2="594.08" stroke="#1a1a1a" stroke-width="1"/>
<line x1="83.25" y1="665.3" x2="83.25" y2="668.3" stroke="#1a1a1a" stroke-width="1"/>
<rect x="95.35" y="657.35" width="5.2" height="7.95" fill="#a8002d"/>
<rect x="102.05" y="643.61" width="5.2" height="21.69" fill="#23457b"/>
<line x1="96.45" y1="656.77" x2="99.45" y2="656.77" stroke="#1a1a1a" stroke-width="1.1"/>
<line x1="97.95" y1="656.77" x2="97.95" y2="657.35" stroke="#1a1a1a" stroke-width="1"/>
<line x1="103.15" y1="643.03" x2="106.15" y2="643.03" stroke="#1a1a1a" stroke-width="1.1"/>
<line x1="104.65" y1="643.03" x2="104.65" y2="643.61" stroke="#1a1a1a" stroke-width="1"/>
<line x1="101.3" y1="665.3" x2="101.3" y2="668.3" stroke="#1a1a1a" stroke-width="1"/>
<rect x="113.4" y="635.66" width="5.2" height="29.64" fill="#a8002d"/>
<rect x="120.1" y="637.1" width="5.2" height="28.2" fill="#23457b"/>
<line x1="114.5" y1="635.3" x2="117.5" y2="635.3" stroke="#1a1a1a" stroke-width="1.1"/>
<line x1="116" y1="635.3" x2="116" y2="635.66" stroke="#1a1a1a" stroke-width="1"/>
<line x1="121.2" y1="636.52" x2="124.2" y2="636.52" stroke="#1a1a1a" stroke-width="1.1"/>
<line x1="122.7" y1="636.52" x2="122.7" y2="637.1" stroke="#1a1a1a" stroke-width="1"/>
<line x1="119.35" y1="665.3" x2="119.35" y2="668.3" stroke="#1a1a1a" stroke-width="1"/>
<rect x="131.45" y="640" width="5.2" height="25.3" fill="#a8002d"/>
<rect x="138.15" y="655.9" width="5.2" height="9.4" fill="#23457b"/>
<line x1="132.55" y1="638.19" x2="135.55" y2="638.19" stroke="#1a1a1a" stroke-width="1.1"/>
<line x1="134.05" y1="638.19" x2="134.05" y2="640" stroke="#1a1a1a" stroke-width="1"/>
<line x1="139.25" y1="655.32" x2="142.25" y2="655.32" stroke="#1a1a1a" stroke-width="1.1"/>
<line x1="140.75" y1="655.32" x2="140.75" y2="655.9" stroke="#1a1a1a" stroke-width="1"/>
<line x1="137.4" y1="665.3" x2="137.4" y2="668.3" stroke="#1a1a1a" stroke-width="1"/>
<text x="85.85" y="675.9" font-size="6.8" text-anchor="end" transform="rotate(-45 85.85 675.9)">IFN&#947;</text>
<text x="103.9" y="675.9" font-size="6.8" text-anchor="end" transform="rotate(-45 103.9 675.9)">IL-2</text>
<text x="121.95" y="675.9" font-size="6.8" text-anchor="end" transform="rotate(-45 121.95 675.9)">TNF&#945;</text>
<text x="140" y="675.9" font-size="6.8" text-anchor="end" transform="rotate(-45 140 675.9)">GzmB</text>
<line x1="77.5" y1="591.3" x2="88.8" y2="591.3" stroke="#4a4a4a" stroke-width="1.25"/>
<rect x="78.8" y="587.73" width="1.35" height="1.35" fill="#2a2a2a"/>
<rect x="81.25" y="587.73" width="1.35" height="1.35" fill="#2a2a2a"/>
<rect x="83.7" y="587.73" width="1.35" height="1.35" fill="#2a2a2a"/>
<rect x="86.15" y="587.73" width="1.35" height="1.35" fill="#2a2a2a"/>
<line x1="95.5" y1="638.8" x2="107" y2="638.8" stroke="#4a4a4a" stroke-width="1.25"/>
<rect x="96.9" y="635.23" width="1.35" height="1.35" fill="#2a2a2a"/>
<rect x="99.35" y="635.23" width="1.35" height="1.35" fill="#2a2a2a"/>
<rect x="101.8" y="635.23" width="1.35" height="1.35" fill="#2a2a2a"/>
<rect x="104.25" y="635.23" width="1.35" height="1.35" fill="#2a2a2a"/>
<line x1="132" y1="635" x2="142.5" y2="635" stroke="#4a4a4a" stroke-width="1.25"/>
<rect x="134.12" y="631.43" width="1.35" height="1.35" fill="#2a2a2a"/>
<rect x="136.57" y="631.43" width="1.35" height="1.35" fill="#2a2a2a"/>
<rect x="139.03" y="631.43" width="1.35" height="1.35" fill="#2a2a2a"/>
<text x="51" y="652.3" font-size="9" textLength="49" lengthAdjust="spacingAndGlyphs" transform="rotate(-90 51 652.3)" stroke="#1a1a1a" stroke-width="0.22">% of CAR-T cells</text>
<rect x="155.2" y="638.3" width="7.8" height="6.1" fill="#a8002d"/>
<rect x="155.2" y="647.8" width="7.8" height="6.1" fill="#23457b"/>
<text x="166.1" y="643.6" font-size="6.5" textLength="27.2" lengthAdjust="spacingAndGlyphs">WT CAR-T</text>
<text x="166.1" y="653.1" font-size="6.5" textLength="27.2" lengthAdjust="spacingAndGlyphs">KO CAR-T</text>
<rect x="0.5" y="0.5" width="519" height="697" fill="none" stroke="#000" stroke-width="1.3"/>
</svg>
</body></html>
